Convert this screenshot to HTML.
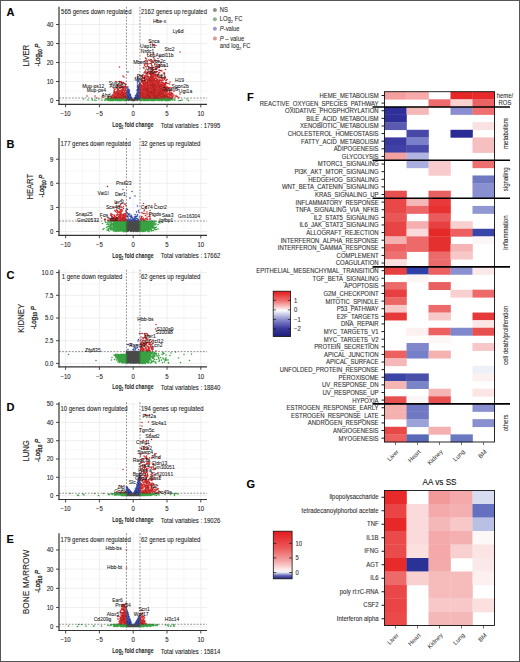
<!DOCTYPE html>
<html><head><meta charset="utf-8"><style>
html,body{margin:0;padding:0;background:#fff;}
svg{display:block;font-family:"Liberation Sans", sans-serif;}

</style></head><body>
<svg width="520" height="662" viewBox="0 0 520 662">
<rect width="520" height="662" fill="#fff"/>
<line x1="65.60" y1="6.8" x2="65.60" y2="104.4" stroke="#e4e4e4" stroke-width="0.6"/><line x1="82.50" y1="6.8" x2="82.50" y2="104.4" stroke="#f2f2f2" stroke-width="0.6"/><line x1="99.40" y1="6.8" x2="99.40" y2="104.4" stroke="#e4e4e4" stroke-width="0.6"/><line x1="116.30" y1="6.8" x2="116.30" y2="104.4" stroke="#f2f2f2" stroke-width="0.6"/><line x1="133.20" y1="6.8" x2="133.20" y2="104.4" stroke="#e4e4e4" stroke-width="0.6"/><line x1="150.10" y1="6.8" x2="150.10" y2="104.4" stroke="#f2f2f2" stroke-width="0.6"/><line x1="167.00" y1="6.8" x2="167.00" y2="104.4" stroke="#e4e4e4" stroke-width="0.6"/><line x1="183.90" y1="6.8" x2="183.90" y2="104.4" stroke="#f2f2f2" stroke-width="0.6"/><line x1="200.80" y1="6.8" x2="200.80" y2="104.4" stroke="#e4e4e4" stroke-width="0.6"/><line x1="59.0" y1="100.50" x2="207.0" y2="100.50" stroke="#e4e4e4" stroke-width="0.6"/><line x1="59.0" y1="91.00" x2="207.0" y2="91.00" stroke="#f2f2f2" stroke-width="0.6"/><line x1="59.0" y1="81.50" x2="207.0" y2="81.50" stroke="#e4e4e4" stroke-width="0.6"/><line x1="59.0" y1="72.00" x2="207.0" y2="72.00" stroke="#f2f2f2" stroke-width="0.6"/><line x1="59.0" y1="62.50" x2="207.0" y2="62.50" stroke="#e4e4e4" stroke-width="0.6"/><line x1="59.0" y1="53.00" x2="207.0" y2="53.00" stroke="#f2f2f2" stroke-width="0.6"/><line x1="59.0" y1="43.50" x2="207.0" y2="43.50" stroke="#e4e4e4" stroke-width="0.6"/><line x1="59.0" y1="34.00" x2="207.0" y2="34.00" stroke="#f2f2f2" stroke-width="0.6"/><line x1="59.0" y1="24.50" x2="207.0" y2="24.50" stroke="#e4e4e4" stroke-width="0.6"/>
<g transform="scale(0.5)" fill="none" stroke-linecap="round">
<path d="M268 200h0M264 199h0M265 200h0M266 201h0M258 196h0M263 200h0M267 201h0M265 201h0M264 200h0M262 199h0M270 199h0M269 200h0M264 201h0M263 199h0M270 200h0M269 199h0M271 198h0M260 198h0M268 201h0M272 197h0M271 199h0M267 200h0M260 196h0M262 200h0M262 198h0M272 198h0M271 196h0M261 198h0M259 198h0M271 197h0M257 198h0M263 198h0M274 198h0M272 199h0M273 198h0M268 199h0M261 199h0M260 197h0M273 197h0M275 197h0M273 196h0M259 197h0M262 197h0M274 197h0M270 197h0M274 196h0M266 200h0M270 198h0M257 197h0M261 197h0M269 198h0M261 196h0M271 200h0M263 197h0M258 197h0M272 196h0M273 199h0M259 199h0M260 199h0M262 196h0M275 198h0M264 198h0M264 197h0M259 196h0M256 197h0M258 198h0M269 197h0M272 200h0M270 196h0M269 201h0M276 197h0M268 198h0M274 199h0M257 196h0M256 196h0M276 196h0M275 196h0M277 198h0M277 196h0M265 199h0M261 200h0M278 196h0M263 196h0M280 196h0M277 197h0M275 200h0M276 199h0M275 199h0M275 201h0M280 197h0M278 198h0M277 199h0M280 199h0M258 199h0M256 200h0M254 199h0M256 198h0M258 201h0M256 199h0M253 201h0M257 200h0M255 197h0M257 199h0M258 200h0M254 198h0" stroke="#303030" stroke-opacity="0.88" stroke-width="3.2"/>
<path d="M306 197h0M288 197h0M330 196h0M324 200h0M293 198h0M313 196h0M318 199h0M284 197h0M299 199h0M322 199h0M331 197h0M341 200h0M324 197h0M334 199h0M290 198h0M296 197h0M336 198h0M314 197h0M345 200h0M311 196h0M320 198h0M330 197h0M319 198h0M295 198h0M286 199h0M300 197h0M280 197h0M322 197h0M297 198h0M317 198h0M288 198h0M311 197h0M331 196h0M332 199h0M325 198h0M322 200h0M321 197h0M312 198h0M301 197h0M301 198h0M296 198h0M342 197h0M321 199h0M311 199h0M282 197h0M307 197h0M285 198h0M323 196h0M298 196h0M317 197h0M344 198h0M287 198h0M295 197h0M294 199h0M314 199h0M297 196h0M321 198h0M308 198h0M302 198h0M287 199h0M316 197h0M291 198h0M339 198h0M305 200h0M328 198h0M302 200h0M333 197h0M306 198h0M298 201h0M298 197h0M326 196h0M301 196h0M286 198h0M299 198h0M319 200h0M332 198h0M283 197h0M338 199h0M309 197h0M290 196h0M331 198h0M312 197h0M309 198h0M286 197h0M315 200h0M303 197h0M326 199h0M287 197h0M335 198h0M305 197h0M312 200h0M333 199h0M295 196h0M343 198h0M282 199h0M281 201h0M335 197h0M344 197h0M310 197h0M293 197h0M282 196h0M288 199h0M345 198h0M338 198h0M313 197h0M244 197h0M231 198h0M243 200h0M235 197h0M217 199h0M229 198h0M226 197h0M220 198h0M226 198h0M230 197h0M219 198h0M247 200h0M242 198h0M220 199h0M249 196h0M225 197h0M223 200h0M225 201h0M225 199h0M238 199h0M227 198h0M245 200h0M233 199h0M215 199h0M228 200h0M244 196h0M247 199h0M232 199h0M225 200h0M234 197h0M227 199h0M226 201h0M230 200h0M248 199h0M229 200h0M245 197h0M226 199h0M245 198h0M234 198h0M245 199h0M240 199h0M241 199h0M251 199h0M223 199h0M221 197h0M246 200h0M246 199h0M243 198h0M230 199h0M220 200h0M250 200h0M228 198h0M250 199h0M241 201h0M212 197h0M231 200h0M219 200h0M247 196h0M223 198h0M218 198h0M237 197h0M212 199h0M252 199h0M243 199h0M238 200h0M210 201h0M238 197h0M221 200h0M236 199h0M229 197h0M235 201h0M235 196h0M233 198h0M216 200h0M236 197h0M249 197h0M233 200h0M235 200h0M214 199h0M223 197h0M222 199h0M242 201h0M210 200h0M244 201h0M247 197h0M246 198h0M244 200h0M230 198h0M239 201h0M216 201h0M236 198h0M218 197h0M221 199h0M227 197h0M221 201h0M228 199h0M243 197h0M219 201h0M229 199h0M248 200h0M228 196h0M247 198h0M233 197h0M242 196h0M243 201h0M226 196h0M224 200h0M217 198h0M236 200h0M215 198h0M237 198h0M234 200h0M224 199h0M231 199h0M246 197h0M249 200h0M226 200h0M213 197h0M238 198h0M248 197h0M204 200h0M232 197h0M249 199h0M215 200h0M250 197h0M240 197h0M231 197h0M231 196h0M214 197h0M244 199h0M240 196h0M214 198h0M251 196h0M239 197h0M224 201h0M216 196h0M237 199h0M251 198h0M222 200h0M241 198h0M248 198h0M228 197h0M243 196h0M253 199h0M230 196h0M225 198h0M237 200h0M252 201h0M238 196h0M237 196h0M220 197h0M251 197h0M221 198h0M242 197h0M239 198h0M239 200h0M232 201h0M234 196h0M252 200h0M225 196h0M219 196h0M241 197h0M227 200h0M235 198h0M224 197h0M250 201h0M220 201h0M223 196h0M252 197h0M222 198h0M248 201h0M219 197h0M240 198h0M224 196h0M231 201h0M250 196h0M224 198h0M249 198h0M234 199h0M241 200h0M227 196h0M237 201h0M242 200h0M246 196h0M221 196h0M239 199h0M250 198h0M222 201h0M236 201h0M244 198h0M227 201h0M235 199h0M252 198h0M251 200h0M242 199h0M310 200h0M297 199h0M334 198h0M295 199h0M327 197h0M309 199h0M319 199h0M297 200h0M283 199h0M290 200h0M280 199h0M328 199h0M316 200h0M302 199h0M306 196h0M330 198h0M281 200h0M329 197h0M298 198h0M294 198h0M323 197h0M289 198h0M318 196h0M285 197h0M282 198h0M286 200h0M328 196h0M330 201h0M284 198h0M291 199h0M324 196h0M296 199h0M337 200h0M298 199h0M306 200h0M303 196h0M340 200h0M299 196h0M311 198h0M325 197h0M281 198h0M335 200h0M309 200h0M319 196h0M312 199h0M320 197h0M316 196h0M287 200h0M336 200h0M336 201h0M320 199h0M307 196h0M294 197h0M334 197h0M318 198h0M332 197h0M315 197h0M304 198h0M323 198h0M283 198h0M317 200h0M330 200h0M291 197h0M295 200h0M293 199h0M307 200h0M303 199h0M281 197h0M340 197h0M326 198h0M309 196h0M285 196h0M337 201h0M280 198h0M300 199h0M304 200h0M339 197h0M282 200h0M305 198h0M293 196h0M333 200h0M324 198h0M320 201h0M328 197h0M310 201h0M313 199h0M290 199h0M332 200h0M285 200h0M327 200h0M308 197h0M335 201h0M289 200h0M283 201h0M301 200h0M325 201h0M300 198h0M288 200h0M310 196h0M337 198h0M337 199h0M329 196h0M340 198h0M289 196h0M310 199h0M327 199h0M290 197h0M303 200h0M292 197h0M296 196h0M325 196h0M291 201h0M338 200h0M304 196h0M299 197h0M308 199h0M340 196h0M316 198h0M310 198h0M338 196h0M283 200h0M340 199h0M298 200h0M317 196h0M300 200h0M288 196h0M323 200h0M315 198h0M322 198h0M334 201h0M301 199h0M340 201h0M284 199h0M290 201h0M291 200h0M292 200h0M313 200h0M299 201h0M299 200h0M305 199h0M339 196h0M317 201h0M302 197h0M318 197h0M307 199h0M321 196h0M307 198h0M296 200h0M327 198h0M326 197h0M333 201h0M303 201h0M287 201h0M289 197h0M332 201h0M314 198h0M326 200h0M320 196h0M331 199h0M292 198h0M334 200h0M291 196h0M319 197h0M338 197h0M333 196h0M341 199h0M284 196h0M325 200h0M335 196h0M332 196h0M280 201h0M330 199h0M315 199h0M329 199h0M324 199h0M339 199h0M333 198h0M293 200h0M323 201h0M289 199h0M294 201h0M305 201h0M306 199h0M316 199h0M307 201h0M294 196h0M316 201h0M336 196h0M315 196h0M289 201h0M303 198h0M292 199h0M304 201h0M312 196h0M331 200h0M329 198h0M328 200h0M295 201h0M309 201h0M304 197h0M337 197h0M308 196h0M335 199h0M339 200h0M329 200h0M314 196h0M337 196h0M192 201h0M176 200h0M189 200h0M184 198h0M167 198h0M185 200h0M198 198h0M358 201h0M349 200h0M361 201h0M344 199h0M374 198h0M364 200h0M341 198h0M377 201h0M348 198h0M350 200h0" stroke="#1c9428" stroke-opacity="0.88" stroke-width="3.2"/>
<path d="M275 196h0M256 190h0M280 187h0M273 196h0M274 186h0M255 180h0M256 194h0M258 194h0M273 195h0M259 195h0M273 194h0M272 196h0M277 195h0M258 195h0M275 194h0M276 184h0M258 193h0M275 193h0M273 193h0M258 196h0M276 196h0M276 190h0M259 196h0M274 193h0M260 195h0M278 178h0M254 188h0M276 194h0M256 191h0M272 195h0M272 193h0M277 187h0M257 196h0M260 196h0M272 192h0M274 190h0M259 192h0M257 192h0M253 186h0M277 188h0M271 196h0M276 195h0M257 190h0M258 191h0M277 193h0M276 193h0M259 193h0M274 196h0M255 193h0M275 195h0M254 196h0M274 189h0M257 195h0M259 194h0M254 194h0M274 194h0M274 192h0M277 196h0M272 194h0M279 185h0M255 192h0M257 194h0M261 195h0M258 189h0M262 195h0M261 196h0M260 193h0M260 192h0M276 192h0M272 191h0M258 192h0M261 194h0M257 180h0M271 194h0M256 195h0M274 195h0M275 185h0M255 182h0M276 188h0M273 189h0M262 194h0M276 182h0M275 187h0M273 192h0M274 180h0M257 193h0M270 196h0M275 186h0M256 196h0M257 191h0M278 190h0M274 191h0M256 193h0M279 170h0M276 181h0M271 195h0M261 193h0M276 191h0M255 188h0M263 195h0M278 192h0M261 189h0M255 174h0M260 194h0M273 191h0M275 191h0M255 187h0M278 195h0M275 192h0M255 186h0M257 184h0M259 191h0M276 185h0M256 187h0M258 186h0M275 190h0M279 195h0M277 190h0M255 179h0M278 193h0M256 192h0M277 194h0M258 188h0M255 195h0M277 184h0M274 187h0M257 189h0M276 187h0M263 196h0M277 191h0M255 191h0M255 181h0M257 178h0M259 186h0M277 189h0M260 191h0M255 190h0M278 188h0M258 187h0M255 194h0M253 194h0M258 185h0M276 189h0M278 183h0M274 181h0M277 178h0M279 181h0M262 196h0M275 180h0M259 182h0M278 191h0M261 190h0M279 189h0M275 181h0M255 183h0M253 185h0M261 192h0M256 182h0M258 190h0M277 192h0M279 192h0M254 186h0M277 185h0M254 177h0M279 187h0M257 186h0M259 190h0M279 173h0M277 177h0M275 189h0M260 189h0M277 183h0M276 183h0M271 191h0M278 185h0M276 177h0M261 191h0M259 189h0M280 193h0M277 181h0M254 185h0M260 188h0M256 188h0M270 195h0M275 184h0M279 191h0M254 187h0M259 187h0M280 186h0M279 193h0M280 195h0M279 190h0M278 174h0M277 172h0M275 175h0M275 179h0M279 184h0M279 183h0M276 156h0M279 179h0M280 172h0M276 174h0M278 187h0M275 174h0M275 164h0M279 196h0M277 182h0M275 162h0M276 175h0M275 154h0M275 170h0M280 167h0M278 180h0M277 175h0M278 181h0M278 175h0M279 180h0M276 179h0M279 174h0M276 159h0M279 166h0M275 173h0M279 177h0M276 186h0M279 168h0M277 179h0M275 188h0M278 196h0M278 186h0M278 169h0M280 182h0M280 176h0M275 166h0M280 159h0M279 172h0M280 181h0M280 170h0M278 163h0M278 173h0M277 162h0M276 173h0M277 186h0M279 182h0M280 178h0M276 180h0M277 174h0M258 184h0M254 192h0M255 196h0M255 178h0M254 190h0M258 179h0M257 188h0M254 175h0M256 174h0M258 180h0M256 144h0M256 180h0M258 182h0M253 184h0M258 183h0M254 193h0" stroke="#2240a8" stroke-opacity="0.88" stroke-width="3.2"/>
<path d="M275 196h0M255 180h0M273 194h0M276 184h0M276 196h0M278 178h0M272 193h0M274 190h0M271 196h0M276 193h0M254 196h0M274 194h0M255 192h0M261 196h0M258 192h0M274 195h0M262 194h0M257 193h0M278 190h0M271 195h0M278 192h0M275 191h0M257 184h0M275 190h0M256 192h0M274 187h0M255 191h0M260 191h0M253 194h0M277 178h0M278 191h0M253 185h0M279 192h0M257 186h0M260 189h0M276 177h0M254 185h0M279 191h0M280 195h0M275 179h0M280 172h0M279 196h0M275 170h0M278 175h0M279 166h0M277 179h0M280 182h0M280 181h0M276 173h0M277 174h0M254 190h0M258 180h0M258 183h0" stroke="#141c66" stroke-opacity="0.55" stroke-width="2.2"/>
<path d="M282 190h0M253 193h0M281 186h0M283 188h0M281 181h0M252 187h0M252 189h0M281 193h0M252 182h0M252 190h0M344 196h0M320 168h0M302 180h0M289 186h0M352 191h0M333 180h0M331 188h0M305 166h0M311 192h0M353 193h0M306 173h0M314 188h0M306 180h0M328 167h0M298 185h0M316 165h0M321 191h0M301 158h0M303 179h0M318 174h0M308 182h0M288 165h0M326 171h0M312 167h0M293 196h0M336 167h0M285 165h0M283 190h0M298 143h0M295 185h0M335 194h0M316 182h0M291 181h0M281 187h0M320 132h0M314 159h0M303 172h0M289 164h0M307 195h0M307 179h0M307 191h0M346 193h0M293 191h0M340 184h0M318 192h0M305 180h0M283 183h0M318 175h0M323 178h0M289 181h0M311 195h0M299 175h0M326 180h0M316 117h0M306 174h0M325 181h0M314 186h0M289 154h0M289 189h0M293 193h0M317 178h0M287 193h0M299 181h0M312 174h0M307 188h0M317 185h0M315 179h0M309 182h0M287 191h0M297 179h0M286 195h0M318 189h0M300 184h0M334 188h0M298 174h0M326 179h0M293 183h0M312 170h0M328 191h0M311 139h0M319 190h0M312 176h0M318 185h0M312 91h0M306 172h0M280 187h0M316 153h0M303 178h0M313 164h0M287 157h0M296 177h0M308 183h0M286 180h0M311 163h0M296 176h0M323 179h0M323 186h0M285 184h0M305 183h0M321 192h0M320 186h0M299 184h0M314 172h0M310 189h0M295 174h0M332 167h0M294 183h0M288 178h0M332 182h0M343 187h0M296 185h0M291 170h0M311 149h0M288 190h0M301 175h0M287 167h0M299 190h0M296 159h0M321 174h0M313 156h0M292 192h0M308 179h0M302 160h0M284 193h0M300 187h0M293 179h0M309 172h0M312 187h0M286 170h0M332 172h0M295 192h0M319 171h0M287 185h0M302 188h0M308 175h0M301 168h0M311 157h0M324 178h0M304 183h0M284 195h0M291 172h0M304 194h0M290 172h0M293 157h0M308 90h0M315 194h0M314 171h0M289 183h0M297 173h0M305 165h0M305 139h0M287 169h0M317 179h0M316 178h0M299 168h0M310 187h0M322 183h0M322 194h0M298 171h0M308 173h0M329 172h0M335 190h0M319 182h0M314 163h0M307 150h0M320 112h0M312 169h0M301 173h0M304 150h0M295 194h0M299 161h0M285 166h0M312 155h0M284 181h0M324 150h0M291 166h0M295 132h0M313 188h0M288 177h0M301 182h0M299 195h0M296 173h0M303 194h0M311 175h0M299 174h0M313 195h0M340 164h0M312 190h0M304 177h0M305 190h0M305 185h0M304 168h0M301 186h0M315 185h0M294 187h0M298 188h0M311 167h0M334 180h0M317 147h0M315 174h0M307 169h0M306 192h0M332 184h0M325 189h0M312 183h0M303 187h0M302 142h0M281 176h0M310 167h0M294 170h0M310 151h0M306 187h0M321 166h0M304 147h0M341 187h0M301 160h0M287 173h0M310 185h0M291 121h0M324 176h0M295 153h0M297 159h0M310 177h0M331 182h0M311 189h0M307 181h0M311 187h0M309 186h0M298 164h0M301 163h0M323 193h0M313 165h0M309 181h0M289 195h0M312 193h0M281 185h0M300 170h0M294 174h0M329 168h0M293 186h0M326 192h0M296 183h0M299 163h0M307 124h0M300 183h0M313 191h0M340 175h0M290 186h0M302 166h0M329 174h0M302 120h0M301 188h0M319 193h0M296 187h0M324 183h0M292 147h0M311 150h0M326 187h0M290 192h0M309 194h0M334 159h0M290 176h0M283 164h0M285 192h0M301 194h0M303 184h0M300 167h0M285 188h0M304 186h0M295 190h0M295 172h0M287 187h0M309 170h0M322 192h0M318 167h0M308 189h0M287 189h0M303 193h0M320 177h0M319 185h0M326 189h0M298 186h0M316 185h0M320 194h0M330 175h0M308 181h0M304 173h0M302 183h0M298 148h0M285 182h0M313 181h0M322 180h0M299 180h0M298 178h0M305 195h0M319 132h0M311 184h0M312 177h0M297 134h0M303 176h0M332 192h0M294 178h0M297 169h0M319 189h0M286 167h0M319 183h0M330 188h0M315 166h0M333 187h0M308 160h0M319 179h0M287 166h0M323 151h0M305 182h0M306 179h0M298 184h0M342 196h0M281 190h0M288 185h0M287 195h0M310 161h0M316 163h0M285 181h0M307 107h0M287 184h0M301 170h0M320 185h0M328 195h0M306 182h0M316 175h0M312 157h0M301 167h0M308 187h0M316 171h0M285 154h0M318 140h0M342 181h0M315 189h0M304 188h0M324 181h0M290 177h0M301 162h0M311 178h0M321 168h0M303 126h0M324 189h0M285 183h0M319 184h0M350 194h0M317 192h0M302 176h0M304 158h0M316 159h0M321 184h0M281 171h0M320 173h0M324 184h0M337 196h0M315 191h0M285 193h0M329 183h0M284 183h0M305 176h0M334 181h0M325 178h0M305 154h0M310 175h0M306 162h0M316 170h0M335 183h0M295 178h0M314 151h0M286 171h0M280 189h0M348 190h0M308 168h0M303 188h0M288 180h0M286 176h0M315 183h0M307 192h0M289 123h0M299 143h0M290 165h0M317 163h0M315 182h0M317 170h0M315 186h0M290 188h0M295 163h0M294 184h0M292 174h0M306 177h0M317 194h0M313 182h0M287 192h0M309 180h0M324 188h0M295 195h0M307 165h0M293 184h0M281 189h0M326 161h0M300 180h0M318 165h0M292 166h0M320 184h0M325 177h0M333 192h0M281 174h0M321 160h0M294 175h0M293 178h0M334 175h0M296 180h0M284 173h0M304 187h0M309 177h0M302 170h0M342 180h0M310 128h0M314 175h0M303 167h0M311 185h0M301 176h0M302 184h0M300 164h0M286 194h0M301 179h0M304 166h0M332 175h0M309 188h0M285 164h0M314 162h0M298 170h0M329 192h0M302 190h0M291 183h0M325 176h0M296 152h0M288 184h0M289 187h0M299 135h0M285 160h0M289 153h0M345 187h0M298 182h0M288 196h0M327 192h0M300 175h0M283 163h0M295 186h0M312 168h0M307 193h0M318 161h0M297 171h0M292 184h0M321 173h0M305 192h0M303 195h0M285 163h0M292 171h0M314 182h0M299 189h0M299 183h0M326 184h0M282 159h0M291 191h0M317 188h0M288 176h0M301 149h0M334 186h0M300 166h0M299 182h0M327 173h0M290 196h0M319 145h0M302 167h0M300 154h0M322 173h0M301 183h0M301 196h0M293 118h0M323 164h0M281 166h0M291 116h0M318 184h0M299 176h0M285 173h0M315 134h0M281 194h0M281 182h0M294 188h0M301 174h0M315 184h0M288 155h0M312 185h0M298 161h0M316 173h0M283 184h0M316 164h0M313 189h0M291 189h0M301 157h0M302 174h0M284 171h0M309 157h0M291 155h0M296 167h0M291 171h0M299 188h0M311 173h0M297 174h0M314 191h0M321 181h0M296 161h0M318 130h0M300 171h0M291 195h0M290 191h0M292 179h0M333 183h0M296 170h0M290 190h0M320 172h0M313 192h0M296 166h0M307 186h0M293 175h0M289 152h0M309 171h0M313 185h0M295 196h0M297 181h0M281 180h0M312 196h0M290 178h0M289 192h0M304 189h0M298 194h0M289 175h0M305 186h0M284 180h0M285 194h0M309 196h0M307 185h0M292 168h0M331 192h0M326 169h0M331 155h0M300 158h0M328 179h0M297 153h0M312 175h0M318 194h0M308 192h0M330 183h0M329 179h0M326 185h0M295 168h0M291 180h0M286 184h0M310 182h0M299 179h0M293 165h0M331 169h0M360 188h0M291 184h0M315 192h0M282 183h0M292 177h0M314 168h0M319 174h0M325 179h0M289 130h0M297 191h0M308 147h0M312 178h0M295 189h0M298 179h0M300 127h0M295 193h0M283 170h0M304 170h0M297 189h0M323 180h0M295 148h0M305 122h0M280 192h0M290 155h0M304 142h0M324 165h0M314 187h0M324 182h0M295 161h0M304 190h0M339 190h0M319 188h0M322 195h0M304 179h0M283 153h0M305 88h0M304 144h0M288 186h0M303 164h0M282 187h0M308 151h0M310 179h0M287 177h0M288 194h0M287 176h0M315 193h0M310 181h0M297 188h0M284 172h0M309 176h0M319 192h0M312 186h0M292 183h0M315 143h0M285 180h0M318 183h0M302 161h0M319 173h0M310 191h0M318 172h0M325 157h0M335 188h0M321 182h0M297 168h0M339 184h0M304 196h0M299 169h0M315 178h0M323 194h0M307 176h0M302 169h0M297 185h0M286 162h0M296 194h0M333 175h0M285 172h0M306 168h0M294 192h0M282 174h0M296 182h0M289 185h0M318 178h0M302 191h0M341 189h0M308 185h0M298 191h0M308 180h0M312 189h0M306 164h0M322 141h0M289 191h0M331 176h0M303 190h0M311 162h0M295 187h0M325 191h0M306 155h0M285 156h0M298 192h0M316 187h0M326 181h0M333 191h0M306 189h0M289 145h0M311 186h0M327 181h0M322 125h0M316 160h0M334 190h0M314 174h0M282 186h0M286 187h0M322 193h0M304 180h0M318 190h0M301 185h0M313 178h0M284 177h0M337 189h0M329 193h0M293 189h0M291 188h0M316 179h0M298 193h0M305 168h0M285 176h0M305 191h0M301 187h0M339 188h0M322 177h0M311 181h0M298 169h0M293 188h0M302 185h0M289 180h0M294 185h0M309 190h0M304 175h0M301 166h0M322 181h0M294 168h0M319 194h0M325 160h0M298 168h0M320 188h0M283 193h0M300 193h0M318 173h0M297 158h0M294 189h0M318 179h0M290 195h0M307 178h0M322 186h0M319 162h0M317 176h0M309 156h0M324 160h0M298 177h0M330 133h0M315 160h0M292 144h0M292 167h0M318 135h0M296 175h0M307 172h0M310 136h0M308 190h0M290 166h0M309 184h0M311 176h0M286 161h0M280 180h0M339 168h0M305 137h0M300 163h0M294 194h0M307 189h0M325 193h0M309 189h0M289 178h0M330 177h0M337 177h0M309 185h0M299 192h0M302 181h0M302 175h0M313 184h0M346 194h0M297 190h0M301 152h0M317 190h0M306 124h0M318 168h0M302 172h0M314 192h0M301 184h0M336 192h0M330 181h0M287 188h0M281 169h0M309 162h0M297 178h0M292 178h0M308 159h0M313 194h0M289 163h0M323 191h0M331 190h0M292 156h0M309 121h0M286 174h0M286 173h0M291 177h0M282 179h0M283 191h0M296 164h0M301 159h0M293 180h0M297 180h0M304 160h0M293 181h0M294 150h0M315 196h0M284 192h0M294 162h0M308 154h0M291 163h0M324 196h0M330 174h0M300 155h0M306 186h0M300 159h0M299 185h0M304 152h0M317 154h0M286 192h0M319 170h0M296 160h0M310 178h0M336 193h0M314 181h0M298 165h0M311 164h0M304 161h0M327 184h0M290 179h0M308 172h0M297 192h0M307 173h0M324 167h0M299 167h0M297 176h0M321 171h0M294 180h0M292 187h0M303 175h0M331 139h0M308 161h0M306 175h0M308 157h0M292 195h0M307 158h0M282 172h0M287 179h0M313 168h0M321 188h0M293 185h0M319 130h0M313 161h0M339 192h0M331 181h0M343 176h0M298 181h0M288 170h0M294 123h0M284 175h0M325 184h0M292 186h0M332 190h0M304 192h0M311 183h0M318 195h0M315 181h0M303 130h0M329 147h0M291 167h0M290 180h0M306 146h0M319 175h0M317 165h0M317 172h0M314 184h0M310 171h0M318 187h0M305 193h0M282 171h0M312 145h0M296 128h0M295 169h0M303 186h0M322 182h0M325 172h0M287 163h0M326 193h0M306 184h0M293 158h0M321 172h0M288 172h0M281 168h0M333 166h0M284 151h0M324 170h0M300 178h0M306 135h0M300 157h0M324 168h0M302 147h0M316 151h0M303 185h0M294 179h0M305 164h0M342 190h0M296 188h0M327 187h0M302 123h0M303 191h0M300 189h0M312 182h0M290 161h0M303 163h0M296 186h0M313 166h0M308 177h0M318 196h0M312 179h0M324 161h0M321 187h0M318 191h0M310 173h0M313 172h0M331 186h0M314 178h0M310 190h0M320 192h0M327 146h0M325 194h0M288 174h0M329 173h0M303 156h0M335 175h0M282 177h0M304 185h0M328 196h0M303 149h0M309 175h0M284 190h0M324 179h0M310 183h0M315 188h0M329 171h0M307 156h0M315 136h0M324 187h0M312 144h0M316 174h0M292 150h0M313 187h0M317 171h0M331 165h0M289 184h0M302 136h0M300 185h0M300 147h0M308 150h0M313 193h0M328 175h0M308 196h0M294 190h0M322 170h0M315 170h0M297 166h0M293 173h0M317 193h0M288 193h0M338 186h0M313 179h0M324 142h0M315 161h0M280 151h0M310 192h0M306 161h0M341 195h0M309 169h0M312 191h0M287 194h0M348 183h0M298 173h0M296 195h0M289 161h0M336 196h0M303 177h0M292 165h0M356 179h0M316 168h0M286 165h0M293 170h0M292 173h0M320 195h0M320 189h0M310 158h0M296 192h0M285 190h0M292 146h0M306 181h0M294 169h0M333 177h0M305 194h0M286 175h0M304 178h0M305 148h0M308 176h0M305 184h0M282 169h0M295 164h0M303 192h0M303 171h0M324 195h0M313 190h0M316 192h0M292 172h0M305 159h0M306 166h0M317 184h0M308 186h0M290 194h0M304 174h0M309 143h0M333 188h0M305 174h0M304 167h0M280 183h0M312 188h0M303 189h0M293 190h0M316 183h0M301 180h0M304 182h0M304 137h0M299 162h0M307 153h0M311 191h0M322 178h0M305 173h0M304 164h0M340 191h0M328 184h0M289 128h0M314 152h0M308 116h0M328 183h0M321 161h0M301 192h0M285 191h0M300 190h0M320 190h0M314 167h0M329 189h0M332 196h0M329 158h0M281 195h0M336 194h0M333 182h0M328 182h0M292 181h0M306 169h0M305 153h0M313 175h0M331 194h0M321 189h0M325 192h0M314 173h0M337 187h0M308 171h0M329 190h0M308 164h0M280 186h0M312 180h0M282 194h0M311 194h0M302 171h0M308 194h0M286 185h0M289 179h0M302 186h0M302 179h0M295 170h0M294 176h0M319 154h0M300 194h0M331 184h0M289 194h0M300 168h0M313 183h0M344 187h0M311 170h0M284 176h0M305 189h0M291 193h0M296 154h0M312 139h0M282 188h0M283 195h0M329 159h0M285 186h0M297 193h0M283 192h0M325 183h0M299 165h0M301 145h0M293 153h0M339 182h0M291 179h0M303 150h0M322 185h0M299 159h0M327 168h0M325 186h0M327 189h0M323 156h0M311 188h0M294 160h0M301 153h0M331 193h0M304 171h0M304 195h0M329 184h0M310 163h0M301 172h0M334 193h0M302 164h0M282 185h0M314 179h0M304 155h0M333 193h0M338 194h0M330 157h0M310 157h0M295 177h0M280 176h0M320 187h0M308 193h0M301 178h0M304 151h0M306 170h0M305 181h0M323 187h0M319 164h0M317 180h0M330 179h0M286 186h0M302 152h0M305 132h0M306 108h0M288 167h0M324 175h0M289 190h0M306 171h0M293 172h0M324 186h0M300 192h0M292 126h0M340 196h0M308 162h0M328 185h0M301 195h0M319 191h0M314 194h0M323 195h0M305 187h0M290 168h0M290 152h0M317 146h0M296 189h0M329 146h0M311 151h0M295 176h0M305 150h0M314 195h0M329 180h0M297 137h0M332 185h0M301 191h0M290 183h0M319 131h0M320 169h0M297 186h0M324 193h0M300 156h0M315 190h0M324 180h0M331 187h0M320 191h0M342 189h0M308 178h0M307 174h0M298 158h0M330 153h0M332 194h0M295 191h0M310 194h0M315 167h0M285 189h0M309 179h0M307 166h0M283 173h0M318 166h0M326 194h0M307 175h0M301 193h0M320 178h0M307 190h0M326 155h0M312 184h0M323 172h0M309 166h0M295 109h0M324 173h0M316 167h0M307 161h0M327 194h0M305 163h0M335 192h0M295 159h0M306 158h0M321 196h0M302 192h0M301 164h0M288 182h0M310 180h0M302 177h0M332 188h0M325 171h0M306 90h0M307 168h0M318 154h0M328 157h0M285 178h0M322 176h0M319 160h0M317 187h0M299 164h0M317 166h0M324 185h0M328 192h0M299 156h0M288 195h0M302 159h0M323 181h0M284 187h0M302 193h0M292 196h0M286 189h0M316 181h0M291 194h0M320 193h0M310 162h0M344 192h0M287 182h0M313 174h0M328 176h0M323 183h0M301 169h0M326 165h0M339 180h0M310 168h0M326 168h0M299 191h0M306 149h0M297 184h0M320 182h0M296 156h0M289 131h0M330 195h0M297 194h0M288 183h0M311 136h0M285 187h0M308 148h0M301 155h0M287 150h0M296 174h0M327 170h0M313 176h0M281 188h0M307 182h0M299 196h0M303 127h0M330 193h0M307 196h0M336 179h0M347 190h0M319 181h0M295 147h0M311 152h0M320 181h0M281 179h0M332 189h0M297 195h0M300 182h0M319 168h0M310 144h0M305 142h0M313 130h0M304 191h0M323 184h0M312 149h0M315 165h0M292 182h0M303 153h0M321 176h0M330 166h0M337 175h0M326 170h0M309 191h0M288 188h0M302 141h0M305 157h0M297 120h0M290 189h0M280 174h0M323 189h0M305 169h0M313 167h0M310 193h0M357 196h0M298 162h0M300 136h0M326 190h0M294 165h0M290 184h0M338 176h0M310 195h0M298 183h0M288 169h0M324 172h0M284 185h0M290 143h0M290 185h0M325 170h0M294 181h0M299 187h0M312 153h0M309 161h0M310 176h0M317 169h0M306 150h0M319 156h0M342 192h0M300 176h0M281 173h0M295 188h0M302 158h0M325 180h0M308 145h0M305 155h0M316 158h0M296 172h0M302 145h0M289 157h0M325 167h0M296 193h0M319 187h0M315 195h0M299 193h0M318 180h0M313 136h0M324 177h0M321 177h0M311 182h0M297 196h0M293 168h0M316 191h0M297 183h0M288 136h0M285 161h0M322 172h0M303 165h0M287 135h0M295 145h0M317 164h0M298 155h0M313 177h0M294 177h0M332 161h0M323 182h0M291 140h0M288 146h0M327 186h0M344 190h0M305 136h0M301 85h0M344 193h0M320 180h0M302 162h0M323 185h0M318 181h0M292 159h0M316 196h0M335 193h0M296 178h0M303 169h0M300 165h0M300 161h0M284 191h0M307 167h0M317 149h0M308 166h0M307 140h0M318 170h0M282 175h0M326 183h0M282 178h0M355 193h0M298 159h0M299 121h0M322 155h0M310 150h0M284 182h0M296 190h0M315 173h0M300 111h0M333 165h0M318 182h0M311 196h0M283 182h0M300 177h0M280 170h0M333 181h0M320 141h0M314 169h0M302 195h0M289 162h0M300 188h0M304 169h0M294 171h0M283 159h0M310 184h0M316 150h0M310 166h0M309 192h0M323 162h0M323 190h0M298 187h0M307 146h0M322 188h0M286 179h0M326 167h0M309 174h0M290 160h0M327 157h0M316 122h0M316 176h0M293 192h0M335 174h0M318 176h0M291 133h0M304 162h0M297 187h0M295 179h0M322 156h0M340 195h0M330 170h0M302 196h0M321 183h0M301 119h0M304 157h0M284 184h0M308 195h0M311 171h0M291 190h0M290 174h0M292 128h0M300 186h0M311 193h0M281 175h0M343 185h0M286 196h0M286 178h0M303 183h0M313 143h0M312 122h0M295 130h0M307 162h0M315 151h0M297 163h0M249 188h0M242 182h0M229 178h0M248 194h0M229 195h0M248 185h0M235 177h0M230 192h0M235 184h0M242 163h0M232 196h0M250 187h0M247 177h0M244 193h0M242 192h0M237 184h0M245 187h0M229 196h0M248 188h0M223 192h0M240 189h0M246 180h0M239 186h0M234 196h0M244 194h0M239 176h0M234 194h0M239 191h0M246 185h0M248 181h0M235 170h0M251 189h0M235 195h0M245 188h0M246 194h0M232 188h0M251 188h0M243 184h0M229 193h0M236 191h0M234 188h0M234 183h0M245 193h0M247 190h0M238 195h0M236 190h0M234 182h0M235 192h0M234 195h0M233 195h0M232 194h0M244 183h0M244 190h0M223 195h0M232 193h0M230 191h0M247 188h0M240 183h0M247 193h0M250 176h0M225 196h0M216 194h0M229 185h0M250 174h0M247 189h0M241 192h0M237 192h0M235 194h0M243 173h0M250 180h0M240 187h0M245 195h0M226 194h0M237 193h0M238 188h0M227 186h0M226 191h0M226 189h0M235 191h0M250 193h0M251 194h0M245 194h0M241 191h0M246 195h0M240 192h0M216 196h0M249 184h0M232 185h0M252 173h0M246 152h0M243 164h0M238 196h0M247 194h0M240 194h0M231 185h0M251 187h0M236 171h0M241 195h0M237 188h0M233 189h0M252 176h0M246 193h0M245 181h0M229 194h0M240 193h0M244 173h0M247 173h0M240 190h0M250 168h0M245 186h0M224 196h0M222 196h0M224 195h0M222 193h0M249 195h0M236 172h0M230 193h0M248 195h0M237 189h0M252 180h0M228 194h0M235 187h0M248 176h0M252 193h0M228 192h0M242 194h0M234 193h0M229 192h0M244 192h0M238 182h0M230 190h0M250 179h0M225 190h0M252 186h0M217 193h0M246 189h0M241 174h0M251 174h0M240 164h0M234 175h0M232 192h0M250 181h0M249 190h0M231 194h0M237 178h0M237 185h0M234 170h0M236 186h0M230 187h0M228 193h0M228 181h0M227 193h0M235 179h0M241 176h0M233 187h0M231 192h0M252 196h0M235 183h0M236 187h0M249 183h0M232 176h0M243 192h0M238 187h0M244 180h0M251 169h0M245 189h0M251 177h0M236 194h0M229 184h0M246 182h0M239 163h0M251 192h0M237 186h0M233 194h0M227 191h0M238 184h0M235 181h0M242 181h0M243 185h0M238 193h0M248 154h0M242 185h0M245 196h0M250 192h0M251 186h0M241 181h0M240 173h0M232 186h0M248 192h0M244 195h0M245 166h0M245 184h0M243 193h0M217 195h0M249 189h0M240 181h0M243 194h0M239 195h0M246 190h0M237 181h0M230 196h0M236 188h0M238 191h0M244 187h0M243 186h0M253 196h0M234 189h0M242 188h0M238 194h0M243 196h0M249 193h0M239 184h0M239 190h0M247 180h0M246 177h0M228 184h0M245 175h0M242 187h0M241 189h0M249 173h0M249 194h0M243 191h0M235 185h0M250 194h0M245 192h0M241 196h0M226 193h0M240 191h0M247 176h0M231 195h0M235 186h0M251 191h0M237 194h0M252 192h0M252 195h0M245 176h0M244 179h0M234 173h0M235 178h0M245 177h0M230 179h0M232 184h0M223 196h0M247 165h0M229 183h0M228 190h0M231 193h0M231 184h0M242 190h0M244 185h0M231 187h0M242 196h0M236 193h0M250 167h0M230 194h0M247 174h0M239 134h0M234 186h0M251 172h0M233 196h0M235 193h0M241 194h0M242 171h0M244 191h0M238 167h0M225 194h0M251 196h0M233 192h0M240 188h0M233 191h0M248 167h0M230 195h0M239 181h0M230 188h0M241 187h0M237 190h0M232 163h0M190 192h0M206 192h0M174 192h0M206 195h0M193 196h0M358 195h0M314 41h0M358 64h0M360 104h0M307 91h0" stroke="#cc1414" stroke-opacity="0.88" stroke-width="3.2"/>
<path d="M282 190h0M252 187h0M344 196h0M333 180h0M306 173h0M316 165h0M308 182h0M336 167h0M335 194h0M314 159h0M307 191h0M305 180h0M311 195h0M325 181h0M317 178h0M317 185h0M286 195h0M326 179h0M319 190h0M280 187h0M296 177h0M323 179h0M320 186h0M332 167h0M296 185h0M287 167h0M292 192h0M293 179h0M295 192h0M301 168h0M291 172h0M315 194h0M305 139h0M310 187h0M329 172h0M320 112h0M299 161h0M291 166h0M299 195h0M313 195h0M305 185h0M298 188h0M307 169h0M303 187h0M310 151h0M301 160h0M295 153h0M307 181h0M323 193h0M281 185h0M326 192h0M313 191h0M302 120h0M292 147h0M334 159h0M303 184h0M295 172h0M308 189h0M326 189h0M308 181h0M313 181h0M319 132h0M332 192h0M319 183h0M319 179h0M298 184h0M310 161h0M301 170h0M312 157h0M318 140h0M290 177h0M324 189h0M302 176h0M320 173h0M329 183h0M305 154h0M295 178h0M308 168h0M307 192h0M315 182h0M294 184h0M287 192h0M293 184h0M292 166h0M321 160h0M284 173h0M310 128h0M302 184h0M332 175h0M329 192h0M288 184h0M345 187h0M283 163h0M297 171h0M285 163h0M326 184h0M301 149h0M290 196h0M301 183h0M291 116h0M281 194h0M288 155h0M316 164h0M284 171h0M299 188h0M296 161h0M292 179h0M313 192h0M309 171h0M312 196h0M289 175h0M307 185h0M300 158h0M308 192h0M291 180h0M331 169h0M292 177h0M297 191h0M300 127h0M323 180h0M304 142h0M304 190h0M283 153h0M282 187h0M287 176h0M309 176h0M285 180h0M318 172h0M339 184h0M307 176h0M333 175h0M296 182h0M308 185h0M322 141h0M295 187h0M316 187h0M311 186h0M314 174h0M318 190h0M329 193h0M305 168h0M322 177h0M289 180h0M322 181h0M320 188h0M294 189h0M319 162h0M330 133h0M296 175h0M309 184h0M305 137h0M309 189h0M299 192h0M297 190h0M302 172h0M287 188h0M308 159h0M292 156h0M282 179h0M297 180h0M284 192h0M330 174h0M304 152h0M310 178h0M304 161h0M307 173h0M294 180h0M306 175h0M287 179h0M313 161h0M288 170h0M332 190h0M303 130h0M319 175h0M318 187h0M295 169h0M326 193h0M281 168h0M306 135h0M303 185h0M327 187h0M290 161h0M318 196h0M310 173h0M320 192h0M303 156h0M303 149h0M315 188h0M312 144h0M331 165h0M308 150h0M322 170h0M288 193h0M280 151h0M312 191h0M289 161h0M316 168h0M320 189h0M306 181h0M304 178h0M295 164h0M316 192h0M308 186h0M305 174h0M293 190h0M299 162h0M304 164h0M308 116h0M300 190h0M329 158h0M292 181h0M321 189h0M329 190h0M311 194h0M302 186h0M300 194h0M344 187h0M296 154h0M285 186h0M301 145h0M322 185h0M323 156h0M304 171h0M334 193h0M333 193h0M280 176h0M306 170h0M330 179h0M288 167h0M324 186h0M328 185h0M305 187h0M329 146h0M329 180h0M319 131h0M315 190h0M308 178h0M295 191h0M307 166h0M301 193h0M323 172h0M307 161h0M306 158h0M310 180h0M307 168h0M319 160h0M328 192h0M284 187h0M291 194h0M313 174h0M339 180h0M297 184h0M297 194h0M301 155h0M281 188h0M307 196h0M311 152h0M300 182h0M304 191h0M303 153h0M309 191h0M290 189h0M310 193h0M294 165h0M288 169h0M325 170h0M310 176h0M300 176h0M308 145h0M289 157h0M299 193h0M311 182h0M288 136h0M295 145h0M332 161h0M344 190h0M302 162h0M335 193h0M284 191h0M318 170h0M298 159h0M296 190h0M311 196h0M320 141h0M304 169h0M310 166h0M307 146h0M290 160h0M335 174h0M295 179h0M321 183h0M311 171h0M311 193h0M303 183h0M315 151h0M248 194h0M235 184h0M244 193h0M248 188h0M234 196h0M246 185h0M245 188h0M229 193h0M247 190h0M234 195h0M223 195h0M247 193h0M250 174h0M243 173h0M237 193h0M235 191h0M246 195h0M252 173h0M240 194h0M237 188h0M229 194h0M250 168h0M222 193h0M237 189h0M252 193h0M244 192h0M252 186h0M240 164h0M231 194h0M230 187h0M241 176h0M236 187h0M244 180h0M229 184h0M233 194h0M243 185h0M250 192h0M248 192h0M217 195h0M246 190h0M244 187h0M238 194h0M247 180h0M241 189h0M250 194h0M247 176h0M252 192h0M235 178h0M247 165h0M242 190h0M250 167h0M251 172h0M244 191h0M240 188h0M230 188h0M206 192h0M314 41h0" stroke="#8a0c0c" stroke-opacity="0.55" stroke-width="2.2"/>
</g>
<line x1="126.44" y1="6.8" x2="126.44" y2="104.4" stroke="#555" stroke-width="0.65" stroke-dasharray="1.8,1.4"/>
<line x1="139.96" y1="6.8" x2="139.96" y2="104.4" stroke="#555" stroke-width="0.65" stroke-dasharray="1.8,1.4"/>
<line x1="59.0" y1="98.03" x2="207.0" y2="98.03" stroke="#555" stroke-width="0.65" stroke-dasharray="1.8,1.4"/>
<text x="159.60" y="22.95" font-size="5.4" text-anchor="middle" fill="#111" font-weight="normal" stroke="#111" stroke-width="0.06" textLength="13.34" lengthAdjust="spacingAndGlyphs">Hbe-x</text>
<text x="178.10" y="33.35" font-size="5.4" text-anchor="middle" fill="#111" font-weight="normal" stroke="#111" stroke-width="0.06" textLength="10.66" lengthAdjust="spacingAndGlyphs">Ly6d</text>
<text x="153.90" y="42.55" font-size="5.4" text-anchor="middle" fill="#111" font-weight="normal" stroke="#111" stroke-width="0.06" textLength="11.40" lengthAdjust="spacingAndGlyphs">Snca</text>
<text x="148.00" y="47.65" font-size="5.4" text-anchor="middle" fill="#111" font-weight="normal" stroke="#111" stroke-width="0.06" textLength="15.85" lengthAdjust="spacingAndGlyphs">Uap1l1</text>
<text x="147.50" y="52.65" font-size="5.4" text-anchor="middle" fill="#111" font-weight="normal" stroke="#111" stroke-width="0.06" textLength="13.34" lengthAdjust="spacingAndGlyphs">Nrdc1</text>
<text x="169.50" y="50.85" font-size="5.4" text-anchor="middle" fill="#111" font-weight="normal" stroke="#111" stroke-width="0.06" textLength="10.01" lengthAdjust="spacingAndGlyphs">Stc2</text>
<text x="151.20" y="57.35" font-size="5.4" text-anchor="middle" fill="#111" font-weight="normal" stroke="#111" stroke-width="0.06" textLength="8.34" lengthAdjust="spacingAndGlyphs">Lbp</text>
<text x="164.60" y="57.05" font-size="5.4" text-anchor="middle" fill="#111" font-weight="normal" stroke="#111" stroke-width="0.06" textLength="17.98" lengthAdjust="spacingAndGlyphs">Apol11b</text>
<text x="140.80" y="63.95" font-size="5.4" text-anchor="middle" fill="#111" font-weight="normal" stroke="#111" stroke-width="0.06" textLength="15.29" lengthAdjust="spacingAndGlyphs">Mben1</text>
<text x="158.30" y="62.95" font-size="5.4" text-anchor="middle" fill="#111" font-weight="normal" stroke="#111" stroke-width="0.06" textLength="14.45" lengthAdjust="spacingAndGlyphs">Ube2c</text>
<text x="161.30" y="66.65" font-size="5.4" text-anchor="middle" fill="#111" font-weight="normal" stroke="#111" stroke-width="0.06" textLength="14.73" lengthAdjust="spacingAndGlyphs">Ugbe1</text>
<text x="151.60" y="70.45" font-size="5.4" text-anchor="middle" fill="#111" font-weight="normal" stroke="#111" stroke-width="0.06" textLength="11.67" lengthAdjust="spacingAndGlyphs">Cdc2</text>
<text x="151.20" y="73.75" font-size="5.4" text-anchor="middle" fill="#111" font-weight="normal" stroke="#111" stroke-width="0.06" textLength="10.01" lengthAdjust="spacingAndGlyphs">Anln</text>
<text x="139.80" y="77.85" font-size="5.4" text-anchor="middle" fill="#111" font-weight="normal" stroke="#111" stroke-width="0.06" textLength="6.11" lengthAdjust="spacingAndGlyphs">Prl</text>
<text x="161.00" y="77.85" font-size="5.4" text-anchor="middle" fill="#111" font-weight="normal" stroke="#111" stroke-width="0.06" textLength="9.72" lengthAdjust="spacingAndGlyphs">Ttk1</text>
<text x="140.00" y="81.15" font-size="5.4" text-anchor="middle" fill="#111" font-weight="normal" stroke="#111" stroke-width="0.06" textLength="11.11" lengthAdjust="spacingAndGlyphs">Mrc1</text>
<text x="179.50" y="82.15" font-size="5.4" text-anchor="middle" fill="#111" font-weight="normal" stroke="#111" stroke-width="0.06" textLength="9.17" lengthAdjust="spacingAndGlyphs">H19</text>
<text x="180.20" y="87.65" font-size="5.4" text-anchor="middle" fill="#111" font-weight="normal" stroke="#111" stroke-width="0.06" textLength="17.24" lengthAdjust="spacingAndGlyphs">Spon2b</text>
<text x="170.00" y="90.75" font-size="5.4" text-anchor="middle" fill="#111" font-weight="normal" stroke="#111" stroke-width="0.06" textLength="16.12" lengthAdjust="spacingAndGlyphs">Tspan8</text>
<text x="185.50" y="92.65" font-size="5.4" text-anchor="middle" fill="#111" font-weight="normal" stroke="#111" stroke-width="0.06" textLength="13.34" lengthAdjust="spacingAndGlyphs">Ugt1a</text>
<text x="93.30" y="88.35" font-size="5.4" text-anchor="middle" fill="#111" font-weight="normal" stroke="#111" stroke-width="0.06" textLength="22.23" lengthAdjust="spacingAndGlyphs">Mup-ps12</text>
<text x="96.40" y="91.55" font-size="5.4" text-anchor="middle" fill="#111" font-weight="normal" stroke="#111" stroke-width="0.06" textLength="19.45" lengthAdjust="spacingAndGlyphs">Mup-ps4</text>
<text x="115.80" y="84.65" font-size="5.4" text-anchor="middle" fill="#111" font-weight="normal" stroke="#111" stroke-width="0.06" textLength="14.18" lengthAdjust="spacingAndGlyphs">Sult2a</text>
<text x="116.50" y="87.85" font-size="5.4" text-anchor="middle" fill="#111" font-weight="normal" stroke="#111" stroke-width="0.06" textLength="14.18" lengthAdjust="spacingAndGlyphs">Apoc2</text>
<text x="106.00" y="97.35" font-size="5.4" text-anchor="middle" fill="#111" font-weight="normal" stroke="#111" stroke-width="0.06" textLength="8.90" lengthAdjust="spacingAndGlyphs">Ahd</text>
<line x1="59.0" y1="6.8" x2="59.0" y2="105.0" stroke="#333" stroke-width="1.2"/>
<line x1="58.4" y1="104.4" x2="207.0" y2="104.4" stroke="#333" stroke-width="1.2"/>
<line x1="56.0" y1="100.50" x2="59.0" y2="100.50" stroke="#333" stroke-width="0.9"/>
<text x="53.40" y="102.85" font-size="6.6" text-anchor="end" fill="#222" font-weight="normal" stroke="#222" stroke-width="0.08" textLength="3.36" lengthAdjust="spacingAndGlyphs">0</text>
<line x1="56.0" y1="81.50" x2="59.0" y2="81.50" stroke="#333" stroke-width="0.9"/>
<text x="53.40" y="83.85" font-size="6.6" text-anchor="end" fill="#222" font-weight="normal" stroke="#222" stroke-width="0.08" textLength="6.73" lengthAdjust="spacingAndGlyphs">10</text>
<line x1="56.0" y1="62.50" x2="59.0" y2="62.50" stroke="#333" stroke-width="0.9"/>
<text x="53.40" y="64.85" font-size="6.6" text-anchor="end" fill="#222" font-weight="normal" stroke="#222" stroke-width="0.08" textLength="6.73" lengthAdjust="spacingAndGlyphs">20</text>
<line x1="56.0" y1="43.50" x2="59.0" y2="43.50" stroke="#333" stroke-width="0.9"/>
<text x="53.40" y="45.85" font-size="6.6" text-anchor="end" fill="#222" font-weight="normal" stroke="#222" stroke-width="0.08" textLength="6.73" lengthAdjust="spacingAndGlyphs">30</text>
<line x1="56.0" y1="24.50" x2="59.0" y2="24.50" stroke="#333" stroke-width="0.9"/>
<text x="53.40" y="26.85" font-size="6.6" text-anchor="end" fill="#222" font-weight="normal" stroke="#222" stroke-width="0.08" textLength="6.73" lengthAdjust="spacingAndGlyphs">40</text>
<line x1="65.60" y1="104.4" x2="65.60" y2="107.4" stroke="#333" stroke-width="0.9"/>
<text x="65.60" y="116.20" font-size="6.6" text-anchor="middle" fill="#222" font-weight="normal" stroke="#222" stroke-width="0.08" textLength="10.26" lengthAdjust="spacingAndGlyphs">−10</text>
<line x1="99.40" y1="104.4" x2="99.40" y2="107.4" stroke="#333" stroke-width="0.9"/>
<text x="99.40" y="116.20" font-size="6.6" text-anchor="middle" fill="#222" font-weight="normal" stroke="#222" stroke-width="0.08" textLength="6.90" lengthAdjust="spacingAndGlyphs">−5</text>
<line x1="133.20" y1="104.4" x2="133.20" y2="107.4" stroke="#333" stroke-width="0.9"/>
<text x="133.20" y="116.20" font-size="6.6" text-anchor="middle" fill="#222" font-weight="normal" stroke="#222" stroke-width="0.08" textLength="3.36" lengthAdjust="spacingAndGlyphs">0</text>
<line x1="167.00" y1="104.4" x2="167.00" y2="107.4" stroke="#333" stroke-width="0.9"/>
<text x="167.00" y="116.20" font-size="6.6" text-anchor="middle" fill="#222" font-weight="normal" stroke="#222" stroke-width="0.08" textLength="3.36" lengthAdjust="spacingAndGlyphs">5</text>
<line x1="200.80" y1="104.4" x2="200.80" y2="107.4" stroke="#333" stroke-width="0.9"/>
<text x="200.80" y="116.20" font-size="6.6" text-anchor="middle" fill="#222" font-weight="normal" stroke="#222" stroke-width="0.08" textLength="6.73" lengthAdjust="spacingAndGlyphs">10</text>
<text x="61.10" y="13.90" font-size="6.6" text-anchor="start" fill="#222" font-weight="normal" stroke="#222" stroke-width="0.08" textLength="70.37" lengthAdjust="spacingAndGlyphs">565 genes down regulated</text>
<text x="140.96" y="13.90" font-size="6.6" text-anchor="start" fill="#222" font-weight="normal" stroke="#222" stroke-width="0.08" textLength="66.06" lengthAdjust="spacingAndGlyphs">2162 genes up regulated</text>
<text x="112.2" y="127.00" font-size="7.2" fill="#222" font-weight="bold" textLength="41.3" lengthAdjust="spacingAndGlyphs">Log<tspan font-size="4.6" dy="1.6">2</tspan><tspan dy="-1.6"> fold change</tspan></text>
<text x="160.70" y="127.50" font-size="6.5" text-anchor="start" fill="#222" font-weight="normal" stroke="#222" stroke-width="0.08" textLength="59.6" lengthAdjust="spacingAndGlyphs">Total variables : 17995</text>
<text transform="translate(29.20,55.60) rotate(-90)" font-size="8.3" text-anchor="middle" fill="#222" stroke="#222" stroke-width="0.1" textLength="21.6" lengthAdjust="spacingAndGlyphs">LIVER</text>
<text transform="translate(40.40,55.00) rotate(-90) scale(0.86,1)" font-size="7.2" text-anchor="middle" fill="#222" stroke="#222" stroke-width="0.3">-Log<tspan font-size="5" dy="1.6">10</tspan><tspan dy="-1.6" font-style="italic"> P</tspan></text>
<text x="6.50" y="15.80" font-size="11" text-anchor="start" fill="#000" font-weight="bold" stroke="#000" stroke-width="0.08" >A</text>
<line x1="65.60" y1="138.1" x2="65.60" y2="235.3" stroke="#e4e4e4" stroke-width="0.6"/><line x1="82.50" y1="138.1" x2="82.50" y2="235.3" stroke="#f2f2f2" stroke-width="0.6"/><line x1="99.40" y1="138.1" x2="99.40" y2="235.3" stroke="#e4e4e4" stroke-width="0.6"/><line x1="116.30" y1="138.1" x2="116.30" y2="235.3" stroke="#f2f2f2" stroke-width="0.6"/><line x1="133.20" y1="138.1" x2="133.20" y2="235.3" stroke="#e4e4e4" stroke-width="0.6"/><line x1="150.10" y1="138.1" x2="150.10" y2="235.3" stroke="#f2f2f2" stroke-width="0.6"/><line x1="167.00" y1="138.1" x2="167.00" y2="235.3" stroke="#e4e4e4" stroke-width="0.6"/><line x1="183.90" y1="138.1" x2="183.90" y2="235.3" stroke="#f2f2f2" stroke-width="0.6"/><line x1="200.80" y1="138.1" x2="200.80" y2="235.3" stroke="#e4e4e4" stroke-width="0.6"/><line x1="59.0" y1="231.50" x2="207.0" y2="231.50" stroke="#e4e4e4" stroke-width="0.6"/><line x1="59.0" y1="219.46" x2="207.0" y2="219.46" stroke="#f2f2f2" stroke-width="0.6"/><line x1="59.0" y1="207.41" x2="207.0" y2="207.41" stroke="#e4e4e4" stroke-width="0.6"/><line x1="59.0" y1="195.37" x2="207.0" y2="195.37" stroke="#f2f2f2" stroke-width="0.6"/><line x1="59.0" y1="183.32" x2="207.0" y2="183.32" stroke="#e4e4e4" stroke-width="0.6"/><line x1="59.0" y1="171.28" x2="207.0" y2="171.28" stroke="#f2f2f2" stroke-width="0.6"/><line x1="59.0" y1="159.23" x2="207.0" y2="159.23" stroke="#e4e4e4" stroke-width="0.6"/>
<g transform="scale(0.5)" fill="none" stroke-linecap="round">
<path d="M275 447h0M275 458h0M267 458h0M261 451h0M254 462h0M263 460h0M264 448h0M254 447h0M254 448h0M280 448h0M271 452h0M259 451h0M265 447h0M279 448h0M277 453h0M276 446h0M263 456h0M266 445h0M271 456h0M255 443h0M268 450h0M260 452h0M277 449h0M271 442h0M276 459h0M259 445h0M277 446h0M276 447h0M253 458h0M272 452h0M253 455h0M266 447h0M265 456h0M258 454h0M262 443h0M275 453h0M261 461h0M257 444h0M272 448h0M265 457h0M274 447h0M259 444h0M262 461h0M267 454h0M267 455h0M259 459h0M253 445h0M278 452h0M255 449h0M276 457h0M263 447h0M279 443h0M264 447h0M278 453h0M268 445h0M259 447h0M273 448h0M271 455h0M270 449h0M256 445h0M272 447h0M270 457h0M274 454h0M258 443h0M263 457h0M274 453h0M263 451h0M269 460h0M278 450h0M280 455h0M272 442h0M275 452h0M257 456h0M272 450h0M276 453h0M264 446h0M268 447h0M266 448h0M279 446h0M261 446h0M264 460h0M270 443h0M278 454h0M278 443h0M262 452h0M280 458h0M258 448h0M257 452h0M255 445h0M276 458h0M275 442h0M257 443h0M267 457h0M268 454h0M256 444h0M276 452h0M265 452h0M254 452h0M253 454h0M258 455h0M262 442h0M278 458h0M277 454h0M266 451h0M265 450h0M271 447h0M262 446h0M274 448h0M269 456h0M273 456h0M266 444h0M272 446h0M253 443h0M257 454h0M258 458h0M254 453h0M269 443h0M277 457h0M262 458h0M263 458h0M274 450h0M278 447h0M263 444h0M262 456h0M275 443h0M259 443h0M267 456h0M267 450h0M261 452h0M266 453h0M254 443h0M267 447h0M268 449h0M269 453h0M273 445h0M267 444h0M268 448h0M270 448h0M260 442h0M271 453h0M258 446h0M280 444h0M273 451h0M261 450h0M265 449h0M260 447h0M254 457h0M253 449h0M260 451h0M276 443h0M257 451h0M260 449h0M255 461h0M271 443h0M266 457h0M268 451h0M260 459h0M266 442h0M278 446h0M258 444h0M273 449h0M258 453h0M255 454h0M263 446h0M259 450h0M264 456h0M269 449h0M279 458h0M259 461h0M269 445h0M278 444h0M256 461h0M276 445h0M264 444h0M274 444h0M262 449h0M270 444h0M267 442h0M256 442h0M273 454h0M263 454h0M263 450h0M255 444h0M255 450h0M268 460h0M265 459h0M254 459h0M257 459h0M256 460h0M263 442h0M279 456h0M256 448h0M264 451h0M275 450h0M253 462h0M271 450h0M266 449h0M260 457h0M277 458h0M279 444h0M255 451h0M267 443h0M264 454h0M273 458h0M272 445h0M258 450h0M262 460h0M263 455h0M274 443h0M262 445h0M265 444h0M255 462h0M263 445h0M278 449h0M266 446h0M268 461h0M275 446h0M260 444h0M277 444h0M279 442h0M257 445h0M274 442h0M266 455h0M277 447h0M256 451h0M267 449h0M260 455h0M262 455h0M264 459h0M274 446h0M280 446h0M258 442h0M271 446h0M254 444h0M255 452h0M276 448h0M259 449h0M275 456h0M253 452h0M278 460h0M275 455h0M253 447h0M259 460h0M260 448h0M269 447h0M258 452h0M279 450h0M268 443h0M273 452h0M280 451h0M269 448h0M255 448h0M275 454h0M266 456h0M260 446h0M261 459h0M269 452h0M277 445h0M280 456h0M277 448h0M274 452h0M269 455h0M255 447h0M267 446h0M267 445h0M280 454h0M261 448h0M261 445h0M268 459h0M260 458h0M274 445h0M255 456h0M273 443h0M271 444h0M264 442h0M270 445h0M269 451h0M256 449h0M262 453h0M275 445h0M277 443h0M261 449h0M259 455h0M276 460h0M275 448h0M264 443h0M265 448h0M256 457h0M271 459h0M258 459h0M279 447h0M253 450h0M259 442h0M257 447h0M260 443h0M263 449h0M280 449h0M274 449h0M268 462h0M273 455h0M265 455h0M276 449h0M279 452h0M254 445h0M255 442h0M256 447h0M271 454h0M277 442h0M257 458h0M259 452h0M267 452h0M274 459h0M256 443h0M266 452h0M265 453h0M278 445h0M264 457h0M255 453h0M262 444h0M257 450h0M264 449h0M259 454h0M268 446h0M264 445h0M278 456h0M261 460h0M254 455h0M265 458h0M260 453h0M255 457h0M266 454h0M256 446h0M257 453h0M265 461h0M253 448h0M253 457h0M275 449h0M279 445h0M269 459h0M277 455h0M270 454h0M254 451h0M256 455h0M278 448h0M257 455h0M266 459h0M271 449h0M275 457h0M260 461h0M264 450h0M253 456h0M278 455h0M254 446h0M267 461h0M280 453h0M257 460h0M277 451h0M256 453h0M273 460h0M256 458h0M270 460h0M261 443h0M268 453h0M257 442h0M261 454h0M268 457h0M269 457h0M273 444h0M262 463h0M265 462h0M256 450h0M254 450h0M273 457h0M274 460h0M258 460h0M256 452h0M254 454h0M254 463h0M275 444h0M272 459h0M268 455h0M272 458h0M269 458h0M253 459h0M254 458h0M265 446h0M261 455h0M263 448h0M271 457h0M254 449h0M263 452h0M259 453h0M264 455h0M274 458h0M270 446h0M271 448h0M267 459h0M270 455h0M272 443h0M271 458h0M277 456h0M270 451h0M261 444h0M280 445h0M265 443h0M279 453h0M264 453h0M258 457h0M255 458h0M253 444h0M263 453h0M258 456h0M271 445h0M260 454h0M276 456h0M275 460h0M262 462h0M260 450h0M277 450h0M264 462h0M257 462h0M268 444h0M263 462h0M253 451h0M279 451h0M278 457h0M272 455h0M261 447h0M274 461h0M273 450h0M258 445h0M278 442h0M258 451h0M268 442h0M268 458h0M263 443h0M262 451h0M274 451h0M261 457h0M255 455h0M279 455h0M265 445h0M259 448h0M280 457h0M276 450h0M267 448h0M279 459h0M274 456h0M257 446h0M272 451h0M276 455h0M267 453h0M272 444h0M255 446h0M271 451h0M277 461h0M273 462h0M273 459h0M272 461h0M278 462h0M260 445h0M269 446h0M270 458h0M257 457h0M276 451h0M276 462h0M270 450h0M266 450h0M270 447h0M276 454h0M265 451h0M279 457h0M267 451h0M279 454h0M279 449h0M253 446h0M270 456h0M270 452h0M277 452h0M278 459h0M257 449h0M264 452h0M262 454h0M265 460h0M262 447h0M259 456h0M262 450h0M269 444h0M273 453h0M269 454h0M268 452h0M274 455h0M279 461h0M270 461h0M276 444h0M275 451h0M273 442h0M264 458h0M256 454h0M257 448h0M269 450h0M266 443h0M279 462h0M262 457h0M266 458h0M267 463h0M263 459h0M256 459h0M258 447h0M273 447h0M280 447h0M254 456h0M256 456h0M270 453h0M254 442h0M269 462h0M266 460h0M262 459h0M266 461h0M259 458h0M259 457h0M269 461h0M280 450h0M272 462h0M272 454h0M272 449h0M253 442h0M272 463h0M254 460h0M253 453h0M261 456h0M280 461h0M276 442h0M277 460h0M265 454h0M269 442h0M278 451h0M273 446h0M268 456h0M263 461h0M279 460h0M255 460h0M272 457h0M261 442h0M272 456h0M272 453h0M275 463h0M280 443h0M258 449h0M274 457h0M270 442h0M258 461h0M261 462h0M262 448h0M278 461h0M255 459h0M260 456h0M259 446h0M272 460h0M270 462h0M270 459h0M261 453h0" stroke="#303030" stroke-opacity="0.88" stroke-width="3.2"/>
<path d="M241 456h0M252 446h0M218 462h0M252 447h0M244 444h0M253 444h0M242 453h0M248 454h0M249 443h0M249 442h0M250 448h0M233 448h0M221 442h0M245 450h0M253 460h0M252 443h0M243 455h0M245 448h0M248 451h0M248 443h0M226 453h0M252 448h0M248 458h0M249 453h0M243 444h0M241 446h0M242 457h0M248 442h0M246 463h0M250 461h0M251 446h0M242 445h0M250 459h0M247 461h0M248 449h0M242 443h0M250 445h0M251 451h0M252 449h0M249 459h0M224 447h0M252 454h0M240 442h0M218 445h0M245 461h0M252 453h0M222 453h0M253 448h0M236 456h0M238 442h0M248 453h0M249 446h0M251 443h0M237 446h0M246 445h0M249 445h0M251 449h0M248 444h0M253 443h0M251 450h0M250 456h0M250 443h0M247 454h0M245 444h0M246 455h0M252 458h0M249 461h0M226 450h0M248 445h0M245 445h0M245 446h0M251 452h0M244 452h0M231 452h0M237 452h0M247 453h0M240 448h0M252 445h0M252 455h0M235 449h0M250 460h0M232 451h0M237 442h0M240 444h0M223 450h0M246 448h0M235 445h0M241 451h0M222 452h0M250 447h0M249 457h0M253 450h0M240 450h0M231 444h0M251 445h0M246 446h0M218 448h0M239 456h0M247 456h0M248 460h0M245 453h0M249 455h0M252 451h0M246 452h0M248 457h0M249 447h0M248 461h0M253 456h0M238 445h0M219 444h0M246 444h0M244 457h0M247 446h0M240 461h0M242 446h0M243 443h0M232 444h0M252 460h0M250 449h0M231 445h0M249 451h0M249 449h0M243 450h0M246 461h0M252 462h0M249 450h0M247 444h0M246 451h0M229 444h0M252 452h0M247 452h0M242 450h0M245 459h0M242 448h0M220 456h0M251 447h0M220 453h0M232 456h0M250 453h0M247 463h0M246 460h0M236 452h0M251 463h0M229 443h0M235 461h0M253 458h0M249 456h0M237 447h0M224 450h0M249 458h0M247 451h0M243 448h0M228 447h0M242 447h0M245 454h0M247 457h0M252 459h0M226 460h0M239 462h0M252 442h0M246 457h0M251 448h0M253 451h0M238 459h0M230 448h0M232 460h0M251 458h0M234 449h0M241 443h0M228 443h0M244 450h0M249 444h0M230 455h0M244 445h0M246 456h0M245 443h0M251 454h0M253 445h0M239 451h0M241 453h0M246 454h0M248 446h0M250 450h0M229 446h0M250 457h0M250 458h0M241 458h0M224 448h0M252 457h0M251 455h0M227 445h0M253 461h0M250 452h0M249 452h0M228 460h0M251 459h0M238 444h0M250 454h0M247 447h0M241 442h0M253 449h0M251 453h0M250 451h0M232 445h0M243 454h0M250 455h0M252 456h0M252 444h0M242 454h0M226 447h0M243 447h0M240 453h0M235 448h0M251 457h0M251 444h0M230 451h0M238 446h0M243 459h0M251 442h0M242 444h0M253 459h0M222 457h0M243 460h0M241 448h0M229 445h0M236 451h0M231 450h0M243 449h0M233 459h0M229 458h0M233 445h0M243 457h0M222 443h0M236 444h0M250 444h0M228 448h0M246 447h0M247 448h0M247 449h0M245 447h0M250 446h0M231 451h0M241 445h0M226 455h0M232 462h0M236 453h0M253 454h0M239 445h0M241 444h0M245 457h0M246 459h0M248 448h0M248 447h0M231 453h0M243 445h0M227 442h0M253 446h0M208 457h0M248 450h0M241 450h0M238 451h0M252 450h0M246 453h0M253 447h0M251 456h0M244 456h0M245 449h0M248 455h0M236 443h0M252 461h0M248 459h0M224 457h0M248 452h0M227 446h0M237 456h0M247 443h0M240 443h0M235 451h0M233 442h0M227 451h0M230 462h0M234 443h0M225 442h0M246 443h0M228 452h0M236 445h0M230 447h0M244 461h0M253 455h0M248 456h0M251 461h0M233 455h0M230 456h0M240 449h0M227 454h0M240 457h0M249 454h0M239 443h0M239 447h0M249 448h0M232 442h0M234 453h0M245 455h0M227 453h0M236 462h0M235 446h0M223 448h0M243 456h0M237 461h0M227 447h0M239 450h0M237 453h0M246 450h0M240 458h0M241 452h0M233 447h0M233 450h0M244 455h0M244 454h0M245 452h0M239 449h0M242 449h0M234 444h0M247 459h0M241 447h0M250 462h0M231 447h0M247 460h0M235 460h0M244 451h0M236 457h0M246 449h0M244 449h0M242 451h0M229 452h0M222 442h0M233 456h0M237 460h0M242 458h0M233 449h0M241 457h0M234 460h0M241 449h0M237 448h0M247 450h0M224 443h0M239 457h0M241 454h0M222 445h0M242 461h0M228 455h0M227 452h0M221 453h0M235 452h0M240 460h0M233 451h0M249 460h0M240 451h0M245 451h0M217 460h0M228 444h0M240 455h0M243 451h0M232 447h0M242 456h0M237 443h0M249 462h0M230 445h0M247 455h0M226 442h0M240 456h0M222 447h0M231 455h0M218 453h0M243 453h0M236 449h0M231 442h0M227 461h0M236 446h0M239 461h0M221 449h0M240 454h0M244 459h0M239 444h0M253 457h0M211 444h0M243 446h0M245 442h0M245 460h0M234 446h0M235 454h0M238 443h0M218 457h0M242 455h0M227 460h0M234 457h0M240 459h0M232 450h0M222 460h0M226 449h0M240 445h0M239 459h0M231 454h0M244 453h0M232 443h0M238 455h0M239 452h0M242 462h0M235 457h0M244 443h0M239 446h0M245 456h0M247 445h0M241 462h0M222 454h0M221 448h0M232 463h0M234 454h0M250 442h0M233 443h0M230 453h0M236 458h0M244 448h0M232 452h0M217 453h0M240 462h0M234 445h0M253 453h0M237 458h0M238 457h0M213 455h0M239 453h0M238 462h0M223 455h0M239 455h0M239 458h0M253 462h0M242 452h0M246 442h0M228 453h0M226 457h0M249 463h0M243 452h0M234 455h0M237 451h0M230 457h0M230 450h0M227 462h0M237 457h0M239 460h0M244 447h0M238 456h0M245 458h0M234 452h0M240 446h0M226 456h0M215 453h0M205 447h0M239 454h0M242 459h0M220 451h0M206 459h0M215 446h0M241 455h0M234 442h0M232 449h0M238 449h0M226 458h0M240 447h0M221 459h0M244 460h0M217 457h0M238 450h0M234 462h0M223 449h0M240 452h0M229 442h0M248 462h0M228 446h0M224 458h0M223 446h0M214 460h0M217 461h0M214 449h0M251 460h0M234 450h0M251 462h0M228 451h0M229 460h0M247 462h0M215 459h0M228 461h0M242 460h0M224 456h0M233 453h0M231 448h0M236 455h0M238 452h0M228 449h0M235 443h0M217 442h0M234 447h0M226 459h0M247 458h0M232 461h0M237 454h0M227 444h0M230 443h0M227 449h0M235 447h0M225 456h0M231 449h0M217 449h0M237 444h0M230 458h0M212 445h0M228 445h0M282 461h0M283 446h0M302 457h0M284 461h0M282 456h0M296 446h0M287 451h0M286 443h0M313 459h0M282 449h0M293 458h0M298 456h0M280 445h0M280 457h0M287 455h0M283 451h0M281 452h0M283 457h0M281 459h0M285 449h0M288 444h0M307 461h0M280 449h0M297 460h0M281 442h0M281 457h0M282 458h0M293 457h0M281 454h0M287 448h0M297 448h0M309 442h0M291 455h0M280 443h0M290 455h0M312 448h0M292 443h0M282 447h0M283 444h0M300 451h0M282 442h0M293 442h0M280 462h0M288 455h0M281 450h0M285 444h0M300 452h0M284 456h0M282 454h0M284 448h0M287 460h0M283 452h0M288 452h0M295 451h0M299 447h0M288 454h0M285 461h0M283 461h0M283 449h0M293 453h0M300 455h0M283 454h0M282 448h0M280 455h0M297 451h0M280 458h0M293 455h0M281 443h0M282 453h0M304 453h0M310 446h0M296 443h0M283 445h0M295 448h0M281 462h0M284 451h0M286 451h0M294 447h0M282 462h0M294 448h0M281 451h0M292 445h0M298 445h0M305 456h0M299 450h0M282 451h0M317 444h0M286 449h0M283 443h0M284 447h0M290 451h0M280 450h0M286 450h0M286 446h0M284 443h0M289 445h0M302 451h0M285 454h0M301 444h0M282 457h0M294 457h0M283 459h0M294 459h0M285 453h0M298 463h0M295 447h0M281 458h0M283 448h0M290 444h0M284 452h0M289 452h0M281 448h0M284 450h0M281 455h0M292 449h0M280 447h0M306 443h0M297 444h0M289 448h0M287 457h0M296 447h0M286 458h0M285 448h0M302 446h0M306 451h0M292 454h0M293 444h0M284 455h0M301 449h0M293 459h0M282 444h0M280 454h0M281 444h0M287 456h0M299 459h0M281 449h0M281 445h0M283 458h0M290 443h0M303 462h0M290 462h0M287 459h0M290 442h0M294 446h0M306 448h0M292 452h0M290 450h0M295 456h0M291 450h0M301 454h0M296 455h0M288 449h0M281 447h0M295 458h0M291 462h0M283 453h0M307 455h0M284 444h0M281 446h0M293 446h0M284 446h0M285 451h0M280 442h0M286 460h0M287 445h0M282 460h0M288 458h0M285 458h0M293 445h0M289 451h0M309 455h0M286 452h0M299 456h0M282 455h0M282 445h0M301 453h0M289 443h0M282 443h0M300 459h0M295 444h0M311 455h0M286 454h0M286 444h0M291 442h0M291 453h0M286 447h0M290 458h0M287 443h0M288 457h0M288 447h0M281 456h0M285 452h0M284 462h0M304 442h0M298 446h0M304 449h0M288 446h0M295 445h0M280 452h0M280 446h0M280 444h0M298 449h0M288 443h0M288 463h0M283 450h0M291 456h0M292 453h0M320 443h0M299 446h0M294 453h0M297 449h0M290 456h0M303 448h0M297 457h0M282 446h0M295 446h0M290 457h0M291 446h0M305 444h0M284 449h0M280 451h0M282 452h0M310 459h0M280 461h0M298 450h0M304 446h0M286 461h0M303 454h0M287 442h0M312 443h0M305 450h0M311 459h0M280 459h0M305 446h0M306 449h0M284 445h0M304 452h0M290 449h0M292 460h0M299 448h0M308 449h0M298 455h0M293 448h0M292 451h0M304 455h0M293 461h0M308 444h0M291 460h0M291 461h0M288 453h0M294 442h0M286 442h0M299 452h0M291 447h0M289 447h0M286 448h0M294 450h0M283 447h0M281 461h0M290 453h0M310 450h0M307 443h0M285 463h0M283 460h0M294 454h0M284 454h0M289 446h0M305 449h0M320 446h0M281 453h0M300 456h0M286 445h0M289 456h0M283 455h0M280 448h0M284 453h0M286 455h0M291 449h0M289 458h0M287 452h0M285 456h0M299 444h0M287 449h0M303 452h0M292 455h0M300 461h0M287 458h0M302 442h0M296 448h0M307 453h0M293 443h0M288 442h0M285 455h0M296 463h0M291 448h0M299 445h0M304 444h0M289 457h0M280 456h0M292 447h0M294 449h0M300 443h0M289 449h0M294 461h0M287 462h0M291 451h0M282 450h0M305 455h0M297 452h0M289 461h0M292 448h0M295 443h0M300 449h0M316 449h0M289 459h0M291 443h0M316 458h0M280 453h0M306 455h0M285 447h0M291 454h0M288 451h0M298 451h0M302 448h0M296 459h0M303 442h0M295 453h0M289 442h0M285 443h0M292 457h0M300 453h0M301 456h0M298 444h0M292 444h0M313 454h0M305 452h0M298 448h0M296 445h0M292 461h0M304 450h0M300 447h0M303 459h0M308 446h0M280 460h0M285 460h0M309 458h0M291 445h0M286 457h0M286 462h0M298 442h0M309 445h0M302 445h0M300 454h0M290 446h0M288 456h0M286 456h0M302 444h0M295 450h0M302 449h0M300 444h0M297 445h0M318 445h0M293 452h0M301 452h0M286 459h0M284 459h0M289 453h0M298 447h0M294 444h0M299 458h0M298 454h0M288 448h0M282 459h0M303 443h0M297 443h0M290 448h0M289 450h0M287 454h0M284 457h0M291 457h0M304 461h0M296 449h0M299 454h0M301 443h0M287 444h0M297 456h0M296 452h0M307 456h0M301 458h0M284 463h0M301 450h0M309 457h0M301 446h0M305 454h0M300 446h0M293 451h0M306 453h0M302 443h0M295 459h0M288 445h0M291 452h0M285 446h0" stroke="#1c9428" stroke-opacity="0.88" stroke-width="3.2"/>
<path d="M270 440h0M277 439h0M259 432h0M269 441h0M272 436h0M254 439h0M261 438h0M258 432h0M279 434h0M263 432h0M254 433h0M268 439h0M259 428h0M253 417h0M264 439h0M262 433h0M260 441h0M257 438h0M274 441h0M267 437h0M258 428h0M256 435h0M256 441h0M276 438h0M266 439h0M255 432h0M278 425h0M275 429h0M269 434h0M259 439h0M255 419h0M270 429h0M262 436h0M267 441h0M261 433h0M253 424h0M255 426h0M271 437h0M261 441h0M270 439h0M273 424h0M270 438h0M258 439h0M274 440h0M263 441h0M264 435h0M272 432h0M271 434h0M269 437h0M275 432h0M271 433h0M272 441h0M265 436h0M277 422h0M277 421h0M256 428h0M273 433h0M257 429h0M262 430h0M275 439h0M268 438h0M269 440h0M264 434h0M274 437h0M264 383h0M260 396h0M270 392h0M275 412h0" stroke="#2240a8" stroke-opacity="0.88" stroke-width="3.2"/>
<path d="M270 440h0M254 439h0M254 433h0M262 433h0M258 428h0M255 432h0M255 419h0M253 424h0M273 424h0M264 435h0M271 433h0M256 428h0M268 438h0M260 396h0" stroke="#141c66" stroke-opacity="0.55" stroke-width="2.2"/>
<path d="M240 426h0M221 430h0M244 432h0M238 438h0M232 434h0M233 420h0M229 440h0M244 439h0M231 434h0M236 435h0M233 435h0M252 411h0M245 438h0M242 421h0M216 441h0M233 436h0M231 423h0M241 419h0M247 439h0M238 423h0M245 437h0M238 412h0M250 430h0M244 441h0M252 429h0M252 421h0M238 430h0M252 431h0M211 440h0M247 433h0M223 432h0M246 439h0M252 432h0M230 439h0M231 437h0M232 439h0M248 436h0M220 437h0M236 436h0M251 438h0M223 439h0M242 438h0M227 436h0M245 440h0M224 438h0M226 436h0M240 439h0M244 415h0M244 399h0M242 428h0M240 435h0M239 438h0M252 438h0M243 436h0M249 438h0M224 429h0M251 427h0M219 438h0M252 427h0M232 437h0M230 421h0M241 423h0M251 439h0M252 430h0M223 437h0M234 414h0M225 440h0M230 433h0M225 433h0M228 436h0M223 438h0M250 427h0M237 439h0M248 431h0M223 434h0M228 430h0M241 436h0M234 435h0M234 437h0M247 441h0M240 432h0M203 436h0M251 408h0M249 440h0M247 429h0M250 438h0M243 419h0M229 436h0M240 429h0M242 439h0M243 428h0M244 437h0M235 421h0M251 430h0M245 436h0M231 440h0M240 419h0M227 415h0M241 437h0M240 411h0M248 435h0M252 423h0M245 441h0M244 433h0M233 440h0M245 439h0M251 440h0M249 408h0M238 436h0M243 414h0M250 439h0M249 439h0M252 433h0M222 431h0M249 428h0M247 437h0M241 409h0M232 438h0M235 422h0M237 433h0M230 437h0M234 438h0M239 423h0M224 440h0M248 432h0M210 438h0M246 435h0M232 440h0M242 437h0M244 423h0M241 439h0M238 434h0M229 431h0M234 431h0M242 431h0M246 429h0M239 431h0M229 441h0M236 438h0M240 440h0M226 439h0M241 434h0M226 440h0M231 439h0M243 439h0M228 441h0M250 428h0M242 441h0M226 441h0M229 433h0M252 440h0M225 434h0M250 440h0M244 436h0M251 441h0M246 431h0M236 424h0M233 437h0M221 440h0M247 413h0M226 437h0M247 430h0M251 435h0M237 436h0M252 439h0M227 441h0M250 433h0M232 435h0M234 425h0M223 431h0M248 440h0M247 435h0M244 435h0M239 440h0M226 435h0M234 439h0M239 436h0M247 428h0M220 441h0M242 424h0M239 441h0M229 432h0M233 430h0M238 424h0M232 436h0M209 439h0M243 423h0M236 429h0M249 434h0M236 428h0M233 441h0M235 438h0M250 436h0M234 441h0M240 437h0M235 441h0M244 406h0M240 441h0M249 435h0M251 432h0M231 441h0M242 430h0M225 435h0M239 425h0M235 428h0M240 414h0M241 426h0M242 435h0M222 427h0M232 407h0M224 441h0M236 441h0M231 436h0M239 435h0M249 441h0M241 435h0M245 420h0M239 434h0M247 417h0M236 437h0M283 436h0M287 427h0M283 433h0M289 440h0M300 434h0M283 437h0M282 436h0M284 433h0M284 440h0M287 439h0M291 431h0M283 438h0M291 437h0M285 438h0M300 428h0M294 439h0M290 439h0M294 437h0M299 438h0M300 421h0M288 441h0M288 422h0M287 436h0M300 432h0M290 427h0M298 433h0M295 439h0M284 426h0M282 440h0M281 438h0M301 438h0M294 424h0M292 414h0M289 420h0M294 434h0M294 428h0M284 425h0M282 438h0M291 415h0M250 363h0M215 373h0M246 379h0M287 407h0M310 408h0" stroke="#cc1414" stroke-opacity="0.88" stroke-width="3.2"/>
<path d="M240 426h0M233 420h0M233 435h0M233 436h0M245 437h0M252 421h0M223 432h0M232 439h0M223 439h0M226 436h0M240 435h0M224 429h0M230 421h0M234 414h0M223 438h0M228 430h0M240 432h0M250 438h0M243 428h0M231 440h0M248 435h0M245 439h0M250 439h0M247 437h0M230 437h0M210 438h0M241 439h0M246 429h0M226 439h0M228 441h0M252 440h0M246 431h0M226 437h0M227 441h0M248 440h0M234 439h0M239 441h0M209 439h0M233 441h0M235 441h0M231 441h0M240 414h0M224 441h0M241 435h0M283 436h0M283 437h0M291 431h0M294 439h0M288 441h0M298 433h0M301 438h0M294 428h0M215 373h0" stroke="#8a0c0c" stroke-opacity="0.55" stroke-width="2.2"/>
</g>
<line x1="126.44" y1="138.1" x2="126.44" y2="235.3" stroke="#555" stroke-width="0.65" stroke-dasharray="1.8,1.4"/>
<line x1="139.96" y1="138.1" x2="139.96" y2="235.3" stroke="#555" stroke-width="0.65" stroke-dasharray="1.8,1.4"/>
<line x1="59.0" y1="221.06" x2="207.0" y2="221.06" stroke="#555" stroke-width="0.65" stroke-dasharray="1.8,1.4"/>
<text x="123.80" y="185.45" font-size="5.4" text-anchor="middle" fill="#111" font-weight="normal" stroke="#111" stroke-width="0.06" textLength="15.56" lengthAdjust="spacingAndGlyphs">Prss23</text>
<text x="120.30" y="196.35" font-size="5.4" text-anchor="middle" fill="#111" font-weight="normal" stroke="#111" stroke-width="0.06" textLength="10.84" lengthAdjust="spacingAndGlyphs">Der1</text>
<text x="103.00" y="195.05" font-size="5.4" text-anchor="middle" fill="#111" font-weight="normal" stroke="#111" stroke-width="0.06" textLength="11.03" lengthAdjust="spacingAndGlyphs">Vat1l</text>
<text x="119.00" y="203.85" font-size="5.4" text-anchor="middle" fill="#111" font-weight="normal" stroke="#111" stroke-width="0.06" textLength="9.73" lengthAdjust="spacingAndGlyphs">Ier5l</text>
<text x="113.00" y="208.85" font-size="5.4" text-anchor="middle" fill="#111" font-weight="normal" stroke="#111" stroke-width="0.06" textLength="14.18" lengthAdjust="spacingAndGlyphs">Scn4b</text>
<text x="84.00" y="215.70" font-size="5.4" text-anchor="middle" fill="#111" font-weight="normal" stroke="#111" stroke-width="0.06" textLength="17.24" lengthAdjust="spacingAndGlyphs">Snap25</text>
<text x="104.00" y="217.45" font-size="5.4" text-anchor="middle" fill="#111" font-weight="normal" stroke="#111" stroke-width="0.06" textLength="8.34" lengthAdjust="spacingAndGlyphs">Fos</text>
<text x="88.00" y="221.95" font-size="5.4" text-anchor="middle" fill="#111" font-weight="normal" stroke="#111" stroke-width="0.06" textLength="21.96" lengthAdjust="spacingAndGlyphs">Gm20532</text>
<text x="112.00" y="221.45" font-size="5.4" text-anchor="middle" fill="#111" font-weight="normal" stroke="#111" stroke-width="0.06" textLength="11.11" lengthAdjust="spacingAndGlyphs">Tnfsf</text>
<text x="146.80" y="208.75" font-size="5.4" text-anchor="middle" fill="#111" font-weight="normal" stroke="#111" stroke-width="0.06" textLength="11.95" lengthAdjust="spacingAndGlyphs">Cd74</text>
<text x="160.20" y="208.75" font-size="5.4" text-anchor="middle" fill="#111" font-weight="normal" stroke="#111" stroke-width="0.06" textLength="13.06" lengthAdjust="spacingAndGlyphs">Cxcr2</text>
<text x="154.80" y="215.75" font-size="5.4" text-anchor="middle" fill="#111" font-weight="normal" stroke="#111" stroke-width="0.06" textLength="12.79" lengthAdjust="spacingAndGlyphs">Ptgds</text>
<text x="167.60" y="217.15" font-size="5.4" text-anchor="middle" fill="#111" font-weight="normal" stroke="#111" stroke-width="0.06" textLength="11.68" lengthAdjust="spacingAndGlyphs">Saa3</text>
<text x="166.30" y="221.55" font-size="5.4" text-anchor="middle" fill="#111" font-weight="normal" stroke="#111" stroke-width="0.06" textLength="13.90" lengthAdjust="spacingAndGlyphs">Igfbp1</text>
<text x="189.10" y="218.25" font-size="5.4" text-anchor="middle" fill="#111" font-weight="normal" stroke="#111" stroke-width="0.06" textLength="21.96" lengthAdjust="spacingAndGlyphs">Gm16304</text>
<line x1="59.0" y1="138.1" x2="59.0" y2="235.9" stroke="#333" stroke-width="1.2"/>
<line x1="58.4" y1="235.3" x2="207.0" y2="235.3" stroke="#333" stroke-width="1.2"/>
<line x1="56.0" y1="231.50" x2="59.0" y2="231.50" stroke="#333" stroke-width="0.9"/>
<text x="53.40" y="233.85" font-size="6.6" text-anchor="end" fill="#222" font-weight="normal" stroke="#222" stroke-width="0.08" textLength="3.36" lengthAdjust="spacingAndGlyphs">0</text>
<line x1="56.0" y1="207.41" x2="59.0" y2="207.41" stroke="#333" stroke-width="0.9"/>
<text x="53.40" y="209.76" font-size="6.6" text-anchor="end" fill="#222" font-weight="normal" stroke="#222" stroke-width="0.08" textLength="3.36" lengthAdjust="spacingAndGlyphs">3</text>
<line x1="56.0" y1="183.32" x2="59.0" y2="183.32" stroke="#333" stroke-width="0.9"/>
<text x="53.40" y="185.67" font-size="6.6" text-anchor="end" fill="#222" font-weight="normal" stroke="#222" stroke-width="0.08" textLength="3.36" lengthAdjust="spacingAndGlyphs">6</text>
<line x1="56.0" y1="159.23" x2="59.0" y2="159.23" stroke="#333" stroke-width="0.9"/>
<text x="53.40" y="161.58" font-size="6.6" text-anchor="end" fill="#222" font-weight="normal" stroke="#222" stroke-width="0.08" textLength="3.36" lengthAdjust="spacingAndGlyphs">9</text>
<line x1="65.60" y1="235.3" x2="65.60" y2="238.3" stroke="#333" stroke-width="0.9"/>
<text x="65.60" y="247.10" font-size="6.6" text-anchor="middle" fill="#222" font-weight="normal" stroke="#222" stroke-width="0.08" textLength="10.26" lengthAdjust="spacingAndGlyphs">−10</text>
<line x1="99.40" y1="235.3" x2="99.40" y2="238.3" stroke="#333" stroke-width="0.9"/>
<text x="99.40" y="247.10" font-size="6.6" text-anchor="middle" fill="#222" font-weight="normal" stroke="#222" stroke-width="0.08" textLength="6.90" lengthAdjust="spacingAndGlyphs">−5</text>
<line x1="133.20" y1="235.3" x2="133.20" y2="238.3" stroke="#333" stroke-width="0.9"/>
<text x="133.20" y="247.10" font-size="6.6" text-anchor="middle" fill="#222" font-weight="normal" stroke="#222" stroke-width="0.08" textLength="3.36" lengthAdjust="spacingAndGlyphs">0</text>
<line x1="167.00" y1="235.3" x2="167.00" y2="238.3" stroke="#333" stroke-width="0.9"/>
<text x="167.00" y="247.10" font-size="6.6" text-anchor="middle" fill="#222" font-weight="normal" stroke="#222" stroke-width="0.08" textLength="3.36" lengthAdjust="spacingAndGlyphs">5</text>
<line x1="200.80" y1="235.3" x2="200.80" y2="238.3" stroke="#333" stroke-width="0.9"/>
<text x="200.80" y="247.10" font-size="6.6" text-anchor="middle" fill="#222" font-weight="normal" stroke="#222" stroke-width="0.08" textLength="6.73" lengthAdjust="spacingAndGlyphs">10</text>
<text x="60.50" y="145.70" font-size="6.6" text-anchor="start" fill="#222" font-weight="normal" stroke="#222" stroke-width="0.08" textLength="70.37" lengthAdjust="spacingAndGlyphs">177 genes down regulated</text>
<text x="140.96" y="145.70" font-size="6.6" text-anchor="start" fill="#222" font-weight="normal" stroke="#222" stroke-width="0.08" textLength="59.42" lengthAdjust="spacingAndGlyphs">32 genes up regulated</text>
<text x="112.2" y="257.90" font-size="7.2" fill="#222" font-weight="bold" textLength="41.3" lengthAdjust="spacingAndGlyphs">Log<tspan font-size="4.6" dy="1.6">2</tspan><tspan dy="-1.6"> fold change</tspan></text>
<text x="160.70" y="258.40" font-size="6.5" text-anchor="start" fill="#222" font-weight="normal" stroke="#222" stroke-width="0.08" textLength="59.6" lengthAdjust="spacingAndGlyphs">Total variables : 17662</text>
<text transform="translate(32.90,186.70) rotate(-90)" font-size="8.3" text-anchor="middle" fill="#222" stroke="#222" stroke-width="0.1" textLength="25.6" lengthAdjust="spacingAndGlyphs">HEART</text>
<text transform="translate(43.90,186.10) rotate(-90) scale(0.86,1)" font-size="7.2" text-anchor="middle" fill="#222" stroke="#222" stroke-width="0.3">-Log<tspan font-size="5" dy="1.6">10</tspan><tspan dy="-1.6" font-style="italic"> P</tspan></text>
<text x="6.50" y="148.00" font-size="11" text-anchor="start" fill="#000" font-weight="bold" stroke="#000" stroke-width="0.08" >B</text>
<line x1="65.60" y1="269.8" x2="65.60" y2="366.8" stroke="#e4e4e4" stroke-width="0.6"/><line x1="82.50" y1="269.8" x2="82.50" y2="366.8" stroke="#f2f2f2" stroke-width="0.6"/><line x1="99.40" y1="269.8" x2="99.40" y2="366.8" stroke="#e4e4e4" stroke-width="0.6"/><line x1="116.30" y1="269.8" x2="116.30" y2="366.8" stroke="#f2f2f2" stroke-width="0.6"/><line x1="133.20" y1="269.8" x2="133.20" y2="366.8" stroke="#e4e4e4" stroke-width="0.6"/><line x1="150.10" y1="269.8" x2="150.10" y2="366.8" stroke="#f2f2f2" stroke-width="0.6"/><line x1="167.00" y1="269.8" x2="167.00" y2="366.8" stroke="#e4e4e4" stroke-width="0.6"/><line x1="183.90" y1="269.8" x2="183.90" y2="366.8" stroke="#f2f2f2" stroke-width="0.6"/><line x1="200.80" y1="269.8" x2="200.80" y2="366.8" stroke="#e4e4e4" stroke-width="0.6"/><line x1="59.0" y1="363.40" x2="207.0" y2="363.40" stroke="#e4e4e4" stroke-width="0.6"/><line x1="59.0" y1="352.05" x2="207.0" y2="352.05" stroke="#f2f2f2" stroke-width="0.6"/><line x1="59.0" y1="340.70" x2="207.0" y2="340.70" stroke="#e4e4e4" stroke-width="0.6"/><line x1="59.0" y1="329.35" x2="207.0" y2="329.35" stroke="#f2f2f2" stroke-width="0.6"/><line x1="59.0" y1="318.00" x2="207.0" y2="318.00" stroke="#e4e4e4" stroke-width="0.6"/><line x1="59.0" y1="306.65" x2="207.0" y2="306.65" stroke="#f2f2f2" stroke-width="0.6"/><line x1="59.0" y1="295.30" x2="207.0" y2="295.30" stroke="#e4e4e4" stroke-width="0.6"/><line x1="59.0" y1="283.95" x2="207.0" y2="283.95" stroke="#f2f2f2" stroke-width="0.6"/><line x1="59.0" y1="272.60" x2="207.0" y2="272.60" stroke="#e4e4e4" stroke-width="0.6"/>
<g transform="scale(0.5)" fill="none" stroke-linecap="round">
<path d="M270 709h0M277 708h0M274 709h0M259 716h0M261 714h0M277 705h0M253 704h0M275 718h0M274 725h0M266 704h0M261 705h0M260 709h0M260 706h0M265 710h0M267 705h0M268 717h0M280 712h0M274 708h0M270 717h0M280 707h0M257 708h0M269 706h0M254 713h0M254 703h0M267 709h0M265 707h0M278 725h0M270 720h0M267 708h0M258 722h0M272 705h0M258 705h0M263 709h0M253 713h0M275 708h0M257 717h0M260 708h0M267 710h0M276 716h0M270 726h0M273 718h0M255 706h0M267 722h0M276 717h0M263 711h0M269 710h0M254 705h0M263 705h0M262 704h0M257 705h0M275 712h0M263 719h0M279 704h0M269 717h0M269 709h0M270 716h0M271 706h0M257 718h0M265 713h0M259 717h0M264 705h0M255 709h0M279 709h0M259 715h0M271 718h0M277 707h0M271 707h0M256 703h0M276 710h0M278 718h0M277 709h0M268 716h0M257 711h0M258 712h0M278 710h0M268 704h0M258 706h0M277 713h0M270 706h0M268 705h0M263 707h0M264 710h0M259 705h0M254 711h0M277 721h0M266 716h0M268 708h0M262 714h0M273 713h0M263 718h0M254 721h0M256 723h0M279 708h0M271 715h0M264 712h0M267 704h0M276 709h0M262 706h0M269 707h0M271 704h0M262 722h0M267 714h0M274 704h0M277 712h0M257 704h0M253 722h0M273 705h0M275 713h0M264 704h0M275 717h0M270 713h0M274 717h0M267 717h0M273 711h0M259 712h0M263 723h0M258 723h0M262 719h0M268 706h0M262 712h0M265 725h0M279 717h0M267 703h0M267 715h0M277 704h0M264 726h0M277 717h0M264 715h0M278 712h0M255 712h0M267 712h0M279 724h0M260 716h0M275 704h0M271 724h0M272 707h0M270 712h0M262 715h0M264 714h0M258 711h0M254 704h0M278 721h0M276 723h0M256 705h0M269 715h0M266 720h0M271 705h0M261 709h0M279 719h0M270 725h0M258 704h0M264 720h0M274 705h0M275 703h0M273 706h0M256 716h0M275 711h0M277 710h0M278 704h0M254 714h0M253 710h0M260 720h0M260 711h0M268 720h0M254 720h0M257 715h0M271 708h0M261 720h0M278 708h0M269 708h0M258 710h0M268 707h0M254 722h0M279 707h0M276 718h0M262 716h0M261 713h0M256 706h0M270 708h0M274 712h0M261 716h0M276 706h0M256 712h0M258 703h0M270 705h0M255 708h0M270 721h0M275 709h0M262 723h0M272 706h0M276 707h0M257 714h0M254 712h0M270 704h0M259 713h0M278 713h0M263 714h0M265 717h0M271 713h0M256 719h0M263 706h0M256 704h0M271 721h0M275 723h0M263 726h0M263 704h0M259 708h0M260 715h0M262 718h0M273 725h0M269 705h0M261 710h0M255 717h0M274 718h0M256 708h0M256 709h0M256 715h0M255 715h0M260 704h0M261 711h0M275 706h0M265 711h0M255 718h0M273 715h0M255 710h0M267 721h0M273 707h0M258 708h0M273 712h0M277 723h0M256 722h0M258 717h0M272 721h0M280 724h0M278 709h0M276 713h0M264 706h0M273 726h0M272 719h0M264 722h0M268 713h0M263 716h0M272 717h0M263 721h0M275 710h0M263 708h0M257 709h0M273 704h0M280 714h0M272 713h0M278 706h0M256 713h0M280 709h0M256 720h0M268 721h0M273 709h0M278 703h0M274 719h0M255 711h0M266 712h0M261 707h0M261 708h0M272 710h0M265 709h0M254 710h0M280 708h0M260 703h0M259 721h0M254 706h0M266 715h0M266 713h0M260 717h0M261 715h0M264 723h0M258 718h0M279 711h0M278 716h0M259 710h0M267 716h0M278 705h0M254 723h0M269 718h0M259 706h0M265 723h0M273 708h0M272 715h0M271 722h0M257 710h0M278 723h0M269 713h0M267 713h0M255 714h0M272 708h0M259 711h0M268 703h0M274 706h0M255 705h0M279 710h0M266 709h0M272 714h0M273 722h0M268 710h0M278 719h0M268 709h0M258 726h0M277 725h0M265 715h0M272 711h0M268 723h0M265 708h0M275 707h0M271 711h0M264 707h0M273 703h0M263 712h0M265 718h0M273 714h0M266 714h0M262 705h0M263 722h0M274 711h0M265 706h0M272 723h0M276 725h0M269 712h0M264 718h0M280 704h0M265 716h0M263 715h0M279 714h0M277 720h0M263 710h0M260 707h0M266 711h0M255 725h0M276 711h0M266 705h0M261 704h0M274 710h0M270 707h0M270 715h0M260 705h0M258 713h0M261 712h0M260 713h0M264 716h0M272 712h0M258 721h0M257 712h0M262 711h0M266 721h0M270 714h0M265 703h0M261 725h0M279 716h0M253 703h0M260 710h0M274 714h0M258 720h0M264 708h0M275 720h0M277 716h0M271 712h0M254 709h0M269 721h0M259 719h0M278 714h0M279 712h0M262 709h0M253 715h0M272 725h0M272 718h0M276 726h0M273 723h0M262 721h0M256 714h0M265 712h0M278 707h0M260 712h0M253 716h0M274 716h0M274 721h0M271 709h0M260 723h0M272 716h0M256 711h0M254 724h0M276 704h0M260 719h0M270 723h0M265 724h0M273 721h0M273 717h0M260 718h0M278 715h0M256 717h0M266 706h0M276 720h0M253 711h0M255 720h0M265 714h0M279 720h0M262 708h0M279 715h0M275 716h0M269 704h0M273 719h0M271 719h0M277 718h0M262 710h0M258 725h0M266 708h0M257 707h0M275 719h0M261 718h0M265 704h0M257 722h0M261 706h0M257 724h0M265 726h0M257 713h0M256 718h0M255 713h0M262 707h0M278 726h0M254 707h0M273 710h0M280 706h0M264 713h0M280 715h0M266 717h0M265 721h0M263 713h0M255 707h0M268 719h0M271 714h0M262 720h0M256 710h0M272 709h0M261 719h0M269 720h0M260 714h0M269 714h0M257 706h0M272 704h0M260 724h0M280 718h0M253 718h0M258 707h0M253 705h0M279 706h0M277 706h0M270 703h0M255 703h0M259 707h0M270 724h0M268 726h0M270 711h0M279 705h0M253 719h0M255 704h0M272 726h0M265 705h0M259 722h0M276 721h0M264 709h0M267 707h0M253 706h0M277 714h0M261 717h0M267 711h0M254 708h0M256 707h0M257 719h0M273 716h0M259 725h0M253 708h0M264 719h0M253 707h0M267 726h0M266 703h0M258 714h0M266 710h0M255 721h0M271 703h0M279 721h0M275 721h0M253 717h0M261 721h0M277 719h0M267 724h0M271 710h0M255 716h0M257 725h0M253 714h0M257 721h0M268 715h0M280 716h0M278 720h0M269 703h0M266 719h0M268 712h0M278 722h0M279 713h0M261 703h0M268 718h0M276 708h0M274 703h0M278 711h0M267 720h0M261 722h0M277 703h0M277 715h0M266 724h0M276 714h0M260 722h0M262 703h0M278 717h0M258 716h0M277 711h0M260 721h0M254 715h0M272 722h0M276 712h0M268 711h0M279 723h0M280 713h0M256 721h0M267 718h0M253 709h0M267 719h0M265 719h0M263 703h0M268 722h0M270 718h0M279 722h0M275 714h0M271 720h0M263 717h0M262 717h0M267 706h0M270 710h0M259 718h0M256 724h0M280 722h0M275 705h0M280 710h0M269 724h0M270 722h0M271 725h0M265 722h0M264 721h0M271 723h0M262 725h0M257 720h0M264 725h0M276 705h0M271 716h0M259 714h0M255 726h0M276 715h0M280 717h0M258 709h0M262 713h0M280 703h0M257 716h0M266 707h0M280 721h0M253 721h0M274 707h0M265 720h0M258 715h0M267 723h0M259 709h0M254 717h0M271 717h0M276 722h0M268 714h0M261 724h0M263 720h0M258 719h0M273 724h0M269 719h0M274 722h0M259 704h0M266 725h0M255 719h0M275 715h0M279 726h0M272 720h0M273 720h0M275 725h0M269 722h0M275 724h0M279 718h0M277 722h0M275 722h0M258 724h0M274 715h0M255 722h0M280 725h0M266 723h0M272 703h0M276 719h0M266 722h0M266 718h0M280 705h0M260 725h0M261 726h0M277 724h0M259 724h0" stroke="#303030" stroke-opacity="0.88" stroke-width="3.2"/>
<path d="M252 726h0M251 712h0M251 725h0M250 716h0M252 711h0M250 723h0M224 715h0M244 715h0M246 714h0M251 716h0M252 710h0M250 712h0M251 715h0M252 721h0M253 714h0M248 709h0M247 710h0M252 722h0M248 716h0M252 714h0M234 715h0M249 719h0M250 711h0M252 725h0M253 718h0M252 716h0M252 718h0M250 715h0M249 715h0M253 716h0M244 725h0M241 710h0M249 709h0M251 713h0M253 717h0M252 715h0M253 709h0M253 713h0M253 712h0M245 712h0M250 709h0M246 712h0M250 721h0M235 714h0M243 709h0M250 720h0M251 723h0M247 723h0M243 719h0M253 711h0M232 713h0M249 711h0M247 713h0M245 719h0M247 715h0M233 712h0M230 711h0M249 713h0M252 713h0M247 717h0M246 713h0M243 710h0M248 714h0M251 714h0M231 713h0M249 718h0M251 719h0M253 719h0M246 716h0M251 720h0M247 712h0M250 717h0M251 709h0M251 718h0M251 711h0M244 709h0M245 713h0M249 710h0M246 709h0M252 719h0M238 718h0M250 714h0M248 718h0M252 709h0M252 717h0M246 711h0M245 711h0M250 710h0M245 710h0M252 712h0M237 710h0M242 711h0M244 710h0M248 713h0M250 724h0M250 718h0M241 720h0M248 712h0M244 721h0M243 716h0M248 720h0M236 716h0M251 717h0M252 720h0M246 715h0M248 722h0M250 713h0M249 716h0M248 717h0M248 710h0M253 710h0M245 722h0M244 712h0M249 717h0M249 721h0M240 717h0M249 714h0M231 711h0M247 725h0M251 710h0M240 710h0M245 718h0M243 714h0M253 724h0M249 712h0M242 714h0M239 715h0M253 715h0M253 721h0M233 715h0M243 725h0M232 709h0M245 721h0M244 717h0M247 716h0M243 712h0M244 713h0M238 712h0M242 712h0M239 720h0M246 723h0M239 713h0M241 722h0M246 721h0M246 718h0M238 720h0M248 715h0M234 709h0M242 719h0M242 713h0M240 712h0M249 725h0M233 720h0M245 714h0M245 720h0M244 718h0M223 720h0M236 717h0M245 717h0M237 716h0M235 712h0M248 721h0M246 710h0M244 723h0M236 710h0M244 722h0M243 721h0M240 713h0M244 720h0M242 723h0M250 726h0M252 724h0M243 715h0M245 709h0M248 719h0M240 711h0M237 721h0M241 709h0M242 716h0M229 719h0M232 712h0M241 712h0M237 717h0M244 711h0M250 725h0M238 713h0M242 710h0M249 724h0M239 719h0M236 709h0M249 720h0M236 724h0M242 717h0M247 718h0M235 718h0M242 715h0M241 723h0M245 726h0M240 714h0M238 714h0M235 713h0M239 725h0M248 711h0M245 716h0M247 711h0M237 718h0M242 722h0M247 709h0M235 709h0M239 712h0M244 714h0M248 723h0M236 711h0M236 722h0M228 710h0M242 709h0M239 710h0M252 723h0M251 721h0M241 719h0M239 717h0M243 713h0M231 709h0M241 715h0M247 720h0M233 709h0M251 722h0M237 711h0M239 716h0M234 711h0M238 709h0M247 721h0M239 723h0M253 720h0M237 714h0M243 718h0M232 711h0M247 722h0M243 711h0M238 711h0M250 719h0M246 719h0M249 723h0M241 711h0M232 716h0M236 718h0M280 710h0M281 709h0M282 711h0M286 721h0M298 706h0M282 715h0M290 716h0M280 718h0M306 704h0M288 709h0M282 706h0M287 714h0M281 713h0M281 716h0M326 716h0M284 713h0M301 706h0M295 711h0M286 720h0M300 716h0M282 724h0M282 704h0M286 722h0M285 710h0M283 708h0M284 718h0M286 703h0M283 703h0M281 717h0M280 720h0M288 711h0M282 709h0M285 704h0M284 707h0M284 715h0M286 707h0M283 712h0M288 725h0M283 716h0M280 709h0M313 707h0M288 707h0M280 705h0M281 706h0M291 709h0M281 715h0M289 711h0M296 716h0M280 712h0M285 713h0M284 716h0M290 715h0M290 718h0M282 710h0M281 719h0M282 708h0M287 716h0M282 721h0M280 706h0M282 712h0M283 715h0M300 714h0M289 722h0M294 720h0M288 704h0M304 708h0M281 707h0M281 705h0M307 711h0M286 713h0M282 719h0M296 705h0M306 708h0M281 711h0M295 712h0M283 714h0M292 707h0M287 713h0M286 711h0M287 718h0M287 704h0M282 722h0M282 707h0M282 714h0M285 714h0M280 708h0M284 725h0M290 710h0M303 713h0M296 708h0M285 711h0M295 714h0M282 726h0M280 715h0M296 714h0M286 709h0M282 705h0M287 712h0M302 713h0M284 705h0M281 704h0M283 726h0M284 704h0M286 718h0M285 705h0M284 723h0M294 705h0M283 709h0M286 708h0M282 713h0M285 719h0M282 720h0M284 709h0M280 714h0M290 724h0M284 719h0M292 719h0M288 718h0M280 704h0M287 707h0M288 721h0M285 708h0M292 703h0M281 708h0M285 709h0M298 720h0M284 706h0M293 707h0M283 707h0M288 714h0M296 722h0M284 708h0M284 712h0M287 715h0M307 717h0M293 717h0M299 704h0M283 722h0M281 710h0M281 724h0M283 704h0M297 710h0M284 711h0M297 706h0M280 722h0M284 717h0M283 705h0M283 721h0M291 718h0M293 709h0M291 708h0M290 707h0M281 723h0M281 712h0M291 720h0M284 720h0M280 719h0M287 719h0M283 710h0M283 723h0M297 709h0M282 703h0M285 706h0M298 703h0M281 725h0M310 706h0M299 711h0M286 706h0M288 708h0M283 711h0M283 713h0M282 725h0M289 708h0M285 722h0M308 707h0M285 721h0M299 706h0M286 716h0M292 713h0M290 714h0M290 709h0M312 707h0M299 709h0M283 706h0M282 717h0M287 723h0M297 713h0M281 720h0M286 727h0M293 715h0M298 713h0M293 704h0M298 725h0M292 712h0M290 722h0M283 719h0M287 711h0M286 723h0M281 721h0M280 707h0M287 710h0M301 710h0M305 712h0M297 705h0M289 712h0M297 711h0M280 716h0M289 720h0M292 704h0M294 713h0M294 725h0M280 713h0M290 719h0M307 714h0M305 705h0M285 703h0M284 710h0M289 705h0M291 707h0M285 707h0M291 725h0M292 717h0M289 715h0M294 709h0M280 726h0M289 716h0M282 718h0M290 712h0M297 712h0M297 718h0M293 706h0M295 720h0M291 714h0M288 705h0M289 724h0M289 707h0M285 717h0M281 703h0M291 705h0M287 722h0M280 724h0M288 713h0M300 713h0M289 704h0M291 721h0M285 724h0M288 712h0M289 713h0M285 720h0M280 717h0M290 705h0M288 716h0M281 718h0M286 725h0M294 704h0M286 715h0M283 725h0M302 705h0M283 718h0M283 720h0M302 706h0M287 705h0M295 708h0M297 703h0M284 724h0M285 716h0M293 705h0M291 713h0M284 714h0M282 716h0M293 719h0M291 704h0M280 723h0M283 717h0M286 704h0M296 724h0M280 711h0M291 710h0M298 712h0M286 705h0M296 704h0M287 706h0M294 719h0M284 727h0M286 710h0M290 711h0M290 704h0M284 722h0M288 717h0M281 722h0M296 718h0M286 714h0M294 722h0M286 724h0M302 720h0M285 718h0M295 717h0M292 714h0M285 712h0M309 711h0M299 708h0M280 721h0M301 705h0M286 719h0M295 715h0M280 703h0M288 706h0M295 704h0M291 711h0M284 721h0M289 718h0M301 718h0M287 709h0M287 720h0M287 724h0M298 724h0M292 706h0M298 719h0M289 719h0M296 719h0M295 716h0M284 703h0M285 715h0M314 711h0M281 714h0M296 726h0M288 715h0M288 710h0M289 710h0M301 704h0M306 722h0M298 708h0M292 711h0M292 724h0M289 714h0M299 705h0M290 708h0M303 705h0M293 710h0M288 722h0M300 711h0M298 722h0M289 717h0M295 706h0M299 710h0M305 703h0M295 721h0M301 717h0M297 723h0M290 720h0M296 721h0M295 719h0M295 705h0M301 709h0M296 715h0M297 717h0M288 703h0M289 706h0M287 726h0M293 714h0M303 706h0M287 708h0M296 712h0M331 721h0M290 717h0M317 714h0M298 716h0M309 712h0M304 724h0M331 718h0M332 716h0M301 726h0M307 723h0M289 721h0M302 708h0M306 716h0M323 720h0M309 708h0M379 721h0M326 705h0M324 709h0M304 715h0M298 715h0M303 723h0M294 708h0M292 721h0M286 717h0M291 727h0M290 723h0M351 704h0M300 718h0M321 715h0M291 723h0M293 718h0M298 711h0M308 712h0M318 711h0M317 708h0M297 725h0M286 726h0M294 706h0M305 713h0M309 705h0M342 706h0M309 719h0M297 721h0M328 707h0M361 725h0M298 714h0M294 707h0M317 716h0M313 719h0M308 714h0M327 718h0M329 724h0M311 725h0M332 710h0M336 720h0M330 720h0M287 725h0M340 711h0M302 712h0M297 715h0M291 717h0M308 709h0M307 722h0M318 718h0M325 725h0M319 721h0M288 719h0M311 724h0M337 725h0M298 705h0M310 712h0M298 709h0M289 726h0M297 708h0M306 717h0M314 712h0M290 727h0M290 725h0M318 723h0M287 717h0M383 708h0M312 709h0M302 721h0M288 726h0M310 724h0M293 708h0M303 725h0M357 716h0M326 708h0M337 726h0M293 716h0M312 726h0M294 718h0M288 720h0M295 707h0M333 720h0M137 709h0M192 721h0M368 709h0" stroke="#1c9428" stroke-opacity="0.88" stroke-width="3.2"/>
<path d="M257 689h0M271 697h0M273 690h0M274 691h0M277 699h0M262 691h0M255 689h0M263 690h0M262 688h0M256 699h0M271 698h0M267 700h0M270 700h0M276 682h0M268 696h0M277 679h0M275 695h0M267 699h0M270 695h0M266 699h0M263 691h0M273 696h0M279 667h0" stroke="#2240a8" stroke-opacity="0.88" stroke-width="3.2"/>
<path d="M294 685h0M305 695h0M290 684h0M296 671h0M283 687h0M292 677h0M303 695h0M295 701h0M292 695h0M282 667h0M288 691h0M281 681h0M297 701h0M285 684h0M294 667h0M283 690h0M306 699h0M282 698h0M292 696h0M312 702h0M293 687h0M284 699h0M296 700h0M299 701h0M298 699h0M282 697h0M293 679h0M283 698h0M306 680h0M292 690h0M287 688h0M296 678h0M295 693h0M282 674h0M304 697h0M289 668h0M282 700h0M302 692h0M303 683h0M301 702h0M296 694h0M284 692h0M299 686h0M306 695h0M298 701h0M304 698h0M285 667h0M299 700h0M299 698h0M281 693h0M281 701h0M285 702h0M292 671h0M289 675h0M291 689h0M290 688h0M292 667h0M291 675h0M293 676h0M288 687h0M287 700h0M291 687h0M293 700h0M285 676h0M288 697h0M291 676h0M286 696h0M282 679h0M292 698h0M296 698h0M301 692h0M289 681h0M282 689h0M290 672h0M282 688h0M281 686h0M299 696h0M296 693h0M286 699h0M290 692h0M295 702h0M288 700h0M306 687h0M283 700h0M299 681h0M286 688h0M299 689h0M283 684h0M297 697h0M288 698h0M285 696h0M290 682h0M295 700h0M294 692h0M304 695h0M298 689h0M284 695h0M296 686h0M281 694h0M282 694h0M292 697h0M289 667h0M304 699h0M294 700h0M305 700h0M287 676h0M291 695h0M283 691h0M293 677h0M300 687h0M302 689h0M291 684h0M285 691h0M285 689h0M281 688h0M292 689h0M302 695h0M283 699h0M303 697h0M281 699h0M294 701h0M298 700h0M298 684h0M293 685h0M298 694h0M296 701h0M306 697h0M300 680h0M285 698h0M289 700h0M289 691h0M292 701h0M286 681h0M312 649h0M311 658h0M297 671h0" stroke="#cc1414" stroke-opacity="0.88" stroke-width="3.2"/>
<path d="M294 685h0M292 677h0M288 691h0M283 690h0M293 687h0M282 697h0M287 688h0M289 668h0M296 694h0M304 698h0M281 701h0M290 688h0M287 700h0M291 676h0M301 692h0M281 686h0M295 702h0M286 688h0M285 696h0M298 689h0M292 697h0M287 676h0M302 689h0M292 689h0M294 701h0M296 701h0M289 691h0M297 671h0" stroke="#8a0c0c" stroke-opacity="0.55" stroke-width="2.2"/>
</g>
<line x1="126.44" y1="269.8" x2="126.44" y2="366.8" stroke="#555" stroke-width="0.65" stroke-dasharray="1.8,1.4"/>
<line x1="139.96" y1="269.8" x2="139.96" y2="366.8" stroke="#555" stroke-width="0.65" stroke-dasharray="1.8,1.4"/>
<line x1="59.0" y1="351.60" x2="207.0" y2="351.60" stroke="#555" stroke-width="0.65" stroke-dasharray="1.8,1.4"/>
<text x="145.40" y="321.15" font-size="5.4" text-anchor="middle" fill="#111" font-weight="normal" stroke="#111" stroke-width="0.06" textLength="16.12" lengthAdjust="spacingAndGlyphs">Hbb-bs</text>
<text x="165.00" y="330.95" font-size="5.4" text-anchor="middle" fill="#111" font-weight="normal" stroke="#111" stroke-width="0.06" textLength="17.24" lengthAdjust="spacingAndGlyphs">S100a9</text>
<text x="164.10" y="334.45" font-size="5.4" text-anchor="middle" fill="#111" font-weight="normal" stroke="#111" stroke-width="0.06" textLength="17.24" lengthAdjust="spacingAndGlyphs">S100a8</text>
<text x="150.00" y="338.45" font-size="5.4" text-anchor="middle" fill="#111" font-weight="normal" stroke="#111" stroke-width="0.06" textLength="11.39" lengthAdjust="spacingAndGlyphs">Mer1</text>
<text x="145.00" y="343.15" font-size="5.4" text-anchor="middle" fill="#111" font-weight="normal" stroke="#111" stroke-width="0.06" textLength="5.56" lengthAdjust="spacingAndGlyphs">Ltf</text>
<text x="156.00" y="343.15" font-size="5.4" text-anchor="middle" fill="#111" font-weight="normal" stroke="#111" stroke-width="0.06" textLength="15.28" lengthAdjust="spacingAndGlyphs">Cxcl12</text>
<text x="137.00" y="346.55" font-size="5.4" text-anchor="middle" fill="#111" font-weight="normal" stroke="#111" stroke-width="0.06" textLength="16.12" lengthAdjust="spacingAndGlyphs">Ramp3</text>
<text x="157.00" y="346.55" font-size="5.4" text-anchor="middle" fill="#111" font-weight="normal" stroke="#111" stroke-width="0.06" textLength="10.84" lengthAdjust="spacingAndGlyphs">Lcn2</text>
<text x="92.90" y="351.85" font-size="5.4" text-anchor="middle" fill="#111" font-weight="normal" stroke="#111" stroke-width="0.06" textLength="15.57" lengthAdjust="spacingAndGlyphs">Zfp835</text>
<line x1="59.0" y1="269.8" x2="59.0" y2="367.40000000000003" stroke="#333" stroke-width="1.2"/>
<line x1="58.4" y1="366.8" x2="207.0" y2="366.8" stroke="#333" stroke-width="1.2"/>
<line x1="56.0" y1="363.40" x2="59.0" y2="363.40" stroke="#333" stroke-width="0.9"/>
<text x="53.40" y="365.75" font-size="6.6" text-anchor="end" fill="#222" font-weight="normal" stroke="#222" stroke-width="0.08" textLength="8.41" lengthAdjust="spacingAndGlyphs">0.0</text>
<line x1="56.0" y1="340.70" x2="59.0" y2="340.70" stroke="#333" stroke-width="0.9"/>
<text x="53.40" y="343.05" font-size="6.6" text-anchor="end" fill="#222" font-weight="normal" stroke="#222" stroke-width="0.08" textLength="8.41" lengthAdjust="spacingAndGlyphs">2.5</text>
<line x1="56.0" y1="318.00" x2="59.0" y2="318.00" stroke="#333" stroke-width="0.9"/>
<text x="53.40" y="320.35" font-size="6.6" text-anchor="end" fill="#222" font-weight="normal" stroke="#222" stroke-width="0.08" textLength="8.41" lengthAdjust="spacingAndGlyphs">5.0</text>
<line x1="56.0" y1="295.30" x2="59.0" y2="295.30" stroke="#333" stroke-width="0.9"/>
<text x="53.40" y="297.65" font-size="6.6" text-anchor="end" fill="#222" font-weight="normal" stroke="#222" stroke-width="0.08" textLength="8.41" lengthAdjust="spacingAndGlyphs">7.5</text>
<line x1="56.0" y1="272.60" x2="59.0" y2="272.60" stroke="#333" stroke-width="0.9"/>
<text x="53.40" y="274.95" font-size="6.6" text-anchor="end" fill="#222" font-weight="normal" stroke="#222" stroke-width="0.08" textLength="11.78" lengthAdjust="spacingAndGlyphs">10.0</text>
<line x1="65.60" y1="366.8" x2="65.60" y2="369.8" stroke="#333" stroke-width="0.9"/>
<text x="65.60" y="378.60" font-size="6.6" text-anchor="middle" fill="#222" font-weight="normal" stroke="#222" stroke-width="0.08" textLength="10.26" lengthAdjust="spacingAndGlyphs">−10</text>
<line x1="99.40" y1="366.8" x2="99.40" y2="369.8" stroke="#333" stroke-width="0.9"/>
<text x="99.40" y="378.60" font-size="6.6" text-anchor="middle" fill="#222" font-weight="normal" stroke="#222" stroke-width="0.08" textLength="6.90" lengthAdjust="spacingAndGlyphs">−5</text>
<line x1="133.20" y1="366.8" x2="133.20" y2="369.8" stroke="#333" stroke-width="0.9"/>
<text x="133.20" y="378.60" font-size="6.6" text-anchor="middle" fill="#222" font-weight="normal" stroke="#222" stroke-width="0.08" textLength="3.36" lengthAdjust="spacingAndGlyphs">0</text>
<line x1="167.00" y1="366.8" x2="167.00" y2="369.8" stroke="#333" stroke-width="0.9"/>
<text x="167.00" y="378.60" font-size="6.6" text-anchor="middle" fill="#222" font-weight="normal" stroke="#222" stroke-width="0.08" textLength="3.36" lengthAdjust="spacingAndGlyphs">5</text>
<line x1="200.80" y1="366.8" x2="200.80" y2="369.8" stroke="#333" stroke-width="0.9"/>
<text x="200.80" y="378.60" font-size="6.6" text-anchor="middle" fill="#222" font-weight="normal" stroke="#222" stroke-width="0.08" textLength="6.73" lengthAdjust="spacingAndGlyphs">10</text>
<text x="61.70" y="278.90" font-size="6.6" text-anchor="start" fill="#222" font-weight="normal" stroke="#222" stroke-width="0.08" textLength="60.75" lengthAdjust="spacingAndGlyphs">1 gene down regulated</text>
<text x="140.96" y="278.90" font-size="6.6" text-anchor="start" fill="#222" font-weight="normal" stroke="#222" stroke-width="0.08" textLength="59.42" lengthAdjust="spacingAndGlyphs">62 genes up regulated</text>
<text x="112.2" y="389.40" font-size="7.2" fill="#222" font-weight="bold" textLength="41.3" lengthAdjust="spacingAndGlyphs">Log<tspan font-size="4.6" dy="1.6">2</tspan><tspan dy="-1.6"> fold change</tspan></text>
<text x="160.70" y="389.90" font-size="6.5" text-anchor="start" fill="#222" font-weight="normal" stroke="#222" stroke-width="0.08" textLength="59.6" lengthAdjust="spacingAndGlyphs">Total variables : 18840</text>
<text transform="translate(23.70,318.30) rotate(-90)" font-size="8.3" text-anchor="middle" fill="#222" stroke="#222" stroke-width="0.1" textLength="29.1" lengthAdjust="spacingAndGlyphs">KIDNEY</text>
<text transform="translate(35.60,317.70) rotate(-90) scale(0.86,1)" font-size="7.2" text-anchor="middle" fill="#222" stroke="#222" stroke-width="0.3">-Log<tspan font-size="5" dy="1.6">10</tspan><tspan dy="-1.6" font-style="italic"> P</tspan></text>
<text x="6.50" y="278.80" font-size="11" text-anchor="start" fill="#000" font-weight="bold" stroke="#000" stroke-width="0.08" >C</text>
<line x1="65.60" y1="402.2" x2="65.60" y2="499.5" stroke="#e4e4e4" stroke-width="0.6"/><line x1="82.50" y1="402.2" x2="82.50" y2="499.5" stroke="#f2f2f2" stroke-width="0.6"/><line x1="99.40" y1="402.2" x2="99.40" y2="499.5" stroke="#e4e4e4" stroke-width="0.6"/><line x1="116.30" y1="402.2" x2="116.30" y2="499.5" stroke="#f2f2f2" stroke-width="0.6"/><line x1="133.20" y1="402.2" x2="133.20" y2="499.5" stroke="#e4e4e4" stroke-width="0.6"/><line x1="150.10" y1="402.2" x2="150.10" y2="499.5" stroke="#f2f2f2" stroke-width="0.6"/><line x1="167.00" y1="402.2" x2="167.00" y2="499.5" stroke="#e4e4e4" stroke-width="0.6"/><line x1="183.90" y1="402.2" x2="183.90" y2="499.5" stroke="#f2f2f2" stroke-width="0.6"/><line x1="200.80" y1="402.2" x2="200.80" y2="499.5" stroke="#e4e4e4" stroke-width="0.6"/><line x1="59.0" y1="495.60" x2="207.0" y2="495.60" stroke="#e4e4e4" stroke-width="0.6"/><line x1="59.0" y1="486.45" x2="207.0" y2="486.45" stroke="#f2f2f2" stroke-width="0.6"/><line x1="59.0" y1="477.30" x2="207.0" y2="477.30" stroke="#e4e4e4" stroke-width="0.6"/><line x1="59.0" y1="468.15" x2="207.0" y2="468.15" stroke="#f2f2f2" stroke-width="0.6"/><line x1="59.0" y1="459.00" x2="207.0" y2="459.00" stroke="#e4e4e4" stroke-width="0.6"/><line x1="59.0" y1="449.85" x2="207.0" y2="449.85" stroke="#f2f2f2" stroke-width="0.6"/><line x1="59.0" y1="440.70" x2="207.0" y2="440.70" stroke="#e4e4e4" stroke-width="0.6"/><line x1="59.0" y1="431.55" x2="207.0" y2="431.55" stroke="#f2f2f2" stroke-width="0.6"/><line x1="59.0" y1="422.40" x2="207.0" y2="422.40" stroke="#e4e4e4" stroke-width="0.6"/><line x1="59.0" y1="413.25" x2="207.0" y2="413.25" stroke="#f2f2f2" stroke-width="0.6"/><line x1="59.0" y1="404.10" x2="207.0" y2="404.10" stroke="#e4e4e4" stroke-width="0.6"/>
<g transform="scale(0.5)" fill="none" stroke-linecap="round">
<path d="M256 987h0M266 989h0M269 990h0M254 988h0M257 987h0M278 987h0M255 990h0M256 989h0M279 987h0M270 987h0M263 990h0M267 990h0M271 987h0M260 988h0M274 989h0M271 988h0M267 987h0M275 989h0M268 988h0M279 991h0M258 987h0M262 988h0M269 987h0M259 987h0M276 988h0M266 987h0M260 987h0M255 987h0M277 987h0M265 988h0M257 988h0M271 990h0M277 989h0M259 988h0M254 991h0M258 988h0M266 988h0M277 988h0M272 989h0M253 987h0M280 989h0M265 990h0M272 988h0M254 990h0M254 987h0M276 989h0M269 989h0M261 988h0M261 990h0M265 987h0M273 988h0M258 990h0M255 988h0M275 988h0M253 988h0M273 990h0M276 987h0M259 989h0M261 989h0M279 990h0M278 989h0M262 987h0M273 987h0M264 987h0M260 991h0M268 989h0M272 987h0M274 990h0M270 988h0M257 991h0M274 987h0M280 987h0M257 990h0M263 988h0M257 989h0M256 990h0M268 987h0M262 989h0M270 989h0M262 990h0M264 989h0M278 986h0M256 988h0M255 989h0M279 988h0M277 990h0M275 987h0M275 990h0M273 991h0M260 986h0M261 987h0M269 988h0M263 987h0M267 986h0M265 989h0M277 991h0M256 991h0M255 986h0M264 988h0M270 986h0M267 988h0M258 991h0M254 989h0M272 986h0M261 986h0M276 990h0M263 989h0M267 989h0M259 990h0M278 990h0M278 988h0M273 989h0M268 991h0M274 988h0M271 991h0M253 990h0M268 990h0M253 986h0M271 989h0M272 990h0M258 989h0M264 990h0M275 991h0M268 986h0M260 989h0M280 990h0M279 989h0M262 991h0M266 991h0M260 990h0M273 986h0M257 986h0M266 990h0M271 986h0M269 986h0M253 989h0M276 991h0M263 986h0M256 986h0M269 991h0M280 988h0M264 986h0M270 990h0M275 986h0M264 991h0M278 991h0M272 991h0M277 986h0M261 991h0M262 986h0M263 991h0M265 991h0M274 991h0M259 986h0" stroke="#303030" stroke-opacity="0.88" stroke-width="3.2"/>
<path d="M240 987h0M252 989h0M245 989h0M248 988h0M238 990h0M252 990h0M250 988h0M237 988h0M252 987h0M243 990h0M251 987h0M249 987h0M248 989h0M251 988h0M248 987h0M250 987h0M247 989h0M234 987h0M235 988h0M225 988h0M225 987h0M253 988h0M236 988h0M245 987h0M250 989h0M234 988h0M252 988h0M253 989h0M249 989h0M249 990h0M249 988h0M243 989h0M253 987h0M246 989h0M240 988h0M236 989h0M239 987h0M237 989h0M251 991h0M251 990h0M244 987h0M248 990h0M238 988h0M231 989h0M246 987h0M250 990h0M241 988h0M233 990h0M246 988h0M236 987h0M233 988h0M247 988h0M242 987h0M243 987h0M246 990h0M244 989h0M248 986h0M241 990h0M247 991h0M244 990h0M247 990h0M249 991h0M247 987h0M239 988h0M244 988h0M230 990h0M237 990h0M231 988h0M240 989h0M232 989h0M251 989h0M245 988h0M252 991h0M235 989h0M253 991h0M250 986h0M245 990h0M241 987h0M225 989h0M242 988h0M239 989h0M237 987h0M226 988h0M244 991h0M223 988h0M218 988h0M243 991h0M231 990h0M246 991h0M232 988h0M248 991h0M219 989h0M252 986h0M232 987h0M217 989h0M245 986h0M250 991h0M229 987h0M229 986h0M233 987h0M253 990h0M243 988h0M229 990h0M249 986h0M289 988h0M281 990h0M302 989h0M287 988h0M282 988h0M282 986h0M282 987h0M280 988h0M286 991h0M287 991h0M283 987h0M300 988h0M300 987h0M287 987h0M283 988h0M286 988h0M297 987h0M290 988h0M281 987h0M281 989h0M293 990h0M285 988h0M284 987h0M281 988h0M293 987h0M284 988h0M305 987h0M288 989h0M280 986h0M283 989h0M285 987h0M280 990h0M284 989h0M283 991h0M286 987h0M280 989h0M282 989h0M293 988h0M290 989h0M299 989h0M288 987h0M291 986h0M281 991h0M287 990h0M294 988h0M294 990h0M285 990h0M290 987h0M284 990h0M284 991h0M299 987h0M288 988h0M282 990h0M291 987h0M294 989h0M293 989h0M291 988h0M298 988h0M297 988h0M296 988h0M286 986h0M289 989h0M280 987h0M304 988h0M283 990h0M302 988h0M286 989h0M292 989h0M285 989h0M289 987h0M296 989h0M289 990h0M298 987h0M308 987h0M295 990h0M304 990h0M287 989h0M291 991h0M281 986h0M297 989h0M309 987h0M317 989h0M286 990h0M292 987h0M282 991h0M306 987h0M310 990h0M298 989h0M295 987h0M294 987h0M314 988h0M307 987h0M291 989h0M291 990h0M290 990h0M312 987h0M307 989h0M292 990h0M294 991h0M308 988h0M303 987h0M289 986h0M301 986h0M311 987h0M284 986h0M303 990h0M288 990h0M296 986h0M288 991h0M289 991h0M300 990h0M313 991h0M310 988h0M292 988h0M285 986h0M298 991h0M292 986h0M301 991h0M303 989h0M301 990h0M295 991h0M299 986h0M303 988h0M285 991h0M295 986h0M296 987h0M304 987h0M306 989h0M299 988h0M326 987h0M305 989h0M280 991h0M302 990h0M293 986h0M318 990h0M306 988h0M298 990h0M308 989h0M155 990h0M157 991h0M166 988h0M207 987h0M197 991h0M140 987h0M189 987h0M168 990h0M350 987h0M349 991h0M349 989h0M346 987h0M353 987h0M356 988h0M330 989h0M341 989h0" stroke="#1c9428" stroke-opacity="0.88" stroke-width="3.2"/>
<path d="M260 985h0M257 985h0M255 986h0M257 979h0M258 984h0M262 984h0M256 982h0M260 986h0M259 986h0M253 985h0M261 983h0M261 986h0M256 981h0M254 979h0M256 985h0M259 985h0M258 982h0M253 984h0M254 982h0M259 983h0M253 983h0M259 982h0M256 986h0M258 986h0M258 983h0M257 983h0M253 986h0M261 985h0M260 984h0M254 978h0M258 985h0M254 974h0M253 979h0M255 985h0M260 983h0M254 985h0M261 984h0M257 982h0M257 984h0M254 980h0M257 986h0M262 986h0M255 981h0M256 979h0M257 981h0M256 980h0M254 975h0M260 982h0M262 985h0M255 983h0M254 981h0M255 984h0M254 986h0M256 978h0M258 981h0M258 979h0M255 982h0M256 984h0M254 984h0M255 979h0M253 973h0M255 977h0M255 975h0M260 981h0M261 982h0M253 975h0M259 984h0M258 980h0M262 983h0M253 977h0M255 976h0M254 977h0M254 976h0M257 980h0M259 981h0M253 982h0M257 978h0M259 980h0M256 983h0M275 971h0M274 983h0M270 982h0M273 981h0M271 980h0M274 985h0M271 985h0M276 980h0M272 979h0M276 972h0M275 985h0M279 974h0M272 986h0M280 972h0M278 984h0M274 976h0M273 982h0M271 982h0M275 980h0M271 983h0M273 983h0M270 986h0M276 961h0M276 978h0M276 985h0M278 980h0M275 972h0M272 983h0M275 978h0M274 970h0M271 979h0M278 977h0M280 967h0M276 979h0M274 975h0M280 959h0M278 986h0M279 982h0M272 985h0M277 978h0M279 965h0M270 983h0M269 983h0M275 976h0M274 972h0M279 972h0M279 966h0M276 981h0M276 970h0M279 949h0M272 982h0M280 982h0M275 986h0M269 986h0M277 968h0M270 984h0M273 985h0M278 957h0M276 967h0M277 973h0M274 984h0M278 983h0M277 974h0M279 969h0M279 986h0M277 964h0M277 981h0M277 958h0M274 986h0M278 972h0M277 976h0M273 984h0M276 982h0M276 973h0M275 967h0M277 986h0M271 986h0M276 984h0M276 983h0M272 984h0M279 954h0M272 978h0M278 982h0M269 985h0M272 976h0M276 977h0M280 965h0M277 977h0M277 961h0M279 960h0M269 984h0M272 981h0M273 975h0M275 965h0M273 986h0M277 983h0M277 984h0M275 974h0M275 981h0M276 962h0M270 985h0M274 977h0M275 968h0M273 978h0M271 981h0M274 982h0M275 984h0M278 973h0M273 980h0M272 980h0M278 975h0M277 979h0M279 978h0M279 977h0M279 964h0M274 973h0M274 969h0M273 977h0M277 971h0M280 955h0M274 981h0M278 954h0M273 974h0M274 974h0M279 967h0M280 962h0M278 963h0M275 982h0M279 985h0M278 955h0M279 983h0M278 981h0M271 984h0M279 971h0M280 975h0M278 967h0M279 957h0M279 981h0M279 980h0M279 955h0M276 963h0M277 980h0M279 968h0M276 976h0M276 986h0M279 979h0M277 967h0M273 979h0M276 975h0M278 956h0M276 968h0M278 971h0M275 966h0M280 986h0M271 978h0M278 979h0M277 962h0M279 956h0M273 976h0M270 981h0M275 973h0M275 977h0M278 965h0M277 955h0M279 953h0M280 985h0M279 952h0M277 982h0M279 963h0M280 958h0M275 969h0M277 970h0M274 971h0M277 975h0M280 947h0M279 946h0M278 966h0M277 985h0M280 970h0M278 985h0M277 965h0M279 976h0M276 966h0M279 950h0" stroke="#2240a8" stroke-opacity="0.88" stroke-width="3.2"/>
<path d="M260 985h0M262 984h0M261 983h0M259 985h0M253 983h0M257 983h0M258 985h0M254 985h0M257 986h0M256 980h0M254 981h0M258 979h0M253 973h0M253 975h0M255 976h0M253 982h0M274 983h0M271 985h0M279 974h0M273 982h0M270 986h0M275 972h0M278 977h0M278 986h0M270 983h0M279 966h0M280 982h0M273 985h0M278 983h0M277 981h0M273 984h0M271 986h0M272 978h0M280 965h0M272 981h0M277 984h0M274 977h0M275 984h0M277 979h0M274 969h0M278 954h0M278 963h0M278 981h0M279 957h0M277 980h0M277 967h0M278 971h0M277 962h0M275 977h0M279 952h0M277 970h0M278 966h0M279 976h0" stroke="#141c66" stroke-opacity="0.55" stroke-width="2.2"/>
<path d="M288 898h0M297 986h0M281 974h0M291 959h0M304 956h0M295 948h0M284 984h0M303 945h0M297 975h0M291 975h0M293 986h0M290 982h0M304 971h0M293 955h0M281 972h0M285 960h0M309 979h0M304 982h0M301 984h0M286 981h0M299 965h0M303 983h0M294 941h0M300 985h0M304 976h0M303 936h0M298 968h0M298 962h0M282 946h0M291 985h0M301 980h0M310 982h0M295 967h0M304 966h0M294 984h0M284 925h0M298 975h0M298 977h0M285 964h0M285 950h0M294 964h0M289 960h0M298 981h0M281 960h0M288 912h0M297 933h0M281 952h0M303 981h0M296 937h0M314 985h0M281 969h0M282 969h0M300 966h0M302 977h0M282 960h0M299 926h0M303 979h0M307 967h0M295 979h0M281 977h0M282 982h0M314 979h0M298 971h0M303 952h0M291 979h0M291 965h0M292 976h0M285 976h0M291 947h0M283 897h0M290 970h0M304 952h0M294 977h0M287 981h0M306 978h0M294 918h0M282 981h0M306 983h0M306 977h0M288 973h0M307 975h0M286 955h0M291 971h0M289 964h0M295 944h0M292 982h0M307 970h0M290 933h0M298 985h0M294 985h0M296 982h0M286 985h0M293 984h0M307 982h0M302 984h0M282 925h0M284 969h0M287 968h0M288 931h0M282 951h0M298 982h0M302 969h0M295 976h0M289 972h0M295 952h0M286 986h0M304 978h0M316 979h0M284 985h0M297 962h0M294 926h0M296 927h0M291 951h0M281 955h0M293 967h0M290 931h0M292 917h0M293 881h0M289 893h0M315 971h0M282 957h0M290 985h0M292 957h0M308 984h0M293 975h0M281 981h0M299 982h0M287 881h0M300 984h0M287 965h0M289 930h0M293 954h0M305 982h0M283 976h0M295 938h0M316 977h0M298 983h0M289 951h0M292 983h0M293 972h0M284 978h0M297 979h0M321 985h0M284 983h0M282 976h0M289 984h0M292 975h0M309 985h0M298 972h0M304 961h0M287 984h0M293 968h0M296 896h0M296 951h0M291 950h0M296 975h0M294 928h0M318 982h0M303 982h0M298 966h0M288 925h0M297 974h0M296 908h0M292 914h0M307 968h0M301 981h0M286 969h0M305 980h0M289 968h0M297 959h0M294 962h0M290 945h0M292 961h0M301 970h0M286 975h0M287 896h0M297 976h0M284 973h0M293 939h0M282 940h0M283 944h0M286 964h0M294 967h0M294 960h0M306 939h0M294 950h0M293 971h0M297 978h0M290 979h0M310 972h0M286 960h0M289 986h0M288 944h0M287 955h0M299 980h0M305 979h0M290 974h0M300 958h0M288 958h0M284 975h0M291 981h0M285 918h0M293 945h0M300 986h0M286 977h0M312 978h0M296 923h0M297 980h0M286 881h0M293 965h0M302 960h0M287 946h0M300 980h0M286 971h0M309 983h0M282 967h0M290 980h0M294 887h0M284 921h0M283 972h0M287 941h0M293 937h0M284 974h0M296 965h0M282 971h0M296 963h0M313 980h0M303 974h0M290 962h0M289 981h0M304 959h0M290 969h0M300 968h0M284 971h0M295 953h0M283 968h0M292 979h0M299 928h0M299 983h0M306 982h0M286 906h0M302 949h0M314 986h0M290 972h0M308 975h0M292 964h0M281 979h0M285 983h0M285 975h0M305 984h0M294 975h0M288 941h0M295 973h0M293 980h0M287 985h0M297 981h0M286 918h0M303 934h0M295 986h0M289 936h0M295 971h0M281 938h0M316 985h0M294 982h0M283 956h0M287 918h0M281 985h0M282 970h0M292 974h0M287 894h0M294 954h0M284 962h0M297 925h0M281 936h0M290 953h0M291 977h0M288 981h0M296 970h0M298 980h0M296 971h0M304 967h0M284 976h0M300 935h0M294 916h0M301 868h0M307 927h0M293 927h0M286 932h0M290 914h0M307 914h0M299 830h0M307 958h0M294 830h0M306 929h0M293 912h0M291 830h0M298 891h0M297 844h0M296 918h0M299 916h0M309 908h0M291 935h0M281 908h0M303 954h0M319 953h0M310 938h0M285 936h0M303 916h0M310 909h0M308 954h0M318 916h0M308 939h0M284 931h0M305 947h0M290 830h0M288 935h0M281 912h0M284 852h0M294 919h0M310 949h0M311 938h0M306 934h0M312 907h0M289 938h0M319 955h0M303 879h0M294 899h0M307 929h0M316 945h0M284 845h0M252 983h0M234 983h0M248 971h0M242 974h0M248 985h0M241 985h0M251 984h0M252 985h0M243 986h0M246 939h0M244 981h0M244 986h0" stroke="#cc1414" stroke-opacity="0.88" stroke-width="3.2"/>
<path d="M288 898h0M295 948h0M293 986h0M285 960h0M299 965h0M303 936h0M301 980h0M284 925h0M294 964h0M297 933h0M281 969h0M299 926h0M282 982h0M291 965h0M290 970h0M294 918h0M307 975h0M292 982h0M296 982h0M282 925h0M298 982h0M286 986h0M294 926h0M290 931h0M282 957h0M281 981h0M289 930h0M316 977h0M284 978h0M289 984h0M287 984h0M296 975h0M288 925h0M301 981h0M294 962h0M287 896h0M283 944h0M294 950h0M286 960h0M305 979h0M291 981h0M312 978h0M302 960h0M282 967h0M287 941h0M296 963h0M304 959h0M283 968h0M286 906h0M292 964h0M294 975h0M297 981h0M295 971h0M287 918h0M294 954h0M291 977h0M304 967h0M307 927h0M299 830h0M291 830h0M309 908h0M310 938h0M318 916h0M288 935h0M311 938h0M303 879h0M252 983h0M241 985h0M244 981h0" stroke="#8a0c0c" stroke-opacity="0.55" stroke-width="2.2"/>
</g>
<line x1="126.44" y1="402.2" x2="126.44" y2="499.5" stroke="#555" stroke-width="0.65" stroke-dasharray="1.8,1.4"/>
<line x1="139.96" y1="402.2" x2="139.96" y2="499.5" stroke="#555" stroke-width="0.65" stroke-dasharray="1.8,1.4"/>
<line x1="59.0" y1="493.22" x2="207.0" y2="493.22" stroke="#555" stroke-width="0.65" stroke-dasharray="1.8,1.4"/>
<text x="149.20" y="418.45" font-size="5.4" text-anchor="middle" fill="#111" font-weight="normal" stroke="#111" stroke-width="0.06" textLength="13.62" lengthAdjust="spacingAndGlyphs">Prrt2a</text>
<text x="158.80" y="425.15" font-size="5.4" text-anchor="middle" fill="#111" font-weight="normal" stroke="#111" stroke-width="0.06" textLength="15.29" lengthAdjust="spacingAndGlyphs">Slc4a1</text>
<text x="146.60" y="431.75" font-size="5.4" text-anchor="middle" fill="#111" font-weight="normal" stroke="#111" stroke-width="0.06" textLength="15.28" lengthAdjust="spacingAndGlyphs">Tgm5c</text>
<text x="152.40" y="438.15" font-size="5.4" text-anchor="middle" fill="#111" font-weight="normal" stroke="#111" stroke-width="0.06" textLength="14.46" lengthAdjust="spacingAndGlyphs">Sbad2</text>
<text x="142.90" y="444.15" font-size="5.4" text-anchor="middle" fill="#111" font-weight="normal" stroke="#111" stroke-width="0.06" textLength="13.62" lengthAdjust="spacingAndGlyphs">Creg1</text>
<text x="146.30" y="450.25" font-size="5.4" text-anchor="middle" fill="#111" font-weight="normal" stroke="#111" stroke-width="0.06" textLength="11.67" lengthAdjust="spacingAndGlyphs">Cdk2</text>
<text x="145.20" y="453.65" font-size="5.4" text-anchor="middle" fill="#111" font-weight="normal" stroke="#111" stroke-width="0.06" textLength="15.84" lengthAdjust="spacingAndGlyphs">Sparc4</text>
<text x="156.10" y="459.15" font-size="5.4" text-anchor="middle" fill="#111" font-weight="normal" stroke="#111" stroke-width="0.06" textLength="9.17" lengthAdjust="spacingAndGlyphs">Rhd</text>
<text x="141.50" y="462.35" font-size="5.4" text-anchor="middle" fill="#111" font-weight="normal" stroke="#111" stroke-width="0.06" textLength="17.52" lengthAdjust="spacingAndGlyphs">Rad23a</text>
<text x="159.40" y="464.65" font-size="5.4" text-anchor="middle" fill="#111" font-weight="normal" stroke="#111" stroke-width="0.06" textLength="15.85" lengthAdjust="spacingAndGlyphs">Cldn13</text>
<text x="144.00" y="466.95" font-size="5.4" text-anchor="middle" fill="#111" font-weight="normal" stroke="#111" stroke-width="0.06" textLength="11.40" lengthAdjust="spacingAndGlyphs">Snca</text>
<text x="163.70" y="469.45" font-size="5.4" text-anchor="middle" fill="#111" font-weight="normal" stroke="#111" stroke-width="0.06" textLength="21.96" lengthAdjust="spacingAndGlyphs">Gm30051</text>
<text x="145.00" y="471.55" font-size="5.4" text-anchor="middle" fill="#111" font-weight="normal" stroke="#111" stroke-width="0.06" textLength="13.62" lengthAdjust="spacingAndGlyphs">Hba-a</text>
<text x="139.20" y="475.65" font-size="5.4" text-anchor="middle" fill="#111" font-weight="normal" stroke="#111" stroke-width="0.06" textLength="13.06" lengthAdjust="spacingAndGlyphs">Bpgm</text>
<text x="162.20" y="476.15" font-size="5.4" text-anchor="middle" fill="#111" font-weight="normal" stroke="#111" stroke-width="0.06" textLength="21.96" lengthAdjust="spacingAndGlyphs">Gm20161</text>
<text x="141.00" y="479.65" font-size="5.4" text-anchor="middle" fill="#111" font-weight="normal" stroke="#111" stroke-width="0.06" textLength="11.95" lengthAdjust="spacingAndGlyphs">Gypa</text>
<text x="155.00" y="479.65" font-size="5.4" text-anchor="middle" fill="#111" font-weight="normal" stroke="#111" stroke-width="0.06" textLength="12.51" lengthAdjust="spacingAndGlyphs">Alas2</text>
<text x="132.20" y="484.25" font-size="5.4" text-anchor="middle" fill="#111" font-weight="normal" stroke="#111" stroke-width="0.06" textLength="6.95" lengthAdjust="spacingAndGlyphs">Slc</text>
<text x="153.80" y="487.75" font-size="5.4" text-anchor="middle" fill="#111" font-weight="normal" stroke="#111" stroke-width="0.06" textLength="7.23" lengthAdjust="spacingAndGlyphs">Kl2</text>
<text x="121.00" y="488.95" font-size="5.4" text-anchor="middle" fill="#111" font-weight="normal" stroke="#111" stroke-width="0.06" textLength="7.22" lengthAdjust="spacingAndGlyphs">Zfp</text>
<text x="120.00" y="493.25" font-size="5.4" text-anchor="middle" fill="#111" font-weight="normal" stroke="#111" stroke-width="0.06" textLength="11.67" lengthAdjust="spacingAndGlyphs">Cox6</text>
<text x="163.40" y="494.05" font-size="5.4" text-anchor="middle" fill="#111" font-weight="normal" stroke="#111" stroke-width="0.06" textLength="16.95" lengthAdjust="spacingAndGlyphs">Lrrc49a</text>
<line x1="59.0" y1="402.2" x2="59.0" y2="500.1" stroke="#333" stroke-width="1.2"/>
<line x1="58.4" y1="499.5" x2="207.0" y2="499.5" stroke="#333" stroke-width="1.2"/>
<line x1="56.0" y1="495.60" x2="59.0" y2="495.60" stroke="#333" stroke-width="0.9"/>
<text x="53.40" y="497.95" font-size="6.6" text-anchor="end" fill="#222" font-weight="normal" stroke="#222" stroke-width="0.08" textLength="3.36" lengthAdjust="spacingAndGlyphs">0</text>
<line x1="56.0" y1="477.30" x2="59.0" y2="477.30" stroke="#333" stroke-width="0.9"/>
<text x="53.40" y="479.65" font-size="6.6" text-anchor="end" fill="#222" font-weight="normal" stroke="#222" stroke-width="0.08" textLength="6.73" lengthAdjust="spacingAndGlyphs">10</text>
<line x1="56.0" y1="459.00" x2="59.0" y2="459.00" stroke="#333" stroke-width="0.9"/>
<text x="53.40" y="461.35" font-size="6.6" text-anchor="end" fill="#222" font-weight="normal" stroke="#222" stroke-width="0.08" textLength="6.73" lengthAdjust="spacingAndGlyphs">20</text>
<line x1="56.0" y1="440.70" x2="59.0" y2="440.70" stroke="#333" stroke-width="0.9"/>
<text x="53.40" y="443.05" font-size="6.6" text-anchor="end" fill="#222" font-weight="normal" stroke="#222" stroke-width="0.08" textLength="6.73" lengthAdjust="spacingAndGlyphs">30</text>
<line x1="56.0" y1="422.40" x2="59.0" y2="422.40" stroke="#333" stroke-width="0.9"/>
<text x="53.40" y="424.75" font-size="6.6" text-anchor="end" fill="#222" font-weight="normal" stroke="#222" stroke-width="0.08" textLength="6.73" lengthAdjust="spacingAndGlyphs">40</text>
<line x1="56.0" y1="404.10" x2="59.0" y2="404.10" stroke="#333" stroke-width="0.9"/>
<text x="53.40" y="406.45" font-size="6.6" text-anchor="end" fill="#222" font-weight="normal" stroke="#222" stroke-width="0.08" textLength="6.73" lengthAdjust="spacingAndGlyphs">50</text>
<line x1="65.60" y1="499.5" x2="65.60" y2="502.5" stroke="#333" stroke-width="0.9"/>
<text x="65.60" y="511.30" font-size="6.6" text-anchor="middle" fill="#222" font-weight="normal" stroke="#222" stroke-width="0.08" textLength="10.26" lengthAdjust="spacingAndGlyphs">−10</text>
<line x1="99.40" y1="499.5" x2="99.40" y2="502.5" stroke="#333" stroke-width="0.9"/>
<text x="99.40" y="511.30" font-size="6.6" text-anchor="middle" fill="#222" font-weight="normal" stroke="#222" stroke-width="0.08" textLength="6.90" lengthAdjust="spacingAndGlyphs">−5</text>
<line x1="133.20" y1="499.5" x2="133.20" y2="502.5" stroke="#333" stroke-width="0.9"/>
<text x="133.20" y="511.30" font-size="6.6" text-anchor="middle" fill="#222" font-weight="normal" stroke="#222" stroke-width="0.08" textLength="3.36" lengthAdjust="spacingAndGlyphs">0</text>
<line x1="167.00" y1="499.5" x2="167.00" y2="502.5" stroke="#333" stroke-width="0.9"/>
<text x="167.00" y="511.30" font-size="6.6" text-anchor="middle" fill="#222" font-weight="normal" stroke="#222" stroke-width="0.08" textLength="3.36" lengthAdjust="spacingAndGlyphs">5</text>
<line x1="200.80" y1="499.5" x2="200.80" y2="502.5" stroke="#333" stroke-width="0.9"/>
<text x="200.80" y="511.30" font-size="6.6" text-anchor="middle" fill="#222" font-weight="normal" stroke="#222" stroke-width="0.08" textLength="6.73" lengthAdjust="spacingAndGlyphs">10</text>
<text x="60.50" y="410.90" font-size="6.6" text-anchor="start" fill="#222" font-weight="normal" stroke="#222" stroke-width="0.08" textLength="67.05" lengthAdjust="spacingAndGlyphs">10 genes down regulated</text>
<text x="140.96" y="410.90" font-size="6.6" text-anchor="start" fill="#222" font-weight="normal" stroke="#222" stroke-width="0.08" textLength="62.74" lengthAdjust="spacingAndGlyphs">194 genes up regulated</text>
<text x="112.2" y="522.10" font-size="7.2" fill="#222" font-weight="bold" textLength="41.3" lengthAdjust="spacingAndGlyphs">Log<tspan font-size="4.6" dy="1.6">2</tspan><tspan dy="-1.6"> fold change</tspan></text>
<text x="160.70" y="522.60" font-size="6.5" text-anchor="start" fill="#222" font-weight="normal" stroke="#222" stroke-width="0.08" textLength="59.6" lengthAdjust="spacingAndGlyphs">Total variables : 19026</text>
<text transform="translate(28.70,450.85) rotate(-90)" font-size="8.3" text-anchor="middle" fill="#222" stroke="#222" stroke-width="0.1" textLength="21.2" lengthAdjust="spacingAndGlyphs">LUNG</text>
<text transform="translate(40.20,450.25) rotate(-90) scale(0.86,1)" font-size="7.2" text-anchor="middle" fill="#222" stroke="#222" stroke-width="0.3">-Log<tspan font-size="5" dy="1.6">10</tspan><tspan dy="-1.6" font-style="italic"> P</tspan></text>
<text x="6.50" y="410.50" font-size="11" text-anchor="start" fill="#000" font-weight="bold" stroke="#000" stroke-width="0.08" >D</text>
<line x1="65.60" y1="533.3" x2="65.60" y2="630.5" stroke="#e4e4e4" stroke-width="0.6"/><line x1="82.50" y1="533.3" x2="82.50" y2="630.5" stroke="#f2f2f2" stroke-width="0.6"/><line x1="99.40" y1="533.3" x2="99.40" y2="630.5" stroke="#e4e4e4" stroke-width="0.6"/><line x1="116.30" y1="533.3" x2="116.30" y2="630.5" stroke="#f2f2f2" stroke-width="0.6"/><line x1="133.20" y1="533.3" x2="133.20" y2="630.5" stroke="#e4e4e4" stroke-width="0.6"/><line x1="150.10" y1="533.3" x2="150.10" y2="630.5" stroke="#f2f2f2" stroke-width="0.6"/><line x1="167.00" y1="533.3" x2="167.00" y2="630.5" stroke="#e4e4e4" stroke-width="0.6"/><line x1="183.90" y1="533.3" x2="183.90" y2="630.5" stroke="#f2f2f2" stroke-width="0.6"/><line x1="200.80" y1="533.3" x2="200.80" y2="630.5" stroke="#e4e4e4" stroke-width="0.6"/><line x1="59.0" y1="626.75" x2="207.0" y2="626.75" stroke="#e4e4e4" stroke-width="0.6"/><line x1="59.0" y1="617.15" x2="207.0" y2="617.15" stroke="#f2f2f2" stroke-width="0.6"/><line x1="59.0" y1="607.55" x2="207.0" y2="607.55" stroke="#e4e4e4" stroke-width="0.6"/><line x1="59.0" y1="597.95" x2="207.0" y2="597.95" stroke="#f2f2f2" stroke-width="0.6"/><line x1="59.0" y1="588.35" x2="207.0" y2="588.35" stroke="#e4e4e4" stroke-width="0.6"/><line x1="59.0" y1="578.75" x2="207.0" y2="578.75" stroke="#f2f2f2" stroke-width="0.6"/><line x1="59.0" y1="569.15" x2="207.0" y2="569.15" stroke="#e4e4e4" stroke-width="0.6"/><line x1="59.0" y1="559.55" x2="207.0" y2="559.55" stroke="#f2f2f2" stroke-width="0.6"/><line x1="59.0" y1="549.95" x2="207.0" y2="549.95" stroke="#e4e4e4" stroke-width="0.6"/>
<g transform="scale(0.5)" fill="none" stroke-linecap="round">
<path d="M276 1251h0M276 1252h0M275 1252h0M260 1250h0M255 1249h0M278 1253h0M269 1251h0M253 1249h0M277 1251h0M280 1253h0M261 1250h0M275 1251h0M265 1252h0M275 1250h0M264 1250h0M267 1249h0M256 1249h0M266 1251h0M274 1253h0M279 1250h0M267 1250h0M273 1251h0M280 1250h0M254 1251h0M269 1250h0M279 1251h0M259 1250h0M268 1251h0M272 1251h0M268 1253h0M268 1250h0M254 1252h0M262 1250h0M279 1252h0M271 1249h0M265 1251h0M273 1252h0M266 1249h0M256 1252h0M269 1252h0M273 1249h0M273 1250h0M268 1249h0M278 1250h0M278 1251h0M263 1252h0M260 1253h0M267 1251h0M271 1253h0M257 1249h0M265 1250h0M253 1250h0M254 1250h0M278 1249h0M277 1249h0M258 1249h0M274 1251h0M257 1250h0M262 1252h0M261 1249h0M275 1249h0M255 1251h0M262 1251h0M263 1251h0M274 1250h0M271 1251h0M276 1249h0M263 1249h0M258 1252h0M274 1249h0M264 1252h0M270 1251h0M267 1252h0M272 1249h0M261 1253h0M263 1250h0M266 1252h0M277 1250h0M265 1253h0M258 1251h0M260 1249h0M270 1252h0M265 1249h0M264 1249h0M279 1249h0M260 1252h0M255 1253h0M274 1252h0M261 1252h0M266 1250h0M256 1251h0M270 1249h0M271 1252h0M253 1251h0M256 1250h0M276 1250h0M258 1250h0M270 1250h0M263 1253h0M257 1252h0M264 1253h0M277 1252h0M261 1251h0M273 1253h0M280 1249h0M259 1252h0M255 1250h0M259 1251h0M262 1253h0M268 1252h0M253 1252h0M278 1252h0M264 1251h0M271 1250h0M257 1251h0M259 1249h0M275 1253h0M280 1251h0M260 1251h0M272 1252h0M254 1249h0M279 1253h0M280 1252h0M255 1252h0M272 1250h0M276 1253h0M262 1249h0M270 1253h0M258 1253h0M269 1249h0M253 1253h0M269 1253h0M267 1253h0M272 1253h0M257 1253h0M277 1253h0M256 1253h0M254 1253h0M259 1253h0M266 1253h0" stroke="#303030" stroke-opacity="0.88" stroke-width="3.2"/>
<path d="M242 1249h0M253 1251h0M250 1252h0M253 1249h0M249 1250h0M243 1253h0M253 1252h0M252 1250h0M247 1250h0M248 1249h0M251 1249h0M250 1249h0M228 1250h0M252 1253h0M247 1251h0M235 1251h0M245 1249h0M232 1250h0M252 1249h0M248 1251h0M252 1252h0M250 1250h0M249 1249h0M245 1252h0M246 1250h0M249 1251h0M242 1250h0M247 1252h0M247 1249h0M244 1252h0M230 1251h0M248 1250h0M229 1253h0M251 1251h0M246 1249h0M236 1251h0M246 1252h0M245 1250h0M243 1249h0M243 1250h0M231 1249h0M251 1250h0M240 1252h0M236 1249h0M253 1250h0M244 1249h0M235 1249h0M251 1252h0M229 1249h0M233 1252h0M249 1252h0M247 1253h0M244 1250h0M243 1251h0M226 1249h0M246 1251h0M237 1251h0M248 1253h0M250 1253h0M242 1253h0M241 1249h0M252 1251h0M248 1252h0M250 1251h0M236 1252h0M231 1250h0M232 1249h0M237 1252h0M232 1253h0M249 1253h0M237 1249h0M229 1252h0M242 1251h0M245 1251h0M238 1250h0M227 1250h0M251 1253h0M246 1253h0M233 1250h0M242 1252h0M244 1253h0M240 1249h0M237 1250h0M233 1249h0M227 1252h0M230 1252h0M216 1251h0M241 1251h0M234 1251h0M243 1252h0M228 1249h0M244 1251h0M223 1250h0M239 1250h0M235 1253h0M235 1250h0M240 1251h0M234 1249h0M231 1252h0M238 1251h0M221 1250h0M234 1250h0M241 1253h0M253 1253h0M235 1252h0M230 1250h0M245 1253h0M232 1252h0M227 1249h0M222 1249h0M233 1251h0M241 1252h0M238 1249h0M220 1251h0M280 1250h0M284 1249h0M289 1251h0M297 1250h0M284 1252h0M287 1253h0M286 1251h0M281 1252h0M283 1250h0M288 1249h0M288 1251h0M286 1250h0M281 1249h0M285 1253h0M282 1253h0M282 1249h0M285 1249h0M283 1252h0M286 1249h0M296 1249h0M291 1251h0M281 1250h0M280 1249h0M283 1251h0M300 1249h0M292 1252h0M284 1251h0M307 1251h0M285 1250h0M293 1249h0M304 1251h0M287 1249h0M285 1252h0M287 1251h0M282 1250h0M281 1251h0M293 1251h0M296 1251h0M289 1252h0M293 1250h0M295 1253h0M289 1249h0M292 1251h0M285 1251h0M280 1252h0M280 1251h0M283 1253h0M305 1249h0M303 1250h0M311 1251h0M298 1249h0M288 1250h0M282 1252h0M282 1251h0M294 1249h0M290 1249h0M283 1249h0M287 1250h0M284 1250h0M300 1253h0M297 1251h0M291 1252h0M302 1252h0M290 1252h0M286 1252h0M299 1250h0M302 1249h0M288 1252h0M296 1250h0M304 1250h0M290 1250h0M294 1253h0M289 1250h0M307 1249h0M281 1253h0M302 1251h0M301 1251h0M287 1252h0M300 1250h0M291 1249h0M315 1249h0M294 1251h0M292 1249h0M291 1250h0M298 1251h0M299 1251h0M288 1253h0M284 1253h0M306 1251h0M295 1251h0M303 1249h0M294 1250h0M299 1249h0M280 1253h0M306 1250h0M308 1249h0M295 1249h0M308 1251h0M295 1250h0M315 1251h0M313 1250h0M296 1252h0M188 1252h0M187 1252h0M203 1252h0M172 1252h0M155 1253h0M137 1252h0M163 1249h0M157 1249h0M347 1249h0M341 1252h0M335 1250h0M331 1250h0M349 1252h0M342 1252h0M337 1252h0M347 1252h0" stroke="#1c9428" stroke-opacity="0.88" stroke-width="3.2"/>
<path d="M258 1245h0M262 1247h0M256 1239h0M258 1248h0M256 1241h0M260 1248h0M262 1248h0M260 1239h0M257 1241h0M255 1244h0M260 1245h0M259 1241h0M256 1238h0M254 1245h0M260 1246h0M255 1242h0M257 1235h0M260 1243h0M255 1224h0M257 1244h0M255 1243h0M260 1241h0M255 1240h0M253 1214h0M254 1236h0M257 1234h0M258 1242h0M261 1246h0M255 1245h0M259 1244h0M260 1247h0M256 1231h0M255 1238h0M257 1248h0M261 1248h0M255 1226h0M253 1220h0M256 1229h0M258 1241h0M255 1233h0M259 1246h0M261 1243h0M259 1242h0M257 1247h0M258 1238h0M254 1226h0M261 1244h0M255 1229h0M257 1246h0M258 1247h0M259 1247h0M257 1236h0M260 1238h0M257 1239h0M261 1247h0M258 1240h0M256 1233h0M255 1228h0M254 1224h0M256 1243h0M262 1245h0M256 1245h0M260 1240h0M253 1219h0M257 1238h0M258 1246h0M254 1235h0M258 1243h0M262 1246h0M255 1237h0M254 1237h0M254 1231h0M256 1240h0M254 1242h0M259 1245h0M254 1248h0M256 1232h0M254 1230h0M261 1242h0M258 1233h0M258 1234h0M255 1231h0M256 1230h0M260 1244h0M256 1242h0M259 1243h0M259 1237h0M257 1245h0M254 1246h0M255 1248h0M260 1242h0M254 1244h0M259 1240h0M259 1248h0M262 1244h0M259 1239h0M257 1237h0M257 1233h0M255 1227h0M254 1241h0M259 1238h0M255 1236h0M258 1236h0M253 1232h0M253 1248h0M254 1223h0M254 1229h0M256 1227h0M261 1241h0M253 1227h0M254 1222h0M253 1243h0M253 1233h0M253 1240h0M256 1247h0M255 1246h0M253 1236h0M255 1232h0M257 1240h0M253 1244h0M261 1245h0M258 1239h0M253 1247h0M254 1228h0M253 1234h0M257 1232h0M254 1220h0M256 1225h0M255 1241h0M258 1237h0M256 1248h0M254 1247h0M256 1246h0M256 1235h0M256 1236h0M253 1237h0M255 1247h0M256 1228h0M253 1216h0M254 1225h0M256 1244h0M255 1230h0M254 1239h0M254 1240h0M257 1231h0M253 1245h0M257 1243h0M257 1229h0M253 1224h0M278 1244h0M278 1233h0M277 1248h0M276 1237h0M271 1247h0M280 1229h0M278 1248h0M273 1247h0M280 1241h0M276 1246h0M272 1244h0M275 1245h0M275 1246h0M273 1248h0M278 1243h0M271 1246h0M277 1243h0M280 1231h0M276 1243h0M277 1242h0M276 1248h0M280 1235h0M277 1245h0M272 1248h0M276 1245h0M277 1247h0M274 1241h0M279 1234h0M271 1248h0M279 1245h0M272 1245h0M274 1247h0M276 1244h0M277 1240h0M278 1245h0M279 1247h0M278 1236h0M272 1247h0M280 1246h0M273 1246h0M279 1242h0M277 1246h0M276 1242h0M273 1243h0M276 1247h0M278 1238h0M277 1238h0M275 1244h0M279 1246h0M275 1243h0M274 1244h0M273 1244h0M277 1241h0M276 1239h0M275 1239h0M275 1240h0M278 1242h0M280 1240h0M277 1239h0M279 1243h0M277 1236h0M279 1248h0M278 1237h0M275 1248h0M280 1248h0M277 1244h0M272 1246h0M274 1246h0M277 1234h0M275 1247h0M278 1239h0M278 1241h0M280 1244h0M280 1230h0M279 1237h0M273 1245h0M280 1242h0M279 1232h0M271 1245h0M280 1237h0M279 1231h0M274 1242h0M270 1248h0M276 1240h0M279 1238h0M279 1241h0M276 1238h0M275 1241h0M277 1237h0M279 1236h0M279 1233h0M278 1246h0M276 1241h0M280 1245h0M274 1245h0M278 1247h0M278 1240h0M273 1242h0" stroke="#2240a8" stroke-opacity="0.88" stroke-width="3.2"/>
<path d="M258 1245h0M260 1248h0M260 1245h0M255 1242h0M255 1243h0M257 1234h0M260 1247h0M255 1226h0M259 1246h0M254 1226h0M259 1247h0M258 1240h0M262 1245h0M258 1246h0M254 1237h0M254 1248h0M258 1234h0M259 1243h0M260 1242h0M259 1239h0M259 1238h0M254 1223h0M254 1222h0M255 1246h0M261 1245h0M257 1232h0M256 1248h0M253 1237h0M256 1244h0M253 1245h0M278 1233h0M278 1248h0M275 1245h0M277 1243h0M280 1235h0M274 1241h0M274 1247h0M278 1236h0M277 1246h0M277 1238h0M273 1244h0M278 1242h0M279 1248h0M272 1246h0M278 1241h0M280 1242h0M274 1242h0M276 1238h0M278 1246h0M278 1240h0" stroke="#141c66" stroke-opacity="0.55" stroke-width="2.2"/>
<path d="M245 1233h0M250 1243h0M235 1233h0M249 1248h0M249 1240h0M243 1239h0M241 1241h0M248 1215h0M246 1237h0M239 1246h0M241 1235h0M246 1240h0M243 1230h0M250 1209h0M252 1231h0M247 1226h0M251 1236h0M246 1235h0M251 1227h0M251 1247h0M247 1234h0M241 1239h0M250 1237h0M238 1243h0M250 1230h0M244 1241h0M250 1245h0M246 1230h0M244 1232h0M252 1209h0M248 1231h0M247 1231h0M240 1224h0M245 1243h0M249 1209h0M252 1215h0M251 1234h0M248 1221h0M251 1237h0M249 1246h0M246 1219h0M241 1244h0M248 1245h0M245 1234h0M244 1243h0M243 1243h0M252 1223h0M249 1242h0M247 1225h0M240 1237h0M248 1243h0M249 1227h0M240 1243h0M241 1226h0M246 1234h0M252 1243h0M244 1247h0M247 1245h0M250 1233h0M250 1214h0M249 1238h0M246 1241h0M238 1233h0M243 1246h0M250 1227h0M249 1225h0M248 1233h0M246 1238h0M252 1214h0M250 1239h0M248 1220h0M245 1239h0M248 1237h0M251 1246h0M251 1245h0M247 1219h0M247 1230h0M250 1221h0M247 1244h0M251 1241h0M252 1230h0M249 1235h0M251 1216h0M242 1230h0M244 1209h0M249 1222h0M252 1247h0M252 1227h0M244 1238h0M248 1222h0M246 1227h0M249 1213h0M251 1225h0M247 1235h0M252 1240h0M249 1244h0M248 1242h0M248 1216h0M251 1238h0M246 1246h0M251 1226h0M248 1236h0M244 1216h0M243 1240h0M252 1226h0M242 1225h0M250 1220h0M249 1247h0M243 1234h0M250 1246h0M242 1240h0M250 1242h0M249 1236h0M244 1235h0M248 1241h0M243 1218h0M250 1223h0M242 1221h0M252 1238h0M252 1239h0M248 1225h0M245 1227h0M248 1239h0M240 1245h0M245 1240h0M250 1232h0M239 1242h0M246 1228h0M242 1248h0M250 1238h0M247 1236h0M245 1210h0M247 1233h0M250 1244h0M251 1235h0M249 1231h0M246 1209h0M242 1237h0M248 1232h0M244 1226h0M249 1232h0M251 1243h0M252 1245h0M243 1236h0M245 1237h0M248 1238h0M241 1222h0M244 1219h0M247 1242h0M241 1242h0M248 1218h0M250 1210h0M244 1213h0M246 1216h0M250 1229h0M249 1245h0M249 1228h0M243 1226h0M248 1244h0M252 1242h0M246 1212h0M252 1233h0M240 1240h0M242 1234h0M252 1241h0M251 1233h0M246 1239h0M247 1243h0M246 1242h0M243 1245h0M244 1225h0M242 1246h0M251 1209h0M245 1228h0M242 1232h0M247 1238h0M243 1237h0M243 1241h0M252 1237h0M247 1241h0M250 1247h0M252 1244h0M247 1237h0M245 1238h0M246 1220h0M249 1233h0M251 1244h0M250 1241h0M251 1242h0M249 1234h0M241 1246h0M241 1245h0M249 1241h0M251 1240h0M245 1247h0M245 1236h0M247 1215h0M248 1228h0M238 1247h0M247 1221h0M248 1240h0M248 1234h0M246 1232h0M244 1236h0M242 1241h0M236 1238h0M251 1232h0M244 1248h0M252 1218h0M252 1228h0M245 1231h0M244 1246h0M244 1240h0M246 1233h0M247 1209h0M247 1239h0M288 1248h0M285 1245h0M284 1221h0M281 1248h0M285 1243h0M281 1241h0M281 1236h0M285 1236h0M282 1247h0M283 1247h0M285 1234h0M281 1242h0M286 1243h0M288 1242h0M285 1246h0M283 1243h0M284 1245h0M287 1238h0M282 1233h0M285 1248h0M281 1246h0M285 1226h0M291 1247h0M289 1245h0M289 1244h0M281 1245h0M282 1248h0M289 1236h0M281 1240h0M287 1248h0M283 1234h0M286 1248h0M285 1232h0M287 1233h0M286 1240h0M283 1228h0M281 1237h0M287 1239h0M285 1242h0M284 1247h0M287 1247h0M286 1228h0M287 1245h0M283 1241h0M281 1238h0M282 1240h0M292 1247h0M283 1239h0M283 1245h0M288 1234h0M281 1244h0M286 1246h0M290 1242h0M289 1241h0M281 1247h0M282 1242h0M253 1100h0M253 1136h0M252 1206h0" stroke="#cc1414" stroke-opacity="0.88" stroke-width="3.2"/>
<path d="M245 1233h0M243 1239h0M241 1235h0M247 1226h0M247 1234h0M244 1241h0M248 1231h0M252 1215h0M246 1219h0M243 1243h0M248 1243h0M252 1243h0M249 1238h0M249 1225h0M248 1220h0M247 1219h0M252 1230h0M249 1222h0M246 1227h0M249 1244h0M251 1226h0M242 1225h0M242 1240h0M243 1218h0M248 1225h0M250 1232h0M247 1236h0M249 1231h0M249 1232h0M248 1238h0M248 1218h0M249 1245h0M246 1212h0M251 1233h0M244 1225h0M247 1238h0M250 1247h0M249 1233h0M241 1246h0M245 1236h0M248 1240h0M236 1238h0M245 1231h0M247 1239h0M285 1243h0M283 1247h0M285 1246h0M285 1248h0M289 1244h0M287 1248h0M286 1240h0M284 1247h0M281 1238h0M288 1234h0M281 1247h0" stroke="#8a0c0c" stroke-opacity="0.55" stroke-width="2.2"/>
</g>
<line x1="126.44" y1="533.3" x2="126.44" y2="630.5" stroke="#555" stroke-width="0.65" stroke-dasharray="1.8,1.4"/>
<line x1="139.96" y1="533.3" x2="139.96" y2="630.5" stroke="#555" stroke-width="0.65" stroke-dasharray="1.8,1.4"/>
<line x1="59.0" y1="624.25" x2="207.0" y2="624.25" stroke="#555" stroke-width="0.65" stroke-dasharray="1.8,1.4"/>
<text x="113.60" y="550.15" font-size="5.4" text-anchor="middle" fill="#111" font-weight="normal" stroke="#111" stroke-width="0.06" textLength="16.12" lengthAdjust="spacingAndGlyphs">Hbb-bs</text>
<text x="114.60" y="568.85" font-size="5.4" text-anchor="middle" fill="#111" font-weight="normal" stroke="#111" stroke-width="0.06" textLength="15.01" lengthAdjust="spacingAndGlyphs">Hbb-bt</text>
<text x="117.50" y="601.95" font-size="5.4" text-anchor="middle" fill="#111" font-weight="normal" stroke="#111" stroke-width="0.06" textLength="10.56" lengthAdjust="spacingAndGlyphs">Ear6</text>
<text x="123.00" y="607.35" font-size="5.4" text-anchor="middle" fill="#111" font-weight="normal" stroke="#111" stroke-width="0.06" textLength="15.56" lengthAdjust="spacingAndGlyphs">Prss34</text>
<text x="144.20" y="611.15" font-size="5.4" text-anchor="middle" fill="#111" font-weight="normal" stroke="#111" stroke-width="0.06" textLength="11.40" lengthAdjust="spacingAndGlyphs">Scn1</text>
<text x="141.10" y="616.25" font-size="5.4" text-anchor="middle" fill="#111" font-weight="normal" stroke="#111" stroke-width="0.06" textLength="14.73" lengthAdjust="spacingAndGlyphs">Wdr17</text>
<text x="113.00" y="615.75" font-size="5.4" text-anchor="middle" fill="#111" font-weight="normal" stroke="#111" stroke-width="0.06" textLength="12.51" lengthAdjust="spacingAndGlyphs">Alox5</text>
<text x="102.50" y="621.15" font-size="5.4" text-anchor="middle" fill="#111" font-weight="normal" stroke="#111" stroke-width="0.06" textLength="17.52" lengthAdjust="spacingAndGlyphs">Cd209g</text>
<text x="172.00" y="621.15" font-size="5.4" text-anchor="middle" fill="#111" font-weight="normal" stroke="#111" stroke-width="0.06" textLength="14.45" lengthAdjust="spacingAndGlyphs">H3c14</text>
<line x1="59.0" y1="533.3" x2="59.0" y2="631.1" stroke="#333" stroke-width="1.2"/>
<line x1="58.4" y1="630.5" x2="207.0" y2="630.5" stroke="#333" stroke-width="1.2"/>
<line x1="56.0" y1="626.75" x2="59.0" y2="626.75" stroke="#333" stroke-width="0.9"/>
<text x="53.40" y="629.10" font-size="6.6" text-anchor="end" fill="#222" font-weight="normal" stroke="#222" stroke-width="0.08" textLength="3.36" lengthAdjust="spacingAndGlyphs">0</text>
<line x1="56.0" y1="607.55" x2="59.0" y2="607.55" stroke="#333" stroke-width="0.9"/>
<text x="53.40" y="609.90" font-size="6.6" text-anchor="end" fill="#222" font-weight="normal" stroke="#222" stroke-width="0.08" textLength="6.73" lengthAdjust="spacingAndGlyphs">10</text>
<line x1="56.0" y1="588.35" x2="59.0" y2="588.35" stroke="#333" stroke-width="0.9"/>
<text x="53.40" y="590.70" font-size="6.6" text-anchor="end" fill="#222" font-weight="normal" stroke="#222" stroke-width="0.08" textLength="6.73" lengthAdjust="spacingAndGlyphs">20</text>
<line x1="56.0" y1="569.15" x2="59.0" y2="569.15" stroke="#333" stroke-width="0.9"/>
<text x="53.40" y="571.50" font-size="6.6" text-anchor="end" fill="#222" font-weight="normal" stroke="#222" stroke-width="0.08" textLength="6.73" lengthAdjust="spacingAndGlyphs">30</text>
<line x1="56.0" y1="549.95" x2="59.0" y2="549.95" stroke="#333" stroke-width="0.9"/>
<text x="53.40" y="552.30" font-size="6.6" text-anchor="end" fill="#222" font-weight="normal" stroke="#222" stroke-width="0.08" textLength="6.73" lengthAdjust="spacingAndGlyphs">40</text>
<line x1="65.60" y1="630.5" x2="65.60" y2="633.5" stroke="#333" stroke-width="0.9"/>
<text x="65.60" y="642.30" font-size="6.6" text-anchor="middle" fill="#222" font-weight="normal" stroke="#222" stroke-width="0.08" textLength="10.26" lengthAdjust="spacingAndGlyphs">−10</text>
<line x1="99.40" y1="630.5" x2="99.40" y2="633.5" stroke="#333" stroke-width="0.9"/>
<text x="99.40" y="642.30" font-size="6.6" text-anchor="middle" fill="#222" font-weight="normal" stroke="#222" stroke-width="0.08" textLength="6.90" lengthAdjust="spacingAndGlyphs">−5</text>
<line x1="133.20" y1="630.5" x2="133.20" y2="633.5" stroke="#333" stroke-width="0.9"/>
<text x="133.20" y="642.30" font-size="6.6" text-anchor="middle" fill="#222" font-weight="normal" stroke="#222" stroke-width="0.08" textLength="3.36" lengthAdjust="spacingAndGlyphs">0</text>
<line x1="167.00" y1="630.5" x2="167.00" y2="633.5" stroke="#333" stroke-width="0.9"/>
<text x="167.00" y="642.30" font-size="6.6" text-anchor="middle" fill="#222" font-weight="normal" stroke="#222" stroke-width="0.08" textLength="3.36" lengthAdjust="spacingAndGlyphs">5</text>
<line x1="200.80" y1="630.5" x2="200.80" y2="633.5" stroke="#333" stroke-width="0.9"/>
<text x="200.80" y="642.30" font-size="6.6" text-anchor="middle" fill="#222" font-weight="normal" stroke="#222" stroke-width="0.08" textLength="6.73" lengthAdjust="spacingAndGlyphs">10</text>
<text x="60.50" y="541.50" font-size="6.6" text-anchor="start" fill="#222" font-weight="normal" stroke="#222" stroke-width="0.08" textLength="70.37" lengthAdjust="spacingAndGlyphs">179 genes down regulated</text>
<text x="140.96" y="541.50" font-size="6.6" text-anchor="start" fill="#222" font-weight="normal" stroke="#222" stroke-width="0.08" textLength="59.42" lengthAdjust="spacingAndGlyphs">62 genes up regulated</text>
<text x="112.2" y="653.10" font-size="7.2" fill="#222" font-weight="bold" textLength="41.3" lengthAdjust="spacingAndGlyphs">Log<tspan font-size="4.6" dy="1.6">2</tspan><tspan dy="-1.6"> fold change</tspan></text>
<text x="160.70" y="653.60" font-size="6.5" text-anchor="start" fill="#222" font-weight="normal" stroke="#222" stroke-width="0.08" textLength="59.6" lengthAdjust="spacingAndGlyphs">Total variables : 15814</text>
<text transform="translate(29.20,581.90) rotate(-90)" font-size="8.3" text-anchor="middle" fill="#222" stroke="#222" stroke-width="0.1" textLength="64.6" lengthAdjust="spacingAndGlyphs">BONE MARROW</text>
<text transform="translate(40.30,581.30) rotate(-90) scale(0.86,1)" font-size="7.2" text-anchor="middle" fill="#222" stroke="#222" stroke-width="0.3">-Log<tspan font-size="5" dy="1.6">10</tspan><tspan dy="-1.6" font-style="italic"> P</tspan></text>
<text x="6.50" y="543.00" font-size="11" text-anchor="start" fill="#000" font-weight="bold" stroke="#000" stroke-width="0.08" >E</text>
<circle cx="214.9" cy="9.9" r="2.0" fill="#8e8e8e"/>
<circle cx="214.9" cy="19.3" r="2.0" fill="#8fb48f"/>
<circle cx="214.9" cy="28.8" r="2.0" fill="#959cd0"/>
<circle cx="214.9" cy="38.5" r="2.0" fill="#e09494"/>
<text x="219.8" y="11.9" transform="translate(219.8,0) scale(0.9,1) translate(-219.8,0)" font-size="6.5" fill="#222" stroke="#222" stroke-width="0.06">NS</text>
<text x="219.8" y="21.3" transform="translate(219.8,0) scale(0.9,1) translate(-219.8,0)" font-size="6.5" fill="#222" stroke="#222" stroke-width="0.06">LOg<tspan font-size="4.4" dy="1.4">2</tspan><tspan dy="-1.4"> FC</tspan></text>
<text x="219.8" y="30.8" transform="translate(219.8,0) scale(0.9,1) translate(-219.8,0)" font-size="6.5" fill="#222" stroke="#222" stroke-width="0.06"><tspan font-style="italic">P</tspan>-value</text>
<text x="219.8" y="40.6" transform="translate(219.8,0) scale(0.9,1) translate(-219.8,0)" font-size="6.5" fill="#222" stroke="#222" stroke-width="0.06"><tspan font-style="italic">P</tspan> – value</text>
<text x="219.8" y="48.2" transform="translate(219.8,0) scale(0.9,1) translate(-219.8,0)" font-size="6.5" fill="#222" stroke="#222" stroke-width="0.06">and log<tspan font-size="4.4" dy="1.4">2</tspan><tspan dy="-1.4"> FC</tspan></text>
<rect x="384.50" y="91.70" width="22.30" height="7.92" fill="#f4a0a0"/><rect x="406.50" y="91.70" width="22.30" height="7.92" fill="#f6aaaa"/><rect x="450.50" y="91.70" width="22.30" height="7.92" fill="#e62828"/><rect x="472.50" y="91.70" width="22.30" height="7.92" fill="#e82a2a"/><rect x="428.50" y="99.31" width="22.30" height="7.92" fill="#ee6b6b"/><rect x="450.50" y="99.31" width="22.30" height="7.92" fill="#fbd2d2"/><rect x="472.50" y="99.31" width="22.30" height="7.92" fill="#ea6262"/><rect x="384.50" y="106.93" width="22.30" height="7.92" fill="#2f2f9a"/><rect x="406.50" y="106.93" width="22.30" height="7.92" fill="#f5b8b8"/><rect x="450.50" y="106.93" width="22.30" height="7.92" fill="#8a8ed0"/><rect x="472.50" y="106.93" width="22.30" height="7.92" fill="#ee7070"/><rect x="384.50" y="114.55" width="22.30" height="7.92" fill="#2f2f9a"/><rect x="384.50" y="122.16" width="22.30" height="7.92" fill="#5a5ab0"/><rect x="472.50" y="122.16" width="22.30" height="7.92" fill="#fbe2e2"/><rect x="406.50" y="129.78" width="22.30" height="7.92" fill="#4848a8"/><rect x="450.50" y="129.78" width="22.30" height="7.92" fill="#2b2b95"/><rect x="384.50" y="137.39" width="22.30" height="7.92" fill="#3a3aa0"/><rect x="406.50" y="137.39" width="22.30" height="7.92" fill="#7a80c8"/><rect x="472.50" y="137.39" width="22.30" height="7.92" fill="#f6c0c0"/><rect x="384.50" y="145.00" width="22.30" height="7.92" fill="#4040a5"/><rect x="406.50" y="145.00" width="22.30" height="7.92" fill="#4a4aaa"/><rect x="472.50" y="145.00" width="22.30" height="7.92" fill="#f6c0c0"/><rect x="384.50" y="152.62" width="22.30" height="7.92" fill="#f2a0a0"/><rect x="406.50" y="152.62" width="22.30" height="7.92" fill="#b0b4e0"/><rect x="406.50" y="160.24" width="22.30" height="7.92" fill="#a8aee0"/><rect x="428.50" y="160.24" width="22.30" height="7.92" fill="#f8cccc"/><rect x="472.50" y="160.24" width="22.30" height="7.92" fill="#ec7070"/><rect x="428.50" y="167.85" width="22.30" height="7.92" fill="#f8cccc"/><rect x="472.50" y="175.47" width="22.30" height="7.92" fill="#7078c0"/><rect x="472.50" y="183.08" width="22.30" height="7.92" fill="#8890d0"/><rect x="384.50" y="190.69" width="22.30" height="7.92" fill="#e85050"/><rect x="428.50" y="190.69" width="22.30" height="7.92" fill="#e86060"/><rect x="472.50" y="190.69" width="22.30" height="7.92" fill="#8890d0"/><rect x="384.50" y="198.31" width="22.30" height="7.92" fill="#e84848"/><rect x="406.50" y="198.31" width="22.30" height="7.92" fill="#f5b8b8"/><rect x="428.50" y="198.31" width="22.30" height="7.92" fill="#e83a3a"/><rect x="384.50" y="205.93" width="22.30" height="7.92" fill="#e84848"/><rect x="406.50" y="205.93" width="22.30" height="7.92" fill="#ec6868"/><rect x="428.50" y="205.93" width="22.30" height="7.92" fill="#e83030"/><rect x="472.50" y="205.93" width="22.30" height="7.92" fill="#9098d4"/><rect x="384.50" y="213.54" width="22.30" height="7.92" fill="#ea5555"/><rect x="428.50" y="213.54" width="22.30" height="7.92" fill="#ea5a5a"/><rect x="384.50" y="221.16" width="22.30" height="7.92" fill="#e84444"/><rect x="406.50" y="221.16" width="22.30" height="7.92" fill="#f4b0b0"/><rect x="428.50" y="221.16" width="22.30" height="7.92" fill="#e84040"/><rect x="450.50" y="221.16" width="22.30" height="7.92" fill="#f8d0d0"/><rect x="384.50" y="228.77" width="22.30" height="7.92" fill="#e84444"/><rect x="406.50" y="228.77" width="22.30" height="7.92" fill="#fadada"/><rect x="428.50" y="228.77" width="22.30" height="7.92" fill="#e52828"/><rect x="450.50" y="228.77" width="22.30" height="7.92" fill="#ec6060"/><rect x="472.50" y="228.77" width="22.30" height="7.92" fill="#3a45a8"/><rect x="384.50" y="236.38" width="22.30" height="7.92" fill="#f5b0b0"/><rect x="406.50" y="236.38" width="22.30" height="7.92" fill="#ec6a6a"/><rect x="428.50" y="236.38" width="22.30" height="7.92" fill="#e53030"/><rect x="472.50" y="236.38" width="22.30" height="7.92" fill="#fdf6f6"/><rect x="384.50" y="244.00" width="22.30" height="7.92" fill="#ec6060"/><rect x="406.50" y="244.00" width="22.30" height="7.92" fill="#ec6a6a"/><rect x="428.50" y="244.00" width="22.30" height="7.92" fill="#e53030"/><rect x="450.50" y="244.00" width="22.30" height="7.92" fill="#f5b5b5"/><rect x="384.50" y="251.62" width="22.30" height="7.92" fill="#ee7070"/><rect x="428.50" y="251.62" width="22.30" height="7.92" fill="#ec6a6a"/><rect x="450.50" y="251.62" width="22.30" height="7.92" fill="#f8c8c8"/><rect x="384.50" y="259.23" width="22.30" height="7.92" fill="#fbdede"/><rect x="428.50" y="259.23" width="22.30" height="7.92" fill="#ec6a6a"/><rect x="384.50" y="266.85" width="22.30" height="7.92" fill="#e84040"/><rect x="406.50" y="266.85" width="22.30" height="7.92" fill="#3040a8"/><rect x="428.50" y="266.85" width="22.30" height="7.92" fill="#ec6060"/><rect x="450.50" y="266.85" width="22.30" height="7.92" fill="#8a90d0"/><rect x="472.50" y="266.85" width="22.30" height="7.92" fill="#fbe8e8"/><rect x="406.50" y="274.46" width="22.30" height="7.92" fill="#fdf4f4"/><rect x="384.50" y="282.07" width="22.30" height="7.92" fill="#ec6a6a"/><rect x="428.50" y="282.07" width="22.30" height="7.92" fill="#e86060"/><rect x="384.50" y="289.69" width="22.30" height="7.92" fill="#e84040"/><rect x="450.50" y="289.69" width="22.30" height="7.92" fill="#f8d0d0"/><rect x="472.50" y="289.69" width="22.30" height="7.92" fill="#ec6a6a"/><rect x="384.50" y="297.31" width="22.30" height="7.92" fill="#ec6666"/><rect x="384.50" y="304.92" width="22.30" height="7.92" fill="#f8c8c8"/><rect x="428.50" y="304.92" width="22.30" height="7.92" fill="#ec6a6a"/><rect x="384.50" y="312.54" width="22.30" height="7.92" fill="#e63a3a"/><rect x="428.50" y="312.54" width="22.30" height="7.92" fill="#f8c8c8"/><rect x="472.50" y="312.54" width="22.30" height="7.92" fill="#e63a3a"/><rect x="472.50" y="320.15" width="22.30" height="7.92" fill="#fbe5e5"/><rect x="406.50" y="327.76" width="22.30" height="7.92" fill="#fdf0f0"/><rect x="428.50" y="327.76" width="22.30" height="7.92" fill="#ec6060"/><rect x="450.50" y="327.76" width="22.30" height="7.92" fill="#8088cc"/><rect x="472.50" y="327.76" width="22.30" height="7.92" fill="#e85050"/><rect x="428.50" y="335.38" width="22.30" height="7.92" fill="#fdf6f6"/><rect x="406.50" y="343.00" width="22.30" height="7.92" fill="#8088cc"/><rect x="472.50" y="343.00" width="22.30" height="7.92" fill="#f8c8c8"/><rect x="384.50" y="350.61" width="22.30" height="7.92" fill="#ec6060"/><rect x="406.50" y="350.61" width="22.30" height="7.92" fill="#7580c8"/><rect x="428.50" y="350.61" width="22.30" height="7.92" fill="#f5b0b0"/><rect x="384.50" y="358.23" width="22.30" height="7.92" fill="#f5b8b8"/><rect x="472.50" y="365.84" width="22.30" height="7.92" fill="#eef0f8"/><rect x="384.50" y="373.45" width="22.30" height="7.92" fill="#3a45a5"/><rect x="406.50" y="373.45" width="22.30" height="7.92" fill="#4a50aa"/><rect x="472.50" y="373.45" width="22.30" height="7.92" fill="#fcf0f0"/><rect x="384.50" y="381.07" width="22.30" height="7.92" fill="#f5b5b5"/><rect x="406.50" y="381.07" width="22.30" height="7.92" fill="#7a85c8"/><rect x="428.50" y="388.69" width="22.30" height="7.92" fill="#f5b5b5"/><rect x="472.50" y="388.69" width="22.30" height="7.92" fill="#fce5e5"/><rect x="384.50" y="396.30" width="22.30" height="7.92" fill="#e85050"/><rect x="406.50" y="396.30" width="22.30" height="7.92" fill="#fdf6f6"/><rect x="428.50" y="396.30" width="22.30" height="7.92" fill="#e85050"/><rect x="384.50" y="403.92" width="22.30" height="7.92" fill="#f5b0b0"/><rect x="406.50" y="403.92" width="22.30" height="7.92" fill="#7078c4"/><rect x="472.50" y="403.92" width="22.30" height="7.92" fill="#8890d0"/><rect x="384.50" y="411.53" width="22.30" height="7.92" fill="#f5b0b0"/><rect x="406.50" y="411.53" width="22.30" height="7.92" fill="#7078c4"/><rect x="406.50" y="419.14" width="22.30" height="7.92" fill="#9aa2d8"/><rect x="472.50" y="419.14" width="22.30" height="7.92" fill="#8890d0"/><rect x="384.50" y="426.76" width="22.30" height="7.92" fill="#e84848"/><rect x="428.50" y="426.76" width="22.30" height="7.92" fill="#f5b0b0"/><rect x="384.50" y="434.38" width="22.30" height="7.92" fill="#ec6060"/><rect x="406.50" y="434.38" width="22.30" height="7.92" fill="#5a68b8"/><rect x="450.50" y="434.38" width="22.30" height="7.92" fill="#6a78c0"/>
<rect x="384.5" y="91.7" width="110.0" height="350.29" fill="none" stroke="#111" stroke-width="0.9"/>
<line x1="381.5" y1="95.51" x2="384.5" y2="95.51" stroke="#1a1a1a" stroke-width="1.0"/>
<text x="378.60" y="97.96" font-size="6.3" text-anchor="end" fill="#333" font-weight="normal" stroke="#333" stroke-width="0.1" textLength="59.07" lengthAdjust="spacingAndGlyphs">HEME_METABOLISM</text>
<line x1="381.5" y1="103.12" x2="384.5" y2="103.12" stroke="#1a1a1a" stroke-width="1.0"/>
<text x="378.60" y="105.57" font-size="6.3" text-anchor="end" fill="#333" font-weight="normal" stroke="#333" stroke-width="0.1" textLength="118.82" lengthAdjust="spacingAndGlyphs">REACTIVE_OXYGEN_SPECIES_PATHWAY</text>
<line x1="381.5" y1="110.74" x2="384.5" y2="110.74" stroke="#1a1a1a" stroke-width="1.0"/>
<text x="378.60" y="113.19" font-size="6.3" text-anchor="end" fill="#333" font-weight="normal" stroke="#333" stroke-width="0.1" textLength="93.57" lengthAdjust="spacingAndGlyphs">OXIDATIVE_PHOSPHORYLATION</text>
<line x1="381.5" y1="118.35" x2="384.5" y2="118.35" stroke="#1a1a1a" stroke-width="1.0"/>
<text x="378.60" y="120.80" font-size="6.3" text-anchor="end" fill="#333" font-weight="normal" stroke="#333" stroke-width="0.1" textLength="72.31" lengthAdjust="spacingAndGlyphs">BILE_ACID_METABOLISM</text>
<line x1="381.5" y1="125.97" x2="384.5" y2="125.97" stroke="#1a1a1a" stroke-width="1.0"/>
<text x="378.60" y="128.42" font-size="6.3" text-anchor="end" fill="#333" font-weight="normal" stroke="#333" stroke-width="0.1" textLength="78.58" lengthAdjust="spacingAndGlyphs">XENOBIOTIC_METABOLISM</text>
<line x1="381.5" y1="133.58" x2="384.5" y2="133.58" stroke="#1a1a1a" stroke-width="1.0"/>
<text x="378.60" y="136.03" font-size="6.3" text-anchor="end" fill="#333" font-weight="normal" stroke="#333" stroke-width="0.1" textLength="90.82" lengthAdjust="spacingAndGlyphs">CHOLESTEROL_HOMEOSTASIS</text>
<line x1="381.5" y1="141.20" x2="384.5" y2="141.20" stroke="#1a1a1a" stroke-width="1.0"/>
<text x="378.60" y="143.65" font-size="6.3" text-anchor="end" fill="#333" font-weight="normal" stroke="#333" stroke-width="0.1" textLength="77.48" lengthAdjust="spacingAndGlyphs">FATTY_ACID_METABOLISM</text>
<line x1="381.5" y1="148.81" x2="384.5" y2="148.81" stroke="#1a1a1a" stroke-width="1.0"/>
<text x="378.60" y="151.26" font-size="6.3" text-anchor="end" fill="#333" font-weight="normal" stroke="#333" stroke-width="0.1" textLength="44.97" lengthAdjust="spacingAndGlyphs">ADIPOGENESIS</text>
<line x1="381.5" y1="156.43" x2="384.5" y2="156.43" stroke="#1a1a1a" stroke-width="1.0"/>
<text x="378.60" y="158.88" font-size="6.3" text-anchor="end" fill="#333" font-weight="normal" stroke="#333" stroke-width="0.1" textLength="36.82" lengthAdjust="spacingAndGlyphs">GLYCOLYSIS</text>
<line x1="381.5" y1="164.04" x2="384.5" y2="164.04" stroke="#1a1a1a" stroke-width="1.0"/>
<text x="378.60" y="166.49" font-size="6.3" text-anchor="end" fill="#333" font-weight="normal" stroke="#333" stroke-width="0.1" textLength="60.73" lengthAdjust="spacingAndGlyphs">MTORC1_SIGNALING</text>
<line x1="381.5" y1="171.66" x2="384.5" y2="171.66" stroke="#1a1a1a" stroke-width="1.0"/>
<text x="378.60" y="174.11" font-size="6.3" text-anchor="end" fill="#333" font-weight="normal" stroke="#333" stroke-width="0.1" textLength="84.21" lengthAdjust="spacingAndGlyphs">PI3K_AKT_MTOR_SIGNALING</text>
<line x1="381.5" y1="179.27" x2="384.5" y2="179.27" stroke="#1a1a1a" stroke-width="1.0"/>
<text x="378.60" y="181.72" font-size="6.3" text-anchor="end" fill="#333" font-weight="normal" stroke="#333" stroke-width="0.1" textLength="70.42" lengthAdjust="spacingAndGlyphs">HEDGEHOG_SIGNALING</text>
<line x1="381.5" y1="186.89" x2="384.5" y2="186.89" stroke="#1a1a1a" stroke-width="1.0"/>
<text x="378.60" y="189.34" font-size="6.3" text-anchor="end" fill="#333" font-weight="normal" stroke="#333" stroke-width="0.1" textLength="96.65" lengthAdjust="spacingAndGlyphs">WNT_BETA_CATENIN_SIGNALING</text>
<line x1="381.5" y1="194.50" x2="384.5" y2="194.50" stroke="#1a1a1a" stroke-width="1.0"/>
<text x="378.60" y="196.95" font-size="6.3" text-anchor="end" fill="#333" font-weight="normal" stroke="#333" stroke-width="0.1" textLength="63.49" lengthAdjust="spacingAndGlyphs">KRAS_SIGNALING_UP</text>
<line x1="381.5" y1="202.12" x2="384.5" y2="202.12" stroke="#1a1a1a" stroke-width="1.0"/>
<text x="378.60" y="204.57" font-size="6.3" text-anchor="end" fill="#333" font-weight="normal" stroke="#333" stroke-width="0.1" textLength="82.99" lengthAdjust="spacingAndGlyphs">INFLAMMATORY_RESPONSE</text>
<line x1="381.5" y1="209.73" x2="384.5" y2="209.73" stroke="#1a1a1a" stroke-width="1.0"/>
<text x="378.60" y="212.18" font-size="6.3" text-anchor="end" fill="#333" font-weight="normal" stroke="#333" stroke-width="0.1" textLength="83.00" lengthAdjust="spacingAndGlyphs">TNFA_SIGNALING_VIA_NFKB</text>
<line x1="381.5" y1="217.35" x2="384.5" y2="217.35" stroke="#1a1a1a" stroke-width="1.0"/>
<text x="378.60" y="219.80" font-size="6.3" text-anchor="end" fill="#333" font-weight="normal" stroke="#333" stroke-width="0.1" textLength="64.93" lengthAdjust="spacingAndGlyphs">IL2_STAT5_SIGNALING</text>
<line x1="381.5" y1="224.96" x2="384.5" y2="224.96" stroke="#1a1a1a" stroke-width="1.0"/>
<text x="378.60" y="227.41" font-size="6.3" text-anchor="end" fill="#333" font-weight="normal" stroke="#333" stroke-width="0.1" textLength="79.15" lengthAdjust="spacingAndGlyphs">IL6_JAK_STAT3_SIGNALING</text>
<line x1="381.5" y1="232.58" x2="384.5" y2="232.58" stroke="#1a1a1a" stroke-width="1.0"/>
<text x="378.60" y="235.03" font-size="6.3" text-anchor="end" fill="#333" font-weight="normal" stroke="#333" stroke-width="0.1" textLength="72.41" lengthAdjust="spacingAndGlyphs">ALLOGRAFT_REJECTION</text>
<line x1="381.5" y1="240.19" x2="384.5" y2="240.19" stroke="#1a1a1a" stroke-width="1.0"/>
<text x="378.60" y="242.64" font-size="6.3" text-anchor="end" fill="#333" font-weight="normal" stroke="#333" stroke-width="0.1" textLength="97.87" lengthAdjust="spacingAndGlyphs">INTERFERON_ALPHA_RESPONSE</text>
<line x1="381.5" y1="247.81" x2="384.5" y2="247.81" stroke="#1a1a1a" stroke-width="1.0"/>
<text x="378.60" y="250.26" font-size="6.3" text-anchor="end" fill="#333" font-weight="normal" stroke="#333" stroke-width="0.1" textLength="100.84" lengthAdjust="spacingAndGlyphs">INTERFERON_GAMMA_RESPONSE</text>
<line x1="381.5" y1="255.42" x2="384.5" y2="255.42" stroke="#1a1a1a" stroke-width="1.0"/>
<text x="378.60" y="257.87" font-size="6.3" text-anchor="end" fill="#333" font-weight="normal" stroke="#333" stroke-width="0.1" textLength="41.99" lengthAdjust="spacingAndGlyphs">COMPLEMENT</text>
<line x1="381.5" y1="263.04" x2="384.5" y2="263.04" stroke="#1a1a1a" stroke-width="1.0"/>
<text x="378.60" y="265.49" font-size="6.3" text-anchor="end" fill="#333" font-weight="normal" stroke="#333" stroke-width="0.1" textLength="42.87" lengthAdjust="spacingAndGlyphs">COAGULATION</text>
<line x1="381.5" y1="270.65" x2="384.5" y2="270.65" stroke="#1a1a1a" stroke-width="1.0"/>
<text x="378.60" y="273.10" font-size="6.3" text-anchor="end" fill="#333" font-weight="normal" stroke="#333" stroke-width="0.1" textLength="122.34" lengthAdjust="spacingAndGlyphs">EPITHELIAL_MESENCHYMAL_TRANSITION</text>
<line x1="381.5" y1="278.27" x2="384.5" y2="278.27" stroke="#1a1a1a" stroke-width="1.0"/>
<text x="378.60" y="280.72" font-size="6.3" text-anchor="end" fill="#333" font-weight="normal" stroke="#333" stroke-width="0.1" textLength="66.02" lengthAdjust="spacingAndGlyphs">TGF_BETA_SIGNALING</text>
<line x1="381.5" y1="285.88" x2="384.5" y2="285.88" stroke="#1a1a1a" stroke-width="1.0"/>
<text x="378.60" y="288.33" font-size="6.3" text-anchor="end" fill="#333" font-weight="normal" stroke="#333" stroke-width="0.1" textLength="34.28" lengthAdjust="spacingAndGlyphs">APOPTOSIS</text>
<line x1="381.5" y1="293.50" x2="384.5" y2="293.50" stroke="#1a1a1a" stroke-width="1.0"/>
<text x="378.60" y="295.95" font-size="6.3" text-anchor="end" fill="#333" font-weight="normal" stroke="#333" stroke-width="0.1" textLength="55.21" lengthAdjust="spacingAndGlyphs">G2M_CHECKPOINT</text>
<line x1="381.5" y1="301.11" x2="384.5" y2="301.11" stroke="#1a1a1a" stroke-width="1.0"/>
<text x="378.60" y="303.56" font-size="6.3" text-anchor="end" fill="#333" font-weight="normal" stroke="#333" stroke-width="0.1" textLength="53.12" lengthAdjust="spacingAndGlyphs">MITOTIC_SPINDLE</text>
<line x1="381.5" y1="308.73" x2="384.5" y2="308.73" stroke="#1a1a1a" stroke-width="1.0"/>
<text x="378.60" y="311.18" font-size="6.3" text-anchor="end" fill="#333" font-weight="normal" stroke="#333" stroke-width="0.1" textLength="41.77" lengthAdjust="spacingAndGlyphs">P53_PATHWAY</text>
<line x1="381.5" y1="316.34" x2="384.5" y2="316.34" stroke="#1a1a1a" stroke-width="1.0"/>
<text x="378.60" y="318.79" font-size="6.3" text-anchor="end" fill="#333" font-weight="normal" stroke="#333" stroke-width="0.1" textLength="41.88" lengthAdjust="spacingAndGlyphs">E2F_TARGETS</text>
<line x1="381.5" y1="323.96" x2="384.5" y2="323.96" stroke="#1a1a1a" stroke-width="1.0"/>
<text x="378.60" y="326.41" font-size="6.3" text-anchor="end" fill="#333" font-weight="normal" stroke="#333" stroke-width="0.1" textLength="37.58" lengthAdjust="spacingAndGlyphs">DNA_REPAIR</text>
<line x1="381.5" y1="331.57" x2="384.5" y2="331.57" stroke="#1a1a1a" stroke-width="1.0"/>
<text x="378.60" y="334.02" font-size="6.3" text-anchor="end" fill="#333" font-weight="normal" stroke="#333" stroke-width="0.1" textLength="54.78" lengthAdjust="spacingAndGlyphs">MYC_TARGETS_V1</text>
<line x1="381.5" y1="339.19" x2="384.5" y2="339.19" stroke="#1a1a1a" stroke-width="1.0"/>
<text x="378.60" y="341.64" font-size="6.3" text-anchor="end" fill="#333" font-weight="normal" stroke="#333" stroke-width="0.1" textLength="54.78" lengthAdjust="spacingAndGlyphs">MYC_TARGETS_V2</text>
<line x1="381.5" y1="346.80" x2="384.5" y2="346.80" stroke="#1a1a1a" stroke-width="1.0"/>
<text x="378.60" y="349.25" font-size="6.3" text-anchor="end" fill="#333" font-weight="normal" stroke="#333" stroke-width="0.1" textLength="64.47" lengthAdjust="spacingAndGlyphs">PROTEIN_SECRETION</text>
<line x1="381.5" y1="354.42" x2="384.5" y2="354.42" stroke="#1a1a1a" stroke-width="1.0"/>
<text x="378.60" y="356.87" font-size="6.3" text-anchor="end" fill="#333" font-weight="normal" stroke="#333" stroke-width="0.1" textLength="54.55" lengthAdjust="spacingAndGlyphs">APICAL_JUNCTION</text>
<line x1="381.5" y1="362.03" x2="384.5" y2="362.03" stroke="#1a1a1a" stroke-width="1.0"/>
<text x="378.60" y="364.48" font-size="6.3" text-anchor="end" fill="#333" font-weight="normal" stroke="#333" stroke-width="0.1" textLength="52.58" lengthAdjust="spacingAndGlyphs">APICAL_SURFACE</text>
<line x1="381.5" y1="369.65" x2="384.5" y2="369.65" stroke="#1a1a1a" stroke-width="1.0"/>
<text x="378.60" y="372.10" font-size="6.3" text-anchor="end" fill="#333" font-weight="normal" stroke="#333" stroke-width="0.1" textLength="98.86" lengthAdjust="spacingAndGlyphs">UNFOLDED_PROTEIN_RESPONSE</text>
<line x1="381.5" y1="377.26" x2="384.5" y2="377.26" stroke="#1a1a1a" stroke-width="1.0"/>
<text x="378.60" y="379.71" font-size="6.3" text-anchor="end" fill="#333" font-weight="normal" stroke="#333" stroke-width="0.1" textLength="40.01" lengthAdjust="spacingAndGlyphs">PEROXISOME</text>
<line x1="381.5" y1="384.88" x2="384.5" y2="384.88" stroke="#1a1a1a" stroke-width="1.0"/>
<text x="378.60" y="387.33" font-size="6.3" text-anchor="end" fill="#333" font-weight="normal" stroke="#333" stroke-width="0.1" textLength="56.54" lengthAdjust="spacingAndGlyphs">UV_RESPONSE_DN</text>
<line x1="381.5" y1="392.49" x2="384.5" y2="392.49" stroke="#1a1a1a" stroke-width="1.0"/>
<text x="378.60" y="394.94" font-size="6.3" text-anchor="end" fill="#333" font-weight="normal" stroke="#333" stroke-width="0.1" textLength="56.22" lengthAdjust="spacingAndGlyphs">UV_RESPONSE_UP</text>
<line x1="381.5" y1="400.11" x2="384.5" y2="400.11" stroke="#1a1a1a" stroke-width="1.0"/>
<text x="378.60" y="402.56" font-size="6.3" text-anchor="end" fill="#333" font-weight="normal" stroke="#333" stroke-width="0.1" textLength="26.45" lengthAdjust="spacingAndGlyphs">HYPOXIA</text>
<line x1="381.5" y1="407.72" x2="384.5" y2="407.72" stroke="#1a1a1a" stroke-width="1.0"/>
<text x="378.60" y="410.17" font-size="6.3" text-anchor="end" fill="#333" font-weight="normal" stroke="#333" stroke-width="0.1" textLength="92.15" lengthAdjust="spacingAndGlyphs">ESTROGEN_RESPONSE_EARLY</text>
<line x1="381.5" y1="415.34" x2="384.5" y2="415.34" stroke="#1a1a1a" stroke-width="1.0"/>
<text x="378.60" y="417.79" font-size="6.3" text-anchor="end" fill="#333" font-weight="normal" stroke="#333" stroke-width="0.1" textLength="87.52" lengthAdjust="spacingAndGlyphs">ESTROGEN_RESPONSE_LATE</text>
<line x1="381.5" y1="422.95" x2="384.5" y2="422.95" stroke="#1a1a1a" stroke-width="1.0"/>
<text x="378.60" y="425.40" font-size="6.3" text-anchor="end" fill="#333" font-weight="normal" stroke="#333" stroke-width="0.1" textLength="70.76" lengthAdjust="spacingAndGlyphs">ANDROGEN_RESPONSE</text>
<line x1="381.5" y1="430.57" x2="384.5" y2="430.57" stroke="#1a1a1a" stroke-width="1.0"/>
<text x="378.60" y="433.02" font-size="6.3" text-anchor="end" fill="#333" font-weight="normal" stroke="#333" stroke-width="0.1" textLength="45.63" lengthAdjust="spacingAndGlyphs">ANGIOGENESIS</text>
<line x1="381.5" y1="438.18" x2="384.5" y2="438.18" stroke="#1a1a1a" stroke-width="1.0"/>
<text x="378.60" y="440.63" font-size="6.3" text-anchor="end" fill="#333" font-weight="normal" stroke="#333" stroke-width="0.1" textLength="40.01" lengthAdjust="spacingAndGlyphs">MYOGENESIS</text>
<line x1="372.5" y1="106.93" x2="510" y2="106.93" stroke="#000" stroke-width="1.6"/>
<line x1="372.5" y1="160.24" x2="510" y2="160.24" stroke="#000" stroke-width="1.6"/>
<line x1="372.5" y1="198.31" x2="510" y2="198.31" stroke="#000" stroke-width="1.6"/>
<line x1="372.5" y1="266.85" x2="510" y2="266.85" stroke="#000" stroke-width="1.6"/>
<line x1="372.5" y1="403.92" x2="510" y2="403.92" stroke="#000" stroke-width="1.6"/>
<line x1="395.50" y1="441.99" x2="395.50" y2="444.99" stroke="#333" stroke-width="0.7"/>
<text transform="translate(399.10,452.19) rotate(-45)" font-size="6.1" text-anchor="end" fill="#333">Liver</text>
<line x1="417.50" y1="441.99" x2="417.50" y2="444.99" stroke="#333" stroke-width="0.7"/>
<text transform="translate(421.10,452.19) rotate(-45)" font-size="6.1" text-anchor="end" fill="#333">Heart</text>
<line x1="439.50" y1="441.99" x2="439.50" y2="444.99" stroke="#333" stroke-width="0.7"/>
<text transform="translate(443.10,452.19) rotate(-45)" font-size="6.1" text-anchor="end" fill="#333">Kidney</text>
<line x1="461.50" y1="441.99" x2="461.50" y2="444.99" stroke="#333" stroke-width="0.7"/>
<text transform="translate(465.10,452.19) rotate(-45)" font-size="6.1" text-anchor="end" fill="#333">Lung</text>
<line x1="483.50" y1="441.99" x2="483.50" y2="444.99" stroke="#333" stroke-width="0.7"/>
<text transform="translate(487.10,452.19) rotate(-45)" font-size="6.1" text-anchor="end" fill="#333">BM</text>
<text x="505.00" y="97.50" font-size="6.6" text-anchor="middle" fill="#333" font-weight="normal" stroke="#333" stroke-width="0.1" textLength="16.40" lengthAdjust="spacingAndGlyphs">heme/</text>
<text x="505.00" y="105.00" font-size="6.6" text-anchor="middle" fill="#333" font-weight="normal" stroke="#333" stroke-width="0.1" textLength="12.79" lengthAdjust="spacingAndGlyphs">ROS</text>
<text transform="translate(508.00,133.58) rotate(-90)" font-size="6.7" text-anchor="middle" fill="#333" stroke="#333" stroke-width="0.08" textLength="30.78" lengthAdjust="spacingAndGlyphs">metabolism</text>
<text transform="translate(508.00,179.27) rotate(-90)" font-size="6.7" text-anchor="middle" fill="#333" stroke="#333" stroke-width="0.08" textLength="23.76" lengthAdjust="spacingAndGlyphs">signaling</text>
<text transform="translate(508.00,232.58) rotate(-90)" font-size="6.7" text-anchor="middle" fill="#333" stroke="#333" stroke-width="0.08" textLength="34.13" lengthAdjust="spacingAndGlyphs">inflammation</text>
<text transform="translate(508.00,335.38) rotate(-90)" font-size="6.7" text-anchor="middle" fill="#333" stroke="#333" stroke-width="0.08" textLength="58.90" lengthAdjust="spacingAndGlyphs">cell death/proliferation</text>
<text transform="translate(508.00,422.95) rotate(-90)" font-size="6.7" text-anchor="middle" fill="#333" stroke="#333" stroke-width="0.08" textLength="16.73" lengthAdjust="spacingAndGlyphs">others</text>
<text x="247.00" y="101.20" font-size="11" text-anchor="start" fill="#000" font-weight="bold" stroke="#000" stroke-width="0.1" >F</text>
<defs><linearGradient id="gF" x1="0" y1="0" x2="0" y2="1"><stop offset="0" stop-color="#e41a1c"/><stop offset="0.21" stop-color="#f07070"/><stop offset="0.39" stop-color="#fbe4e4"/><stop offset="0.42" stop-color="#ffffff"/><stop offset="0.46" stop-color="#e8e8f4"/><stop offset="0.63" stop-color="#8a8ccc"/><stop offset="0.82" stop-color="#3a3a9e"/><stop offset="1" stop-color="#1e1e78"/></linearGradient><linearGradient id="gG" x1="0" y1="0" x2="0" y2="1"><stop offset="0" stop-color="#e41a1c"/><stop offset="0.35" stop-color="#ec5a5a"/><stop offset="0.62" stop-color="#f3a4a4"/><stop offset="0.80" stop-color="#fde8e8"/><stop offset="0.86" stop-color="#f4f4fa"/><stop offset="0.93" stop-color="#6a6ab8"/><stop offset="1" stop-color="#1e1e78"/></linearGradient></defs>
<rect x="273.2" y="291.2" width="17.4" height="45.3" fill="url(#gF)" stroke="#111" stroke-width="0.8"/>
<line x1="273.2" y1="300.35" x2="276" y2="300.35" stroke="#111" stroke-width="0.7"/><line x1="287.8" y1="300.35" x2="290.6" y2="300.35" stroke="#111" stroke-width="0.7"/>
<text x="294.00" y="302.65" font-size="6.6" text-anchor="start" fill="#333" font-weight="normal" stroke="#333" stroke-width="0.1" textLength="3.28" lengthAdjust="spacingAndGlyphs">1</text>
<line x1="273.2" y1="309.90" x2="276" y2="309.90" stroke="#111" stroke-width="0.7"/><line x1="287.8" y1="309.90" x2="290.6" y2="309.90" stroke="#111" stroke-width="0.7"/>
<text x="294.00" y="312.20" font-size="6.6" text-anchor="start" fill="#333" font-weight="normal" stroke="#333" stroke-width="0.1" textLength="3.28" lengthAdjust="spacingAndGlyphs">0</text>
<line x1="273.2" y1="319.45" x2="276" y2="319.45" stroke="#111" stroke-width="0.7"/><line x1="287.8" y1="319.45" x2="290.6" y2="319.45" stroke="#111" stroke-width="0.7"/>
<text x="294.00" y="321.75" font-size="6.6" text-anchor="start" fill="#333" font-weight="normal" stroke="#333" stroke-width="0.1" textLength="6.73" lengthAdjust="spacingAndGlyphs">−1</text>
<line x1="273.2" y1="329.00" x2="276" y2="329.00" stroke="#111" stroke-width="0.7"/><line x1="287.8" y1="329.00" x2="290.6" y2="329.00" stroke="#111" stroke-width="0.7"/>
<text x="294.00" y="331.30" font-size="6.6" text-anchor="start" fill="#333" font-weight="normal" stroke="#333" stroke-width="0.1" textLength="6.73" lengthAdjust="spacingAndGlyphs">−2</text>
<rect x="384.50" y="490.50" width="22.30" height="13.80" fill="#e82a2a"/><rect x="428.50" y="490.50" width="22.30" height="13.80" fill="#f29a9a"/><rect x="450.50" y="490.50" width="22.30" height="13.80" fill="#f4aaaa"/><rect x="472.50" y="490.50" width="22.30" height="13.80" fill="#d8dcf0"/><rect x="384.50" y="504.00" width="22.30" height="13.80" fill="#ea4444"/><rect x="406.50" y="504.00" width="22.30" height="13.80" fill="#fadada"/><rect x="428.50" y="504.00" width="22.30" height="13.80" fill="#f4aaaa"/><rect x="450.50" y="504.00" width="22.30" height="13.80" fill="#f4b0b0"/><rect x="472.50" y="504.00" width="22.30" height="13.80" fill="#6670c0"/><rect x="384.50" y="517.50" width="22.30" height="13.80" fill="#e82828"/><rect x="406.50" y="517.50" width="22.30" height="13.80" fill="#fadada"/><rect x="428.50" y="517.50" width="22.30" height="13.80" fill="#f5b8b8"/><rect x="450.50" y="517.50" width="22.30" height="13.80" fill="#f8c8c8"/><rect x="472.50" y="517.50" width="22.30" height="13.80" fill="#b8c0e4"/><rect x="384.50" y="531.00" width="22.30" height="13.80" fill="#ea4a4a"/><rect x="406.50" y="531.00" width="22.30" height="13.80" fill="#fadada"/><rect x="428.50" y="531.00" width="22.30" height="13.80" fill="#f4aaaa"/><rect x="450.50" y="531.00" width="22.30" height="13.80" fill="#f4b0b0"/><rect x="472.50" y="531.00" width="22.30" height="13.80" fill="#fdf8f8"/><rect x="384.50" y="544.50" width="22.30" height="13.80" fill="#ea4c4c"/><rect x="406.50" y="544.50" width="22.30" height="13.80" fill="#fbe0e0"/><rect x="428.50" y="544.50" width="22.30" height="13.80" fill="#f4a8a8"/><rect x="450.50" y="544.50" width="22.30" height="13.80" fill="#f8d0d0"/><rect x="472.50" y="544.50" width="22.30" height="13.80" fill="#fbe4e4"/><rect x="384.50" y="558.00" width="22.30" height="13.80" fill="#e82a2a"/><rect x="406.50" y="558.00" width="22.30" height="13.80" fill="#2a3296"/><rect x="428.50" y="558.00" width="22.30" height="13.80" fill="#f4aaaa"/><rect x="472.50" y="558.00" width="22.30" height="13.80" fill="#fbe8e8"/><rect x="384.50" y="571.50" width="22.30" height="13.80" fill="#ee6a6a"/><rect x="406.50" y="571.50" width="22.30" height="13.80" fill="#f8d0d0"/><rect x="428.50" y="571.50" width="22.30" height="13.80" fill="#f6bcbc"/><rect x="450.50" y="571.50" width="22.30" height="13.80" fill="#f6bcbc"/><rect x="472.50" y="571.50" width="22.30" height="13.80" fill="#fdf0f0"/><rect x="384.50" y="585.00" width="22.30" height="13.80" fill="#ea4848"/><rect x="428.50" y="585.00" width="22.30" height="13.80" fill="#f6bcbc"/><rect x="450.50" y="585.00" width="22.30" height="13.80" fill="#f6bcbc"/><rect x="384.50" y="598.50" width="22.30" height="13.80" fill="#ea4444"/><rect x="428.50" y="598.50" width="22.30" height="13.80" fill="#f8c8c8"/><rect x="450.50" y="598.50" width="22.30" height="13.80" fill="#f8c8c8"/><rect x="472.50" y="598.50" width="22.30" height="13.80" fill="#fbe0e0"/><rect x="384.50" y="612.00" width="22.30" height="13.80" fill="#ea4a4a"/><rect x="428.50" y="612.00" width="22.30" height="13.80" fill="#f5b8b8"/><rect x="450.50" y="612.00" width="22.30" height="13.80" fill="#f5b8b8"/>
<rect x="384.5" y="490.5" width="110.0" height="135.00" fill="none" stroke="#111" stroke-width="0.9"/>
<line x1="381.5" y1="497.25" x2="384.5" y2="497.25" stroke="#1a1a1a" stroke-width="1.0"/>
<text x="378.60" y="499.25" font-size="6.3" text-anchor="end" fill="#333" font-weight="normal" stroke="#333" stroke-width="0.1" textLength="49.12" lengthAdjust="spacingAndGlyphs">lipopolysaccharide</text>
<line x1="381.5" y1="510.75" x2="384.5" y2="510.75" stroke="#1a1a1a" stroke-width="1.0"/>
<text x="378.60" y="512.75" font-size="6.3" text-anchor="end" fill="#333" font-weight="normal" stroke="#333" stroke-width="0.1" textLength="77.00" lengthAdjust="spacingAndGlyphs">tetradecanoylphorbol acetate</text>
<line x1="381.5" y1="524.25" x2="384.5" y2="524.25" stroke="#1a1a1a" stroke-width="1.0"/>
<text x="378.60" y="526.25" font-size="6.3" text-anchor="end" fill="#333" font-weight="normal" stroke="#333" stroke-width="0.1" textLength="11.61" lengthAdjust="spacingAndGlyphs">TNF</text>
<line x1="381.5" y1="537.75" x2="384.5" y2="537.75" stroke="#1a1a1a" stroke-width="1.0"/>
<text x="378.60" y="539.75" font-size="6.3" text-anchor="end" fill="#333" font-weight="normal" stroke="#333" stroke-width="0.1" textLength="12.28" lengthAdjust="spacingAndGlyphs">IL1B</text>
<line x1="381.5" y1="551.25" x2="384.5" y2="551.25" stroke="#1a1a1a" stroke-width="1.0"/>
<text x="378.60" y="553.25" font-size="6.3" text-anchor="end" fill="#333" font-weight="normal" stroke="#333" stroke-width="0.1" textLength="14.26" lengthAdjust="spacingAndGlyphs">IFNG</text>
<line x1="381.5" y1="564.75" x2="384.5" y2="564.75" stroke="#1a1a1a" stroke-width="1.0"/>
<text x="378.60" y="566.75" font-size="6.3" text-anchor="end" fill="#333" font-weight="normal" stroke="#333" stroke-width="0.1" textLength="12.27" lengthAdjust="spacingAndGlyphs">AGT</text>
<line x1="381.5" y1="578.25" x2="384.5" y2="578.25" stroke="#1a1a1a" stroke-width="1.0"/>
<text x="378.60" y="580.25" font-size="6.3" text-anchor="end" fill="#333" font-weight="normal" stroke="#333" stroke-width="0.1" textLength="8.30" lengthAdjust="spacingAndGlyphs">IL6</text>
<line x1="381.5" y1="591.75" x2="384.5" y2="591.75" stroke="#1a1a1a" stroke-width="1.0"/>
<text x="378.60" y="593.75" font-size="6.3" text-anchor="end" fill="#333" font-weight="normal" stroke="#333" stroke-width="0.1" textLength="38.81" lengthAdjust="spacingAndGlyphs">poly rI:rC-RNA</text>
<line x1="381.5" y1="605.25" x2="384.5" y2="605.25" stroke="#1a1a1a" stroke-width="1.0"/>
<text x="378.60" y="607.25" font-size="6.3" text-anchor="end" fill="#333" font-weight="normal" stroke="#333" stroke-width="0.1" textLength="15.26" lengthAdjust="spacingAndGlyphs">CSF2</text>
<line x1="381.5" y1="618.75" x2="384.5" y2="618.75" stroke="#1a1a1a" stroke-width="1.0"/>
<text x="378.60" y="620.75" font-size="6.3" text-anchor="end" fill="#333" font-weight="normal" stroke="#333" stroke-width="0.1" textLength="41.82" lengthAdjust="spacingAndGlyphs">Interferon alpha</text>
<line x1="395.50" y1="625.5" x2="395.50" y2="628.5" stroke="#333" stroke-width="0.7"/>
<text transform="translate(399.10,635.70) rotate(-45)" font-size="6.1" text-anchor="end" fill="#333">Liver</text>
<line x1="417.50" y1="625.5" x2="417.50" y2="628.5" stroke="#333" stroke-width="0.7"/>
<text transform="translate(421.10,635.70) rotate(-45)" font-size="6.1" text-anchor="end" fill="#333">Heart</text>
<line x1="439.50" y1="625.5" x2="439.50" y2="628.5" stroke="#333" stroke-width="0.7"/>
<text transform="translate(443.10,635.70) rotate(-45)" font-size="6.1" text-anchor="end" fill="#333">Kidney</text>
<line x1="461.50" y1="625.5" x2="461.50" y2="628.5" stroke="#333" stroke-width="0.7"/>
<text transform="translate(465.10,635.70) rotate(-45)" font-size="6.1" text-anchor="end" fill="#333">Lung</text>
<line x1="483.50" y1="625.5" x2="483.50" y2="628.5" stroke="#333" stroke-width="0.7"/>
<text transform="translate(487.10,635.70) rotate(-45)" font-size="6.1" text-anchor="end" fill="#333">BM</text>
<text x="439.50" y="485.20" font-size="8.2" text-anchor="middle" fill="#111" font-weight="normal" stroke="#111" stroke-width="0.1" >AA vs SS</text>
<text x="246.50" y="487.50" font-size="11" text-anchor="start" fill="#000" font-weight="bold" stroke="#000" stroke-width="0.1" >G</text>
<rect x="273.3" y="531.2" width="18.8" height="47.6" fill="url(#gG)" stroke="#111" stroke-width="0.8"/>
<line x1="273.3" y1="543.40" x2="276.3" y2="543.40" stroke="#111" stroke-width="0.7"/><line x1="289.1" y1="543.40" x2="292.1" y2="543.40" stroke="#111" stroke-width="0.7"/>
<text x="295.60" y="545.70" font-size="6.6" text-anchor="start" fill="#333" font-weight="normal" stroke="#333" stroke-width="0.1" textLength="6.56" lengthAdjust="spacingAndGlyphs">10</text>
<line x1="273.3" y1="557.95" x2="276.3" y2="557.95" stroke="#111" stroke-width="0.7"/><line x1="289.1" y1="557.95" x2="292.1" y2="557.95" stroke="#111" stroke-width="0.7"/>
<text x="295.60" y="560.25" font-size="6.6" text-anchor="start" fill="#333" font-weight="normal" stroke="#333" stroke-width="0.1" textLength="3.28" lengthAdjust="spacingAndGlyphs">5</text>
<line x1="273.3" y1="572.50" x2="276.3" y2="572.50" stroke="#111" stroke-width="0.7"/><line x1="289.1" y1="572.50" x2="292.1" y2="572.50" stroke="#111" stroke-width="0.7"/>
<text x="295.60" y="574.80" font-size="6.6" text-anchor="start" fill="#333" font-weight="normal" stroke="#333" stroke-width="0.1" textLength="3.28" lengthAdjust="spacingAndGlyphs">0</text>
<rect x="0.5" y="0.5" width="519" height="661" fill="none" stroke="#555" stroke-width="1"/>
</svg></body></html>
